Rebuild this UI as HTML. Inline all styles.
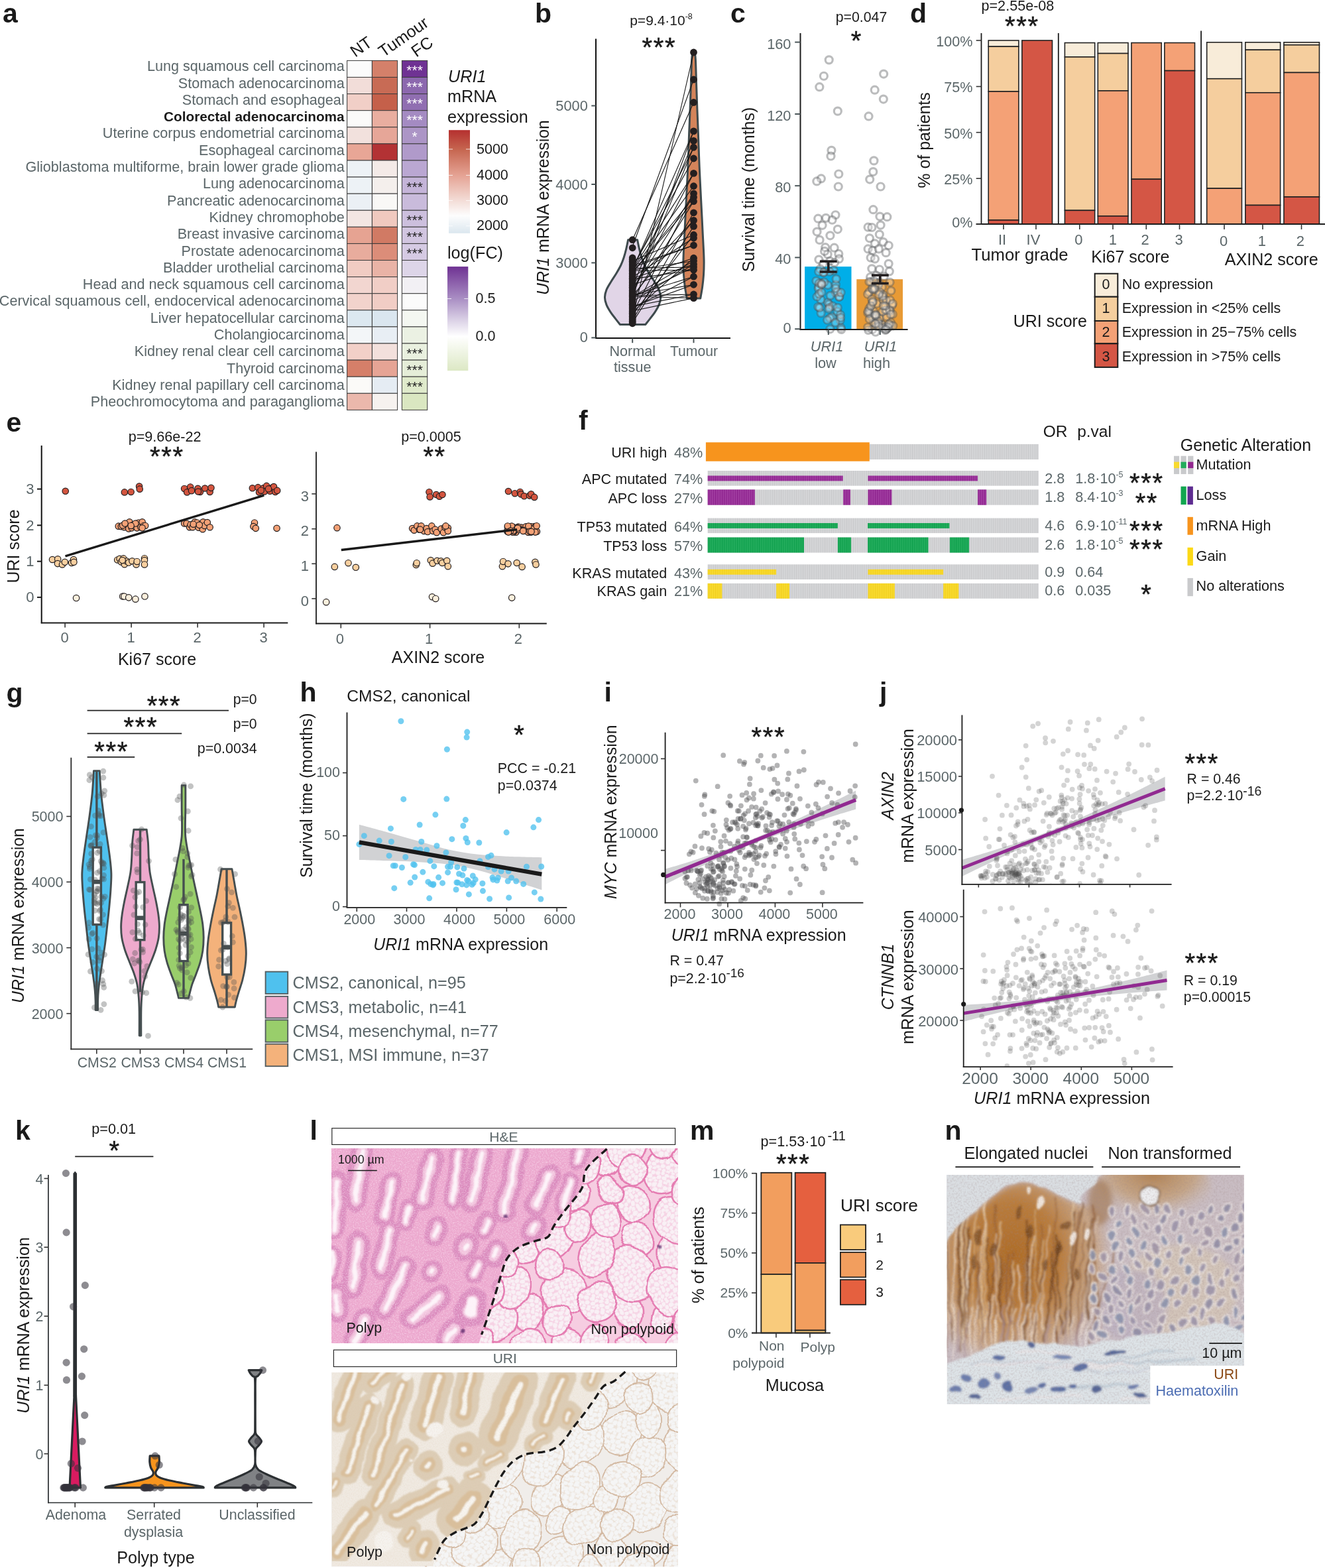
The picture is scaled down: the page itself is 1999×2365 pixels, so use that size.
<!DOCTYPE html>
<html lang="en">
<head>
<meta charset="utf-8">
<title>URI1 expression in colorectal cancer</title>
<style>
html,body{margin:0;padding:0;background:#fff;}
body{width:1999px;height:2365px;overflow:hidden;}
svg{display:block;font-family:"Liberation Sans",Arial,Helvetica,sans-serif;}
</style>
</head>
<body>
<svg width="1999" height="2365" viewBox="0 0 1999 2365" role="img" aria-label="URI1 expression across cancers and in colorectal polyps">
<text x="4" y="33.5" font-size="41" fill="#1a1a1a" font-weight="bold">a</text>
<text x="519.7" y="107.2" font-size="21.6" fill="#5b6669" text-anchor="end">Lung squamous cell carcinoma</text>
<rect x="523.6" y="91.4" width="37.8" height="25.09" fill="#FBFBFB" stroke="#3a3a3a" stroke-width="1"/>
<rect x="561.4" y="91.4" width="38.2" height="25.09" fill="#D4806A" stroke="#3a3a3a" stroke-width="1"/>
<rect x="606.4" y="91.4" width="38.3" height="25.09" fill="#6F3293" stroke="#3a3a3a" stroke-width="1"/>
<text x="625.55" y="112.6" font-size="21" fill="#fff" text-anchor="middle">***</text>
<text x="519.7" y="132.5" font-size="21.6" fill="#5b6669" text-anchor="end">Stomach adenocarcinoma</text>
<rect x="523.6" y="116.5" width="37.8" height="25.09" fill="#F2DDD9" stroke="#3a3a3a" stroke-width="1"/>
<rect x="561.4" y="116.5" width="38.2" height="25.09" fill="#C86B55" stroke="#3a3a3a" stroke-width="1"/>
<rect x="606.4" y="116.5" width="38.3" height="25.09" fill="#8C68AE" stroke="#3a3a3a" stroke-width="1"/>
<text x="625.55" y="137.73" font-size="21" fill="#fff" text-anchor="middle">***</text>
<text x="519.7" y="157.81" font-size="21.6" fill="#5b6669" text-anchor="end">Stomach and esophageal</text>
<rect x="523.6" y="141.59" width="37.8" height="25.09" fill="#F1CFC7" stroke="#3a3a3a" stroke-width="1"/>
<rect x="561.4" y="141.59" width="38.2" height="25.09" fill="#C5604A" stroke="#3a3a3a" stroke-width="1"/>
<rect x="606.4" y="141.59" width="38.3" height="25.09" fill="#906EB1" stroke="#3a3a3a" stroke-width="1"/>
<text x="625.55" y="162.86" font-size="21" fill="#fff" text-anchor="middle">***</text>
<text x="519.7" y="183.12" font-size="20.8" fill="#1a1a1a" text-anchor="end" font-weight="bold">Colorectal adenocarcinoma</text>
<rect x="523.6" y="166.69" width="37.8" height="25.09" fill="#FBFAF9" stroke="#3a3a3a" stroke-width="1"/>
<rect x="561.4" y="166.69" width="38.2" height="25.09" fill="#E9AEA0" stroke="#3a3a3a" stroke-width="1"/>
<rect x="606.4" y="166.69" width="38.3" height="25.09" fill="#A48BC2" stroke="#3a3a3a" stroke-width="1"/>
<text x="625.55" y="187.99" font-size="21" fill="#fff" text-anchor="middle">***</text>
<text x="519.7" y="208.42" font-size="21.6" fill="#5b6669" text-anchor="end">Uterine corpus endometrial carcinoma</text>
<rect x="523.6" y="191.78" width="37.8" height="25.09" fill="#F2E1DD" stroke="#3a3a3a" stroke-width="1"/>
<rect x="561.4" y="191.78" width="38.2" height="25.09" fill="#E6A698" stroke="#3a3a3a" stroke-width="1"/>
<rect x="606.4" y="191.78" width="38.3" height="25.09" fill="#AC95C6" stroke="#3a3a3a" stroke-width="1"/>
<text x="625.55" y="213.12" font-size="21" fill="#fff" text-anchor="middle">*</text>
<text x="519.7" y="233.73" font-size="21.6" fill="#5b6669" text-anchor="end">Esophageal carcinoma</text>
<rect x="523.6" y="216.88" width="37.8" height="25.09" fill="#E8A696" stroke="#3a3a3a" stroke-width="1"/>
<rect x="561.4" y="216.88" width="38.2" height="25.09" fill="#B33234" stroke="#3a3a3a" stroke-width="1"/>
<rect x="606.4" y="216.88" width="38.3" height="25.09" fill="#B09ACA" stroke="#3a3a3a" stroke-width="1"/>
<text x="519.7" y="259.03" font-size="21.6" fill="#5b6669" text-anchor="end">Glioblastoma multiforme, brain lower grade glioma</text>
<rect x="523.6" y="241.97" width="37.8" height="25.09" fill="#EDF2F6" stroke="#3a3a3a" stroke-width="1"/>
<rect x="561.4" y="241.97" width="38.2" height="25.09" fill="#F4EAE7" stroke="#3a3a3a" stroke-width="1"/>
<rect x="606.4" y="241.97" width="38.3" height="25.09" fill="#BAA7D2" stroke="#3a3a3a" stroke-width="1"/>
<text x="519.7" y="284.33" font-size="21.6" fill="#5b6669" text-anchor="end">Lung adenocarcinoma</text>
<rect x="523.6" y="267.06" width="37.8" height="25.09" fill="#EDF2F6" stroke="#3a3a3a" stroke-width="1"/>
<rect x="561.4" y="267.06" width="38.2" height="25.09" fill="#F4EFEC" stroke="#3a3a3a" stroke-width="1"/>
<rect x="606.4" y="267.06" width="38.3" height="25.09" fill="#C4B4D8" stroke="#3a3a3a" stroke-width="1"/>
<text x="625.55" y="288.51" font-size="21" fill="#222" text-anchor="middle">***</text>
<text x="519.7" y="309.64" font-size="21.6" fill="#5b6669" text-anchor="end">Pancreatic adenocarcinoma</text>
<rect x="523.6" y="292.16" width="37.8" height="25.09" fill="#EBF0F5" stroke="#3a3a3a" stroke-width="1"/>
<rect x="561.4" y="292.16" width="38.2" height="25.09" fill="#F9F8F6" stroke="#3a3a3a" stroke-width="1"/>
<rect x="606.4" y="292.16" width="38.3" height="25.09" fill="#C9BBDB" stroke="#3a3a3a" stroke-width="1"/>
<text x="519.7" y="334.94" font-size="21.6" fill="#5b6669" text-anchor="end">Kidney chromophobe</text>
<rect x="523.6" y="317.25" width="37.8" height="25.09" fill="#F3E6E3" stroke="#3a3a3a" stroke-width="1"/>
<rect x="561.4" y="317.25" width="38.2" height="25.09" fill="#F0C9BF" stroke="#3a3a3a" stroke-width="1"/>
<rect x="606.4" y="317.25" width="38.3" height="25.09" fill="#CCBFDD" stroke="#3a3a3a" stroke-width="1"/>
<text x="625.55" y="338.77" font-size="21" fill="#222" text-anchor="middle">***</text>
<text x="519.7" y="360.25" font-size="21.6" fill="#5b6669" text-anchor="end">Breast invasive carcinoma</text>
<rect x="523.6" y="342.35" width="37.8" height="25.09" fill="#E6A392" stroke="#3a3a3a" stroke-width="1"/>
<rect x="561.4" y="342.35" width="38.2" height="25.09" fill="#D17A64" stroke="#3a3a3a" stroke-width="1"/>
<rect x="606.4" y="342.35" width="38.3" height="25.09" fill="#D1C5E0" stroke="#3a3a3a" stroke-width="1"/>
<text x="625.55" y="363.9" font-size="21" fill="#222" text-anchor="middle">***</text>
<text x="519.7" y="385.56" font-size="21.6" fill="#5b6669" text-anchor="end">Prostate adenocarcinoma</text>
<rect x="523.6" y="367.44" width="37.8" height="25.09" fill="#E8AC9D" stroke="#3a3a3a" stroke-width="1"/>
<rect x="561.4" y="367.44" width="38.2" height="25.09" fill="#DC8D79" stroke="#3a3a3a" stroke-width="1"/>
<rect x="606.4" y="367.44" width="38.3" height="25.09" fill="#D5CAE3" stroke="#3a3a3a" stroke-width="1"/>
<text x="625.55" y="389.03" font-size="21" fill="#222" text-anchor="middle">***</text>
<text x="519.7" y="410.86" font-size="21.6" fill="#5b6669" text-anchor="end">Bladder urothelial carcinoma</text>
<rect x="523.6" y="392.54" width="37.8" height="25.09" fill="#F1CCC3" stroke="#3a3a3a" stroke-width="1"/>
<rect x="561.4" y="392.54" width="38.2" height="25.09" fill="#E9B3A6" stroke="#3a3a3a" stroke-width="1"/>
<rect x="606.4" y="392.54" width="38.3" height="25.09" fill="#DDD5E8" stroke="#3a3a3a" stroke-width="1"/>
<text x="519.7" y="436.16" font-size="21.6" fill="#5b6669" text-anchor="end">Head and neck squamous cell carcinoma</text>
<rect x="523.6" y="417.63" width="37.8" height="25.09" fill="#F2D6D0" stroke="#3a3a3a" stroke-width="1"/>
<rect x="561.4" y="417.63" width="38.2" height="25.09" fill="#F1CEC6" stroke="#3a3a3a" stroke-width="1"/>
<rect x="606.4" y="417.63" width="38.3" height="25.09" fill="#F2F0F4" stroke="#3a3a3a" stroke-width="1"/>
<text x="519.7" y="461.47" font-size="21.6" fill="#5b6669" text-anchor="end">Cervical squamous cell, endocervical adenocarcinoma</text>
<rect x="523.6" y="442.73" width="37.8" height="25.09" fill="#F2D3CC" stroke="#3a3a3a" stroke-width="1"/>
<rect x="561.4" y="442.73" width="38.2" height="25.09" fill="#F1CDC5" stroke="#3a3a3a" stroke-width="1"/>
<rect x="606.4" y="442.73" width="38.3" height="25.09" fill="#FBFBFB" stroke="#3a3a3a" stroke-width="1"/>
<text x="519.7" y="486.77" font-size="21.6" fill="#5b6669" text-anchor="end">Liver hepatocellular carcinoma</text>
<rect x="523.6" y="467.82" width="37.8" height="25.09" fill="#DCE8F0" stroke="#3a3a3a" stroke-width="1"/>
<rect x="561.4" y="467.82" width="38.2" height="25.09" fill="#DAE6EF" stroke="#3a3a3a" stroke-width="1"/>
<rect x="606.4" y="467.82" width="38.3" height="25.09" fill="#F4F7F1" stroke="#3a3a3a" stroke-width="1"/>
<text x="519.7" y="512.08" font-size="21.6" fill="#5b6669" text-anchor="end">Cholangiocarcinoma</text>
<rect x="523.6" y="492.92" width="37.8" height="25.09" fill="#F3F6F8" stroke="#3a3a3a" stroke-width="1"/>
<rect x="561.4" y="492.92" width="38.2" height="25.09" fill="#E8EEF4" stroke="#3a3a3a" stroke-width="1"/>
<rect x="606.4" y="492.92" width="38.3" height="25.09" fill="#EBF1E3" stroke="#3a3a3a" stroke-width="1"/>
<text x="519.7" y="537.38" font-size="21.6" fill="#5b6669" text-anchor="end">Kidney renal clear cell carcinoma</text>
<rect x="523.6" y="518.01" width="37.8" height="25.09" fill="#F2D0C8" stroke="#3a3a3a" stroke-width="1"/>
<rect x="561.4" y="518.01" width="38.2" height="25.09" fill="#F3E0DC" stroke="#3a3a3a" stroke-width="1"/>
<rect x="606.4" y="518.01" width="38.3" height="25.09" fill="#E9F0DF" stroke="#3a3a3a" stroke-width="1"/>
<text x="625.55" y="539.81" font-size="21" fill="#222" text-anchor="middle">***</text>
<text x="519.7" y="562.69" font-size="21.6" fill="#5b6669" text-anchor="end">Thyroid carcinoma</text>
<rect x="523.6" y="543.11" width="37.8" height="25.09" fill="#D57F69" stroke="#3a3a3a" stroke-width="1"/>
<rect x="561.4" y="543.11" width="38.2" height="25.09" fill="#E6A495" stroke="#3a3a3a" stroke-width="1"/>
<rect x="606.4" y="543.11" width="38.3" height="25.09" fill="#E5EDD8" stroke="#3a3a3a" stroke-width="1"/>
<text x="625.55" y="564.94" font-size="21" fill="#222" text-anchor="middle">***</text>
<text x="519.7" y="588" font-size="21.6" fill="#5b6669" text-anchor="end">Kidney renal papillary cell carcinoma</text>
<rect x="523.6" y="568.2" width="37.8" height="25.09" fill="#FBFAF8" stroke="#3a3a3a" stroke-width="1"/>
<rect x="561.4" y="568.2" width="38.2" height="25.09" fill="#E5ECF3" stroke="#3a3a3a" stroke-width="1"/>
<rect x="606.4" y="568.2" width="38.3" height="25.09" fill="#DFEACB" stroke="#3a3a3a" stroke-width="1"/>
<text x="625.55" y="590.07" font-size="21" fill="#222" text-anchor="middle">***</text>
<text x="519.7" y="613.3" font-size="21.6" fill="#5b6669" text-anchor="end">Pheochromocytoma and paraganglioma</text>
<rect x="523.6" y="593.3" width="37.8" height="25.09" fill="#EBB8AC" stroke="#3a3a3a" stroke-width="1"/>
<rect x="561.4" y="593.3" width="38.2" height="25.09" fill="#F6F2EF" stroke="#3a3a3a" stroke-width="1"/>
<rect x="606.4" y="593.3" width="38.3" height="25.09" fill="#DAE7C1" stroke="#3a3a3a" stroke-width="1"/>
<text x="536" y="87" font-size="25" fill="#1a1a1a" transform="rotate(-35 536 87)">NT</text>
<text x="578.5" y="87" font-size="25" fill="#1a1a1a" transform="rotate(-35 578.5 87)">Tumour</text>
<text x="628" y="87" font-size="25" fill="#1a1a1a" transform="rotate(-35 628 87)">FC</text>
<defs><linearGradient id="gRed" x1="0" y1="0" x2="0" y2="1"><stop offset="0" stop-color="#B5302F"/><stop offset="0.19" stop-color="#C66650"/><stop offset="0.44" stop-color="#E5A394"/><stop offset="0.68" stop-color="#F3DCD6"/><stop offset="0.83" stop-color="#FDFDFD"/><stop offset="1" stop-color="#DBE7EF"/></linearGradient><linearGradient id="gPur" x1="0" y1="0" x2="0" y2="1"><stop offset="0" stop-color="#6F3293"/><stop offset="0.31" stop-color="#AA8FC4"/><stop offset="0.52" stop-color="#DCD3E7"/><stop offset="0.67" stop-color="#FFFFFF"/><stop offset="1" stop-color="#DCE8C4"/></linearGradient></defs>
<text x="676" y="123.5" font-size="25.2" fill="#1a1a1a" font-style="italic">URI1</text>
<text x="675" y="153.5" font-size="25.2" fill="#1a1a1a">mRNA</text>
<text x="675" y="184.5" font-size="25.2" fill="#1a1a1a">expression</text>
<rect x="677" y="196.2" width="32" height="155.6" fill="url(#gRed)"/>
<line x1="677" y1="225" x2="683" y2="225" stroke="#fff" stroke-width="0.8"/>
<line x1="703" y1="225" x2="709" y2="225" stroke="#fff" stroke-width="0.8"/>
<text x="719" y="231.5" font-size="21.5" fill="#1a1a1a">5000</text>
<line x1="677" y1="264.4" x2="683" y2="264.4" stroke="#fff" stroke-width="0.8"/>
<line x1="703" y1="264.4" x2="709" y2="264.4" stroke="#fff" stroke-width="0.8"/>
<text x="719" y="270.9" font-size="21.5" fill="#1a1a1a">4000</text>
<line x1="677" y1="302.6" x2="683" y2="302.6" stroke="#fff" stroke-width="0.8"/>
<line x1="703" y1="302.6" x2="709" y2="302.6" stroke="#fff" stroke-width="0.8"/>
<text x="719" y="309.1" font-size="21.5" fill="#1a1a1a">3000</text>
<line x1="677" y1="340.8" x2="683" y2="340.8" stroke="#fff" stroke-width="0.8"/>
<line x1="703" y1="340.8" x2="709" y2="340.8" stroke="#fff" stroke-width="0.8"/>
<text x="719" y="347.3" font-size="21.5" fill="#1a1a1a">2000</text>
<text x="675" y="389.5" font-size="25.2" fill="#1a1a1a">log(FC)</text>
<rect x="675" y="402.1" width="31.3" height="157" fill="url(#gPur)"/>
<line x1="675" y1="450.5" x2="681" y2="450.5" stroke="#fff" stroke-width="0.8"/>
<line x1="700.3" y1="450.5" x2="706.3" y2="450.5" stroke="#fff" stroke-width="0.8"/>
<text x="717.5" y="457" font-size="21.5" fill="#1a1a1a">0.5</text>
<line x1="675" y1="507" x2="681" y2="507" stroke="#fff" stroke-width="0.8"/>
<line x1="700.3" y1="507" x2="706.3" y2="507" stroke="#fff" stroke-width="0.8"/>
<text x="717.5" y="513.5" font-size="21.5" fill="#1a1a1a">0.0</text>
<text x="807" y="33.5" font-size="41" fill="#1a1a1a" font-weight="bold">b</text>
<text x="997.5" y="38" font-size="21" fill="#1a1a1a" text-anchor="middle">p=9.4·10<tspan font-size="12.5" dy="-9">-8</tspan></text>
<text x="994.3" y="84.6" font-size="40" fill="#1a1a1a" text-anchor="middle" letter-spacing="1.6" stroke="#1a1a1a" stroke-width="0.5">***</text>
<path d="M947.62 361.71 C947.16 363.9 945.96 370.34 944.88 374.81 C943.8 379.28 942.49 384.37 941.13 388.53 C939.78 392.69 938.64 395.8 936.77 399.75 C934.9 403.7 932.51 407.86 929.91 412.22 C927.31 416.59 923.67 421.79 921.18 425.94 C918.69 430.1 916.4 433.43 914.94 437.17 C913.49 440.91 912.45 444.65 912.45 448.39 C912.45 452.14 913.49 455.88 914.94 459.62 C916.4 463.36 918.89 467.31 921.18 470.84 C923.47 474.38 926.27 477.7 928.66 480.82 C931.05 483.94 934.38 488.1 935.52 489.55 L973.69 489.55 L973.69 489.55 C974.83 488.1 978.16 483.94 980.55 480.82 C982.94 477.7 985.74 474.38 988.03 470.84 C990.32 467.31 992.81 463.36 994.27 459.62 C995.72 455.88 996.76 452.14 996.76 448.39 C996.76 444.65 995.72 440.91 994.27 437.17 C992.81 433.43 990.52 430.1 988.03 425.94 C985.54 421.79 981.9 416.59 979.3 412.22 C976.7 407.86 974.31 403.7 972.44 399.75 C970.57 395.8 969.43 392.69 968.07 388.53 C966.72 384.37 965.41 379.28 964.33 374.81 C963.25 370.34 962.05 363.9 961.59 361.71 Z" fill="#E1D5E7" stroke="#3f4b4e" stroke-width="3" stroke-linejoin="round"/>
<path d="M1036.3 450 C1035.82 447.17 1034.2 438.88 1033.4 433 C1032.6 427.12 1031.92 420.87 1031.5 414.7 C1031.08 408.53 1030.9 402.23 1030.9 396 C1030.9 389.77 1031.18 384.57 1031.5 377.3 C1031.82 370.03 1032.38 360.72 1032.8 352.4 C1033.22 344.08 1033.58 335.72 1034 327.4 C1034.42 319.08 1034.67 315.07 1035.3 302.5 C1035.93 289.93 1037.08 268.73 1037.8 252 C1038.52 235.27 1039.05 216.65 1039.6 202.1 C1040.15 187.55 1040.63 177.17 1041.1 164.7 C1041.57 152.23 1041.98 139.75 1042.4 127.3 C1042.82 114.85 1043.18 98.05 1043.6 90 C1044.02 81.95 1044.68 80.83 1044.9 79 L1048.1 79 C1048.32 80.83 1048.98 81.95 1049.4 90 C1049.82 98.05 1050.18 114.85 1050.6 127.3 C1051.02 139.75 1051.43 152.23 1051.9 164.7 C1052.37 177.17 1052.85 187.55 1053.4 202.1 C1053.95 216.65 1054.48 235.27 1055.2 252 C1055.92 268.73 1057.07 289.93 1057.7 302.5 C1058.33 315.07 1058.58 319.08 1059 327.4 C1059.42 335.72 1059.78 344.08 1060.2 352.4 C1060.62 360.72 1061.18 370.03 1061.5 377.3 C1061.82 384.57 1062.1 389.77 1062.1 396 C1062.1 402.23 1061.92 408.53 1061.5 414.7 C1061.08 420.87 1060.4 427.12 1059.6 433 C1058.8 438.88 1057.18 447.17 1056.7 450 Z" fill="#D4845A" stroke="#3f4b4e" stroke-width="3" stroke-linejoin="round"/>
<g stroke="#151515" stroke-width="1.1">
<line x1="954.2" y1="481" x2="1046.5" y2="79"/>
<line x1="954.2" y1="372" x2="1046.5" y2="120"/>
<line x1="954.2" y1="362" x2="1046.5" y2="154.5"/>
<line x1="954.2" y1="406.45" x2="1046.5" y2="197.9"/>
<line x1="954.2" y1="447.69" x2="1046.5" y2="197.9"/>
<line x1="954.2" y1="432.55" x2="1046.5" y2="212.4"/>
<line x1="954.2" y1="405.16" x2="1046.5" y2="222.3"/>
<line x1="954.2" y1="445.16" x2="1046.5" y2="222.3"/>
<line x1="954.2" y1="403.34" x2="1046.5" y2="239"/>
<line x1="954.2" y1="438.59" x2="1046.5" y2="261.4"/>
<line x1="954.2" y1="406.22" x2="1046.5" y2="261.4"/>
<line x1="954.2" y1="408.07" x2="1046.5" y2="280.7"/>
<line x1="954.2" y1="437.78" x2="1046.5" y2="291.9"/>
<line x1="954.2" y1="473.59" x2="1046.5" y2="291.9"/>
<line x1="954.2" y1="411.02" x2="1046.5" y2="297.5"/>
<line x1="954.2" y1="411.32" x2="1046.5" y2="303.7"/>
<line x1="954.2" y1="451.74" x2="1046.5" y2="303.7"/>
<line x1="954.2" y1="483.77" x2="1046.5" y2="320.8"/>
<line x1="954.2" y1="446.71" x2="1046.5" y2="332.4"/>
<line x1="954.2" y1="428.67" x2="1046.5" y2="332.4"/>
<line x1="954.2" y1="486.63" x2="1046.5" y2="341.4"/>
<line x1="954.2" y1="393.66" x2="1046.5" y2="354.2"/>
<line x1="954.2" y1="474.85" x2="1046.5" y2="354.2"/>
<line x1="954.2" y1="417.96" x2="1046.5" y2="359"/>
<line x1="954.2" y1="403.43" x2="1046.5" y2="370"/>
<line x1="954.2" y1="400.78" x2="1046.5" y2="370"/>
<line x1="954.2" y1="419.85" x2="1046.5" y2="389.2"/>
<line x1="954.2" y1="470.61" x2="1046.5" y2="389.2"/>
<line x1="954.2" y1="407.48" x2="1046.5" y2="393.5"/>
<line x1="954.2" y1="447.37" x2="1046.5" y2="393.5"/>
<line x1="954.2" y1="454.88" x2="1046.5" y2="398.5"/>
<line x1="954.2" y1="429.69" x2="1046.5" y2="398.5"/>
<line x1="954.2" y1="448.25" x2="1046.5" y2="402.9"/>
<line x1="954.2" y1="404.56" x2="1046.5" y2="402.9"/>
<line x1="954.2" y1="408.31" x2="1046.5" y2="407.2"/>
<line x1="954.2" y1="420.87" x2="1046.5" y2="407.2"/>
<line x1="954.2" y1="464.77" x2="1046.5" y2="417.2"/>
<line x1="954.2" y1="445.61" x2="1046.5" y2="417.2"/>
<line x1="954.2" y1="445.31" x2="1046.5" y2="429.3"/>
<line x1="954.2" y1="462.6" x2="1046.5" y2="429.3"/>
<line x1="954.2" y1="462.21" x2="1046.5" y2="444"/>
<line x1="954.2" y1="447" x2="1046.5" y2="449.6"/>
<line x1="954.2" y1="446" x2="1046.5" y2="444"/>
<line x1="954.2" y1="469" x2="1046.5" y2="449.6"/>
</g>
<g fill="#231f20">
<circle cx="954.2" cy="361.7" r="5.4"/>
<circle cx="954.2" cy="373.8" r="5.4"/>
<circle cx="954.2" cy="389" r="5.4"/>
<circle cx="954.2" cy="391.6" r="5.4"/>
<circle cx="954.2" cy="394.2" r="5.4"/>
<circle cx="954.2" cy="396.8" r="5.4"/>
<circle cx="954.2" cy="399.4" r="5.4"/>
<circle cx="954.2" cy="402" r="5.4"/>
<circle cx="954.2" cy="404.6" r="5.4"/>
<circle cx="954.2" cy="407.2" r="5.4"/>
<circle cx="954.2" cy="409.8" r="5.4"/>
<circle cx="954.2" cy="412.4" r="5.4"/>
<circle cx="954.2" cy="415" r="5.4"/>
<circle cx="954.2" cy="417.6" r="5.4"/>
<circle cx="954.2" cy="420.2" r="5.4"/>
<circle cx="954.2" cy="422.8" r="5.4"/>
<circle cx="954.2" cy="425.4" r="5.4"/>
<circle cx="954.2" cy="428" r="5.4"/>
<circle cx="954.2" cy="430.6" r="5.4"/>
<circle cx="954.2" cy="433.2" r="5.4"/>
<circle cx="954.2" cy="435.8" r="5.4"/>
<circle cx="954.2" cy="438.4" r="5.4"/>
<circle cx="954.2" cy="441" r="5.4"/>
<circle cx="954.2" cy="443.6" r="5.4"/>
<circle cx="954.2" cy="446.2" r="5.4"/>
<circle cx="954.2" cy="448.8" r="5.4"/>
<circle cx="954.2" cy="451.4" r="5.4"/>
<circle cx="954.2" cy="454" r="5.4"/>
<circle cx="954.2" cy="456.6" r="5.4"/>
<circle cx="954.2" cy="459.2" r="5.4"/>
<circle cx="954.2" cy="461.8" r="5.4"/>
<circle cx="954.2" cy="464.4" r="5.4"/>
<circle cx="954.2" cy="467" r="5.4"/>
<circle cx="954.2" cy="469.6" r="5.4"/>
<circle cx="954.2" cy="472.2" r="5.4"/>
<circle cx="954.2" cy="474.8" r="5.4"/>
<circle cx="954.2" cy="477.4" r="5.4"/>
<circle cx="954.2" cy="480" r="5.4"/>
<circle cx="954.2" cy="482.6" r="5.4"/>
<circle cx="954.2" cy="485.2" r="5.4"/>
<circle cx="954.2" cy="487.8" r="5.4"/>
<circle cx="1046.5" cy="79" r="5.4"/>
<circle cx="1046.5" cy="120" r="5.4"/>
<circle cx="1046.5" cy="154.5" r="5.4"/>
<circle cx="1046.5" cy="197.9" r="5.4"/>
<circle cx="1046.5" cy="212.4" r="5.4"/>
<circle cx="1046.5" cy="222.3" r="5.4"/>
<circle cx="1046.5" cy="239" r="5.4"/>
<circle cx="1046.5" cy="261.4" r="5.4"/>
<circle cx="1046.5" cy="280.7" r="5.4"/>
<circle cx="1046.5" cy="291.9" r="5.4"/>
<circle cx="1046.5" cy="297.5" r="5.4"/>
<circle cx="1046.5" cy="303.7" r="5.4"/>
<circle cx="1046.5" cy="320.8" r="5.4"/>
<circle cx="1046.5" cy="332.4" r="5.4"/>
<circle cx="1046.5" cy="341.4" r="5.4"/>
<circle cx="1046.5" cy="354.2" r="5.4"/>
<circle cx="1046.5" cy="359" r="5.4"/>
<circle cx="1046.5" cy="370" r="5.4"/>
<circle cx="1046.5" cy="389.2" r="5.4"/>
<circle cx="1046.5" cy="393.5" r="5.4"/>
<circle cx="1046.5" cy="398.5" r="5.4"/>
<circle cx="1046.5" cy="402.9" r="5.4"/>
<circle cx="1046.5" cy="407.2" r="5.4"/>
<circle cx="1046.5" cy="417.2" r="5.4"/>
<circle cx="1046.5" cy="429.3" r="5.4"/>
<circle cx="1046.5" cy="444" r="5.4"/>
<circle cx="1046.5" cy="449.6" r="5.4"/>
</g>
<line x1="899" y1="58.5" x2="899" y2="511.1" stroke="#111" stroke-width="2"/>
<line x1="898" y1="510.1" x2="1102" y2="510.1" stroke="#111" stroke-width="2"/>
<line x1="892.3" y1="159.5" x2="899" y2="159.5" stroke="#4a5558" stroke-width="2"/>
<text x="886.8" y="167.4" font-size="21.8" fill="#5b6669" text-anchor="end">5000</text>
<line x1="892.3" y1="278" x2="899" y2="278" stroke="#4a5558" stroke-width="2"/>
<text x="886.8" y="285.9" font-size="21.8" fill="#5b6669" text-anchor="end">4000</text>
<line x1="892.3" y1="396.4" x2="899" y2="396.4" stroke="#4a5558" stroke-width="2"/>
<text x="886.8" y="404.3" font-size="21.8" fill="#5b6669" text-anchor="end">3000</text>
<line x1="892.3" y1="509.4" x2="899" y2="509.4" stroke="#4a5558" stroke-width="2"/>
<text x="886.8" y="516.2" font-size="21.8" fill="#5b6669" text-anchor="end">0</text>
<line x1="954.2" y1="510.1" x2="954.2" y2="517.2" stroke="#4a5558" stroke-width="2"/>
<line x1="1046.5" y1="510.1" x2="1046.5" y2="517.2" stroke="#4a5558" stroke-width="2"/>
<text x="954.2" y="537" font-size="21.6" fill="#5b6669" text-anchor="middle">Normal</text>
<text x="954.2" y="560.5" font-size="21.6" fill="#5b6669" text-anchor="middle">tissue</text>
<text x="1047" y="537" font-size="21.2" fill="#5b6669" text-anchor="middle">Tumour</text>
<text x="827.5" y="313" font-size="25" fill="#1a1a1a" text-anchor="middle" transform="rotate(-90 827.5 313)"><tspan font-style="italic">URI1</tspan> mRNA expression</text>
<text x="1102" y="33.5" font-size="41" fill="#1a1a1a" font-weight="bold">c</text>
<text x="1299.5" y="32.7" font-size="21.3" fill="#1a1a1a" text-anchor="middle">p=0.047</text>
<text x="1292.3" y="75.1" font-size="40" fill="#1a1a1a" text-anchor="middle" letter-spacing="1.6" stroke="#1a1a1a" stroke-width="0.5">*</text>
<rect x="1214.1" y="402.1" width="70.4" height="95" fill="#00AEE8"/>
<rect x="1292.3" y="421.2" width="69.7" height="76" fill="#E89A35"/>
<g fill="#ffffff" fill-opacity="0.28" stroke="#55575a" stroke-opacity="0.4" stroke-width="3.2">
<circle cx="1250.72" cy="90.37" r="5.5"/>
<circle cx="1242.9" cy="114.75" r="5.5"/>
<circle cx="1236.34" cy="131.19" r="5.5"/>
<circle cx="1263.83" cy="167.64" r="5.5"/>
<circle cx="1254.4" cy="226.87" r="5.5"/>
<circle cx="1253.48" cy="235.49" r="5.5"/>
<circle cx="1265.32" cy="262.52" r="5.5"/>
<circle cx="1238.87" cy="269.42" r="5.5"/>
<circle cx="1232.32" cy="273.44" r="5.5"/>
<circle cx="1264.75" cy="281.49" r="5.5"/>
<circle cx="1333.17" cy="111.53" r="5.5"/>
<circle cx="1319.71" cy="135.68" r="5.5"/>
<circle cx="1332.82" cy="149.59" r="5.5"/>
<circle cx="1310.52" cy="175.46" r="5.5"/>
<circle cx="1318.45" cy="242.39" r="5.5"/>
<circle cx="1317.3" cy="259.07" r="5.5"/>
<circle cx="1312.24" cy="270.57" r="5.5"/>
<circle cx="1328.57" cy="281.49" r="5.5"/>
<circle cx="1234.27" cy="329.68" r="5.5"/>
<circle cx="1246" cy="328.87" r="5.5"/>
<circle cx="1260.49" cy="324.27" r="5.5"/>
<circle cx="1255.55" cy="331.75" r="5.5"/>
<circle cx="1240.6" cy="339.8" r="5.5"/>
<circle cx="1263.83" cy="345.78" r="5.5"/>
<circle cx="1232.55" cy="349.57" r="5.5"/>
<circle cx="1252.44" cy="355.32" r="5.5"/>
<circle cx="1236.57" cy="361.88" r="5.5"/>
<circle cx="1245.2" cy="373.15" r="5.5"/>
<circle cx="1258.65" cy="373.72" r="5.5"/>
<circle cx="1265.32" cy="382.92" r="5.5"/>
<circle cx="1248.65" cy="383.5" r="5.5"/>
<circle cx="1235.42" cy="391.55" r="5.5"/>
<circle cx="1265.9" cy="390.4" r="5.5"/>
<circle cx="1252.1" cy="393.85" r="5.5"/>
<circle cx="1244.05" cy="378.9" r="5.5"/>
<circle cx="1259" cy="396.15" r="5.5"/>
<circle cx="1241.75" cy="398.45" r="5.5"/>
<circle cx="1317.41" cy="316.22" r="5.5"/>
<circle cx="1327.42" cy="326.57" r="5.5"/>
<circle cx="1338.34" cy="327.15" r="5.5"/>
<circle cx="1328.57" cy="339.57" r="5.5"/>
<circle cx="1309.6" cy="342.67" r="5.5"/>
<circle cx="1315.34" cy="343.02" r="5.5"/>
<circle cx="1326.84" cy="353.6" r="5.5"/>
<circle cx="1311.9" cy="359.35" r="5.5"/>
<circle cx="1319.94" cy="367.4" r="5.5"/>
<circle cx="1332.59" cy="365.1" r="5.5"/>
<circle cx="1340.64" cy="370.27" r="5.5"/>
<circle cx="1309.6" cy="375.45" r="5.5"/>
<circle cx="1316.49" cy="377.75" r="5.5"/>
<circle cx="1325.69" cy="375.45" r="5.5"/>
<circle cx="1336.62" cy="381.2" r="5.5"/>
<circle cx="1313.62" cy="388.67" r="5.5"/>
<circle cx="1319.94" cy="390.4" r="5.5"/>
<circle cx="1340.64" cy="397.87" r="5.5"/>
<circle cx="1315.34" cy="405.34" r="5.5"/>
<circle cx="1326.84" cy="406.49" r="5.5"/>
<circle cx="1341.79" cy="409.37" r="5.5"/>
<circle cx="1313.05" cy="417.99" r="5.5"/>
<circle cx="1322.24" cy="415.69" r="5.5"/>
<circle cx="1333.74" cy="416.84" r="5.5"/>
<circle cx="1248.57" cy="456.34" r="5.5"/>
<circle cx="1266.47" cy="447.57" r="5.5"/>
<circle cx="1250.67" cy="458.91" r="5.5"/>
<circle cx="1238.41" cy="451.88" r="5.5"/>
<circle cx="1255.3" cy="478.06" r="5.5"/>
<circle cx="1234.97" cy="432.46" r="5.5"/>
<circle cx="1252.09" cy="479.61" r="5.5"/>
<circle cx="1257.71" cy="408.1" r="5.5"/>
<circle cx="1268.67" cy="494.06" r="5.5"/>
<circle cx="1256.21" cy="461.53" r="5.5"/>
<circle cx="1237.38" cy="405.59" r="5.5"/>
<circle cx="1251.45" cy="409.74" r="5.5"/>
<circle cx="1238.62" cy="426.73" r="5.5"/>
<circle cx="1232.54" cy="447.41" r="5.5"/>
<circle cx="1248.12" cy="482.66" r="5.5"/>
<circle cx="1251.1" cy="463.84" r="5.5"/>
<circle cx="1250.36" cy="465.9" r="5.5"/>
<circle cx="1248.75" cy="430.1" r="5.5"/>
<circle cx="1269.26" cy="496.94" r="5.5"/>
<circle cx="1263.28" cy="470.12" r="5.5"/>
<circle cx="1243.36" cy="425.59" r="5.5"/>
<circle cx="1242.37" cy="410.74" r="5.5"/>
<circle cx="1260.48" cy="441.49" r="5.5"/>
<circle cx="1263.52" cy="440.2" r="5.5"/>
<circle cx="1267.75" cy="483.12" r="5.5"/>
<circle cx="1231.42" cy="423.73" r="5.5"/>
<circle cx="1265.94" cy="447.97" r="5.5"/>
<circle cx="1268.6" cy="441.21" r="5.5"/>
<circle cx="1234.17" cy="462.83" r="5.5"/>
<circle cx="1260.94" cy="429.32" r="5.5"/>
<circle cx="1234.71" cy="435.17" r="5.5"/>
<circle cx="1267.98" cy="474.8" r="5.5"/>
<circle cx="1235.88" cy="427.15" r="5.5"/>
<circle cx="1235.23" cy="409.77" r="5.5"/>
<circle cx="1261.64" cy="420.75" r="5.5"/>
<circle cx="1252.62" cy="445.87" r="5.5"/>
<circle cx="1238.63" cy="472.37" r="5.5"/>
<circle cx="1236.37" cy="464.15" r="5.5"/>
<circle cx="1235.82" cy="443.39" r="5.5"/>
<circle cx="1239.48" cy="429.33" r="5.5"/>
<circle cx="1268.24" cy="479.03" r="5.5"/>
<circle cx="1260.19" cy="486.62" r="5.5"/>
<circle cx="1239.39" cy="440.92" r="5.5"/>
<circle cx="1263.82" cy="463.98" r="5.5"/>
<circle cx="1252.46" cy="496.34" r="5.5"/>
<circle cx="1239.49" cy="428.25" r="5.5"/>
<circle cx="1260.72" cy="434.84" r="5.5"/>
<circle cx="1242.64" cy="411.03" r="5.5"/>
<circle cx="1311.97" cy="468.16" r="5.5"/>
<circle cx="1317.95" cy="469.61" r="5.5"/>
<circle cx="1322.98" cy="458.03" r="5.5"/>
<circle cx="1345.95" cy="460.42" r="5.5"/>
<circle cx="1330.91" cy="490.35" r="5.5"/>
<circle cx="1315.59" cy="434.65" r="5.5"/>
<circle cx="1343.96" cy="486.54" r="5.5"/>
<circle cx="1318.2" cy="437.44" r="5.5"/>
<circle cx="1337.36" cy="496.13" r="5.5"/>
<circle cx="1316.13" cy="496.89" r="5.5"/>
<circle cx="1342.94" cy="469.79" r="5.5"/>
<circle cx="1324.92" cy="430.71" r="5.5"/>
<circle cx="1309.96" cy="497.87" r="5.5"/>
<circle cx="1317.77" cy="477.69" r="5.5"/>
<circle cx="1318.49" cy="487.01" r="5.5"/>
<circle cx="1331.77" cy="445.54" r="5.5"/>
<circle cx="1315.3" cy="478.92" r="5.5"/>
<circle cx="1311.13" cy="440.45" r="5.5"/>
<circle cx="1330.32" cy="489.25" r="5.5"/>
<circle cx="1332.46" cy="444.51" r="5.5"/>
<circle cx="1344.31" cy="438.54" r="5.5"/>
<circle cx="1309.09" cy="443.64" r="5.5"/>
<circle cx="1325.87" cy="427.32" r="5.5"/>
<circle cx="1315.34" cy="451.43" r="5.5"/>
<circle cx="1330.82" cy="432.88" r="5.5"/>
<circle cx="1322.6" cy="492.26" r="5.5"/>
<circle cx="1346.78" cy="473.96" r="5.5"/>
<circle cx="1335.47" cy="468.3" r="5.5"/>
<circle cx="1313.93" cy="425.34" r="5.5"/>
<circle cx="1309.14" cy="493.77" r="5.5"/>
<circle cx="1335.85" cy="497.88" r="5.5"/>
<circle cx="1309.28" cy="472.34" r="5.5"/>
<circle cx="1327.3" cy="479.72" r="5.5"/>
<circle cx="1320.91" cy="500.74" r="5.5"/>
<circle cx="1311.39" cy="465.3" r="5.5"/>
<circle cx="1337.26" cy="492.99" r="5.5"/>
<circle cx="1337.26" cy="477.62" r="5.5"/>
<circle cx="1339.46" cy="494.14" r="5.5"/>
<circle cx="1322.2" cy="476.17" r="5.5"/>
<circle cx="1343.67" cy="490.71" r="5.5"/>
<circle cx="1324.76" cy="484.41" r="5.5"/>
<circle cx="1342.21" cy="467.39" r="5.5"/>
<circle cx="1332.88" cy="452.49" r="5.5"/>
<circle cx="1331.23" cy="470.21" r="5.5"/>
<circle cx="1311.58" cy="472.59" r="5.5"/>
<circle cx="1347.28" cy="491.39" r="5.5"/>
<circle cx="1336.92" cy="452.97" r="5.5"/>
<circle cx="1337.18" cy="468.02" r="5.5"/>
<circle cx="1325.67" cy="488.15" r="5.5"/>
<circle cx="1311.72" cy="481.26" r="5.5"/>
<circle cx="1309.61" cy="469.61" r="5.5"/>
<circle cx="1327.25" cy="440.6" r="5.5"/>
<circle cx="1335.75" cy="461.48" r="5.5"/>
<circle cx="1332.47" cy="494.57" r="5.5"/>
<circle cx="1318.45" cy="423.48" r="5.5"/>
<circle cx="1320.22" cy="475.62" r="5.5"/>
<circle cx="1316.37" cy="435.86" r="5.5"/>
<circle cx="1343.86" cy="474.2" r="5.5"/>
<circle cx="1325.72" cy="492.32" r="5.5"/>
<circle cx="1321.23" cy="474.67" r="5.5"/>
<circle cx="1316.21" cy="456.29" r="5.5"/>
<circle cx="1339.96" cy="494.08" r="5.5"/>
<circle cx="1342.86" cy="452.65" r="5.5"/>
<circle cx="1331.24" cy="447.34" r="5.5"/>
<circle cx="1313.77" cy="461.42" r="5.5"/>
<circle cx="1341.17" cy="488.96" r="5.5"/>
<circle cx="1336.25" cy="496.88" r="5.5"/>
<circle cx="1319.27" cy="435.82" r="5.5"/>
<circle cx="1326.06" cy="444.11" r="5.5"/>
<circle cx="1316.82" cy="454.97" r="5.5"/>
<circle cx="1332.91" cy="461.21" r="5.5"/>
<circle cx="1320.78" cy="488.21" r="5.5"/>
<circle cx="1346.84" cy="457.98" r="5.5"/>
<circle cx="1311.37" cy="425.06" r="5.5"/>
<circle cx="1342.57" cy="425.84" r="5.5"/>
</g>
<line x1="1249.8" y1="394.2" x2="1249.8" y2="410" stroke="#231f20" stroke-width="3.6"/>
<line x1="1236.9" y1="394.2" x2="1262.7" y2="394.2" stroke="#231f20" stroke-width="3.6"/>
<line x1="1236.9" y1="410" x2="1262.7" y2="410" stroke="#231f20" stroke-width="3.6"/>
<line x1="1327.8" y1="415.1" x2="1327.8" y2="427.4" stroke="#231f20" stroke-width="3.6"/>
<line x1="1314.9" y1="415.1" x2="1340.7" y2="415.1" stroke="#231f20" stroke-width="3.6"/>
<line x1="1314.9" y1="427.4" x2="1340.7" y2="427.4" stroke="#231f20" stroke-width="3.6"/>
<line x1="1207.5" y1="50.1" x2="1207.5" y2="498" stroke="#1c1c1c" stroke-width="2"/>
<line x1="1206.5" y1="497" x2="1369.6" y2="497" stroke="#1c1c1c" stroke-width="2"/>
<line x1="1199.2" y1="63.6" x2="1207.5" y2="63.6" stroke="#4a5558" stroke-width="2"/>
<text x="1193.5" y="73.6" font-size="21.8" fill="#5b6669" text-anchor="end">160</text>
<line x1="1199.2" y1="172" x2="1207.5" y2="172" stroke="#4a5558" stroke-width="2"/>
<text x="1193.5" y="182" font-size="21.8" fill="#5b6669" text-anchor="end">120</text>
<line x1="1199.2" y1="280.2" x2="1207.5" y2="280.2" stroke="#4a5558" stroke-width="2"/>
<text x="1193.5" y="290.2" font-size="21.8" fill="#5b6669" text-anchor="end">80</text>
<line x1="1199.2" y1="388.4" x2="1207.5" y2="388.4" stroke="#4a5558" stroke-width="2"/>
<text x="1193.5" y="398.4" font-size="21.8" fill="#5b6669" text-anchor="end">40</text>
<line x1="1199.2" y1="496.2" x2="1207.5" y2="496.2" stroke="#4a5558" stroke-width="2"/>
<text x="1193.5" y="502.2" font-size="21.8" fill="#5b6669" text-anchor="end">0</text>
<line x1="1249.8" y1="497" x2="1249.8" y2="505" stroke="#4a5558" stroke-width="2"/>
<line x1="1327.8" y1="497" x2="1327.8" y2="505" stroke="#4a5558" stroke-width="2"/>
<text x="1247.5" y="530" font-size="21.8" fill="#5b6669" text-anchor="middle" font-style="italic">URI1</text>
<text x="1245.5" y="554.5" font-size="21.8" fill="#5b6669" text-anchor="middle">low</text>
<text x="1328.5" y="530" font-size="21.8" fill="#5b6669" text-anchor="middle" font-style="italic">URI1</text>
<text x="1322.5" y="554.5" font-size="21.8" fill="#5b6669" text-anchor="middle">high</text>
<text x="1138" y="286" font-size="25" fill="#1a1a1a" text-anchor="middle" transform="rotate(-90 1138 286)">Survival time (months)</text>
<text x="1373" y="33.5" font-size="41" fill="#1a1a1a" font-weight="bold">d</text>
<text x="1480.5" y="16" font-size="21.6" fill="#1a1a1a">p=2.55e-08</text>
<text x="1541.8" y="53.1" font-size="40" fill="#1a1a1a" text-anchor="middle" letter-spacing="1.6" stroke="#1a1a1a" stroke-width="0.5">***</text>
<rect x="1491.23" y="60.97" width="45.64" height="9.27" fill="#F8ECD9" stroke="#222" stroke-width="1.6"/>
<rect x="1491.23" y="70.24" width="45.64" height="67.75" fill="#F5CE9E" stroke="#222" stroke-width="1.6"/>
<rect x="1491.23" y="137.99" width="45.64" height="193.97" fill="#F4A176" stroke="#222" stroke-width="1.6"/>
<rect x="1491.23" y="331.97" width="45.64" height="6.03" fill="#D45645" stroke="#222" stroke-width="1.6"/>
<rect x="1541.87" y="60.97" width="45.64" height="277.03" fill="#D45645" stroke="#222" stroke-width="1.6"/>
<rect x="1606.41" y="64.54" width="45.28" height="21.39" fill="#F8ECD9" stroke="#222" stroke-width="1.6"/>
<rect x="1606.41" y="85.93" width="45.28" height="231.41" fill="#F5CE9E" stroke="#222" stroke-width="1.6"/>
<rect x="1606.41" y="317.35" width="45.28" height="20.65" fill="#D45645" stroke="#222" stroke-width="1.6"/>
<rect x="1656.33" y="64.54" width="45.64" height="16.05" fill="#F8ECD9" stroke="#222" stroke-width="1.6"/>
<rect x="1656.33" y="80.58" width="45.64" height="56.34" fill="#F5CE9E" stroke="#222" stroke-width="1.6"/>
<rect x="1656.33" y="136.92" width="45.64" height="188.98" fill="#F4A176" stroke="#222" stroke-width="1.6"/>
<rect x="1656.33" y="325.9" width="45.64" height="12.1" fill="#D45645" stroke="#222" stroke-width="1.6"/>
<rect x="1706.96" y="64.54" width="45.28" height="205.74" fill="#F4A176" stroke="#222" stroke-width="1.6"/>
<rect x="1706.96" y="270.28" width="45.28" height="67.72" fill="#D45645" stroke="#222" stroke-width="1.6"/>
<rect x="1756.88" y="64.54" width="45.64" height="42.08" fill="#F4A176" stroke="#222" stroke-width="1.6"/>
<rect x="1756.88" y="106.61" width="45.64" height="231.39" fill="#D45645" stroke="#222" stroke-width="1.6"/>
<rect x="1820.7" y="63.83" width="52.77" height="54.91" fill="#F8ECD9" stroke="#222" stroke-width="1.6"/>
<rect x="1820.7" y="118.74" width="52.77" height="165.45" fill="#F5CE9E" stroke="#222" stroke-width="1.6"/>
<rect x="1820.7" y="284.19" width="52.77" height="53.81" fill="#F4A176" stroke="#222" stroke-width="1.6"/>
<rect x="1878.83" y="63.83" width="52.77" height="11.41" fill="#F8ECD9" stroke="#222" stroke-width="1.6"/>
<rect x="1878.83" y="75.24" width="52.77" height="64.54" fill="#F5CE9E" stroke="#222" stroke-width="1.6"/>
<rect x="1878.83" y="139.78" width="52.77" height="169.73" fill="#F4A176" stroke="#222" stroke-width="1.6"/>
<rect x="1878.83" y="309.5" width="52.77" height="28.5" fill="#D45645" stroke="#222" stroke-width="1.6"/>
<rect x="1936.95" y="63.83" width="53.49" height="3.92" fill="#F8ECD9" stroke="#222" stroke-width="1.6"/>
<rect x="1936.95" y="67.75" width="53.49" height="41.72" fill="#F5CE9E" stroke="#222" stroke-width="1.6"/>
<rect x="1936.95" y="109.47" width="53.49" height="187.56" fill="#F4A176" stroke="#222" stroke-width="1.6"/>
<rect x="1936.95" y="297.02" width="53.49" height="40.98" fill="#D45645" stroke="#222" stroke-width="1.6"/>
<line x1="1480.5" y1="50" x2="1480.5" y2="338" stroke="#1c1c1c" stroke-width="1.8"/>
<line x1="1596.8" y1="50" x2="1596.8" y2="338" stroke="#1c1c1c" stroke-width="1.8"/>
<line x1="1812.1" y1="46.4" x2="1812.1" y2="338" stroke="#1c1c1c" stroke-width="1.8"/>
<line x1="1472.7" y1="338" x2="1999" y2="338" stroke="#1c1c1c" stroke-width="1.8"/>
<line x1="1472.7" y1="61" x2="1480.5" y2="61" stroke="#333" stroke-width="1.6"/>
<text x="1467.5" y="69.8" font-size="21.6" fill="#5b6669" text-anchor="end">100%</text>
<line x1="1472.7" y1="130.5" x2="1480.5" y2="130.5" stroke="#333" stroke-width="1.6"/>
<text x="1467.5" y="139.3" font-size="21.6" fill="#5b6669" text-anchor="end">75%</text>
<line x1="1472.7" y1="199.7" x2="1480.5" y2="199.7" stroke="#333" stroke-width="1.6"/>
<text x="1467.5" y="208.5" font-size="21.6" fill="#5b6669" text-anchor="end">50%</text>
<line x1="1472.7" y1="269.2" x2="1480.5" y2="269.2" stroke="#333" stroke-width="1.6"/>
<text x="1467.5" y="278" font-size="21.6" fill="#5b6669" text-anchor="end">25%</text>
<line x1="1472.7" y1="338" x2="1480.5" y2="338" stroke="#333" stroke-width="1.6"/>
<text x="1467.5" y="342.7" font-size="21.6" fill="#5b6669" text-anchor="end">0%</text>
<line x1="1514" y1="338" x2="1514" y2="346" stroke="#333" stroke-width="1.6"/>
<line x1="1563" y1="338" x2="1563" y2="346" stroke="#333" stroke-width="1.6"/>
<line x1="1628.8" y1="338" x2="1628.8" y2="346" stroke="#333" stroke-width="1.6"/>
<line x1="1679" y1="338" x2="1679" y2="346" stroke="#333" stroke-width="1.6"/>
<line x1="1729.3" y1="338" x2="1729.3" y2="346" stroke="#333" stroke-width="1.6"/>
<line x1="1779.5" y1="338" x2="1779.5" y2="346" stroke="#333" stroke-width="1.6"/>
<line x1="1847" y1="338" x2="1847" y2="346" stroke="#333" stroke-width="1.6"/>
<line x1="1905" y1="338" x2="1905" y2="346" stroke="#333" stroke-width="1.6"/>
<line x1="1963.5" y1="338" x2="1963.5" y2="346" stroke="#333" stroke-width="1.6"/>
<text x="1512" y="369" font-size="22" fill="#5b6669" text-anchor="middle">II</text>
<text x="1559" y="369" font-size="22" fill="#5b6669" text-anchor="middle">IV</text>
<text x="1627.4" y="369" font-size="22" fill="#5b6669" text-anchor="middle">0</text>
<text x="1678.8" y="369" font-size="22" fill="#5b6669" text-anchor="middle">1</text>
<text x="1727.6" y="369" font-size="22" fill="#5b6669" text-anchor="middle">2</text>
<text x="1778.6" y="369" font-size="22" fill="#5b6669" text-anchor="middle">3</text>
<text x="1846" y="370.5" font-size="22" fill="#5b6669" text-anchor="middle">0</text>
<text x="1903.8" y="370.5" font-size="22" fill="#5b6669" text-anchor="middle">1</text>
<text x="1961.9" y="370.5" font-size="22" fill="#5b6669" text-anchor="middle">2</text>
<text x="1465.5" y="393" font-size="25.7" fill="#1a1a1a">Tumor grade</text>
<text x="1646.3" y="396" font-size="25" fill="#1a1a1a">Ki67 score</text>
<text x="1847.8" y="399.6" font-size="25.1" fill="#1a1a1a">AXIN2 score</text>
<text x="1403" y="211.5" font-size="25" fill="#1a1a1a" text-anchor="middle" transform="rotate(-90 1403 211.5)">% of patients</text>
<text x="1528.7" y="493.3" font-size="25" fill="#1a1a1a">URI score</text>
<rect x="1651.7" y="412.7" width="34.6" height="35" fill="#F8ECD9" stroke="#1c1c1c" stroke-width="2"/>
<text x="1668.5" y="436.3" font-size="21.5" fill="#1a1a1a" text-anchor="middle">0</text>
<text x="1692.7" y="436.3" font-size="21.5" fill="#1a1a1a">No expression</text>
<rect x="1651.7" y="447.7" width="34.6" height="36.3" fill="#F5CE9E" stroke="#1c1c1c" stroke-width="2"/>
<text x="1668.5" y="471.9" font-size="21.5" fill="#1a1a1a" text-anchor="middle">1</text>
<text x="1692.7" y="471.9" font-size="21.5" fill="#1a1a1a">Expression in &lt;25% cells</text>
<rect x="1651.7" y="484" width="34.6" height="34.3" fill="#F4A176" stroke="#1c1c1c" stroke-width="2"/>
<text x="1668.5" y="508.3" font-size="21.5" fill="#1a1a1a" text-anchor="middle">2</text>
<text x="1692.7" y="508.3" font-size="21.5" fill="#1a1a1a">Expression in 25−75% cells</text>
<rect x="1651.7" y="518.3" width="34.6" height="35.6" fill="#D45645" stroke="#1c1c1c" stroke-width="2"/>
<text x="1668.5" y="544.6" font-size="21.5" fill="#1a1a1a" text-anchor="middle">3</text>
<text x="1692.7" y="544.6" font-size="21.5" fill="#1a1a1a">Expression in &gt;75% cells</text>
<text x="9.5" y="650.5" font-size="41" fill="#1a1a1a" font-weight="bold">e</text>
<g stroke="#231f20" stroke-width="1.2">
<circle cx="115.06" cy="902.04" r="4.7" fill="#FBEFDC"/>
<circle cx="185.12" cy="899.55" r="4.7" fill="#FBEFDC"/>
<circle cx="187.39" cy="899.55" r="4.7" fill="#FBEFDC"/>
<circle cx="194.2" cy="901.36" r="4.7" fill="#FBEFDC"/>
<circle cx="204.4" cy="903.63" r="4.7" fill="#FBEFDC"/>
<circle cx="218.46" cy="899.55" r="4.7" fill="#FBEFDC"/>
<circle cx="79" cy="843.99" r="4.7" fill="#F8CF9F"/>
<circle cx="87.17" cy="843.31" r="4.7" fill="#F8CF9F"/>
<circle cx="86.94" cy="850.11" r="4.7" fill="#F8CF9F"/>
<circle cx="93.97" cy="851.47" r="4.7" fill="#F8CF9F"/>
<circle cx="97.82" cy="847.85" r="4.7" fill="#F8CF9F"/>
<circle cx="108.03" cy="848.98" r="4.7" fill="#F8CF9F"/>
<circle cx="110.98" cy="843.99" r="4.7" fill="#F8CF9F"/>
<circle cx="111.43" cy="847.85" r="4.7" fill="#F8CF9F"/>
<circle cx="177.19" cy="844.44" r="4.7" fill="#F8CF9F"/>
<circle cx="180.59" cy="842.86" r="4.7" fill="#F8CF9F"/>
<circle cx="182.86" cy="847.39" r="4.7" fill="#F8CF9F"/>
<circle cx="186.26" cy="842.4" r="4.7" fill="#F8CF9F"/>
<circle cx="187.85" cy="851.25" r="4.7" fill="#F8CF9F"/>
<circle cx="190.79" cy="846.26" r="4.7" fill="#F8CF9F"/>
<circle cx="194.2" cy="848.53" r="4.7" fill="#F8CF9F"/>
<circle cx="199.41" cy="846.26" r="4.7" fill="#F8CF9F"/>
<circle cx="205.53" cy="851.47" r="4.7" fill="#F8CF9F"/>
<circle cx="206.67" cy="846.94" r="4.7" fill="#F8CF9F"/>
<circle cx="218" cy="842.18" r="4.7" fill="#F8CF9F"/>
<circle cx="218" cy="845.12" r="4.7" fill="#F8CF9F"/>
<circle cx="218" cy="851.47" r="4.7" fill="#F8CF9F"/>
<circle cx="184.67" cy="845.12" r="4.7" fill="#F8CF9F"/>
<circle cx="178.78" cy="793.65" r="4.7" fill="#F4A176"/>
<circle cx="182.86" cy="794.1" r="4.7" fill="#F4A176"/>
<circle cx="187.39" cy="795.24" r="4.7" fill="#F4A176"/>
<circle cx="190.79" cy="790.7" r="4.7" fill="#F4A176"/>
<circle cx="194.2" cy="797.51" r="4.7" fill="#F4A176"/>
<circle cx="195.33" cy="787.3" r="4.7" fill="#F4A176"/>
<circle cx="198.73" cy="796.37" r="4.7" fill="#F4A176"/>
<circle cx="200.54" cy="791.84" r="4.7" fill="#F4A176"/>
<circle cx="203.27" cy="794.1" r="4.7" fill="#F4A176"/>
<circle cx="206.67" cy="796.37" r="4.7" fill="#F4A176"/>
<circle cx="208.93" cy="788.44" r="4.7" fill="#F4A176"/>
<circle cx="212.34" cy="795.24" r="4.7" fill="#F4A176"/>
<circle cx="214.6" cy="787.3" r="4.7" fill="#F4A176"/>
<circle cx="216.87" cy="792.97" r="4.7" fill="#F4A176"/>
<circle cx="219.14" cy="792.97" r="4.7" fill="#F4A176"/>
<circle cx="185.12" cy="792.52" r="4.7" fill="#F4A176"/>
<circle cx="188.53" cy="789.57" r="4.7" fill="#F4A176"/>
<circle cx="204.4" cy="789.57" r="4.7" fill="#F4A176"/>
<circle cx="197.6" cy="792.97" r="4.7" fill="#F4A176"/>
<circle cx="214.6" cy="796.37" r="4.7" fill="#F4A176"/>
<circle cx="278.1" cy="789.57" r="4.7" fill="#F4A176"/>
<circle cx="281.5" cy="789.57" r="4.7" fill="#F4A176"/>
<circle cx="286.03" cy="795.24" r="4.7" fill="#F4A176"/>
<circle cx="287.62" cy="791.38" r="4.7" fill="#F4A176"/>
<circle cx="290.57" cy="795.24" r="4.7" fill="#F4A176"/>
<circle cx="293.97" cy="787.3" r="4.7" fill="#F4A176"/>
<circle cx="297.37" cy="788.44" r="4.7" fill="#F4A176"/>
<circle cx="299.64" cy="795.69" r="4.7" fill="#F4A176"/>
<circle cx="303.04" cy="790.7" r="4.7" fill="#F4A176"/>
<circle cx="306.44" cy="787.3" r="4.7" fill="#F4A176"/>
<circle cx="305.76" cy="798.19" r="4.7" fill="#F4A176"/>
<circle cx="308.71" cy="792.97" r="4.7" fill="#F4A176"/>
<circle cx="312.79" cy="787.98" r="4.7" fill="#F4A176"/>
<circle cx="316.64" cy="795.24" r="4.7" fill="#F4A176"/>
<circle cx="291.7" cy="790.7" r="4.7" fill="#F4A176"/>
<circle cx="300.77" cy="791.84" r="4.7" fill="#F4A176"/>
<circle cx="383.99" cy="788.44" r="4.7" fill="#F4A176"/>
<circle cx="382.4" cy="794.1" r="4.7" fill="#F4A176"/>
<circle cx="385.8" cy="796.83" r="4.7" fill="#F4A176"/>
<circle cx="417.55" cy="796.83" r="4.7" fill="#F4A176"/>
<circle cx="98.73" cy="740.82" r="4.7" fill="#D4553F"/>
<circle cx="187.85" cy="742.4" r="4.7" fill="#D4553F"/>
<circle cx="197.6" cy="741.95" r="4.7" fill="#D4553F"/>
<circle cx="210.07" cy="733.56" r="4.7" fill="#D4553F"/>
<circle cx="210.75" cy="737.64" r="4.7" fill="#D4553F"/>
<circle cx="278.1" cy="736.96" r="4.7" fill="#D4553F"/>
<circle cx="282.18" cy="742.4" r="4.7" fill="#D4553F"/>
<circle cx="287.17" cy="734.47" r="4.7" fill="#D4553F"/>
<circle cx="288.98" cy="740.14" r="4.7" fill="#D4553F"/>
<circle cx="298.5" cy="736.73" r="4.7" fill="#D4553F"/>
<circle cx="301.9" cy="741.95" r="4.7" fill="#D4553F"/>
<circle cx="298.96" cy="741.5" r="4.7" fill="#D4553F"/>
<circle cx="309.16" cy="736.51" r="4.7" fill="#D4553F"/>
<circle cx="316.64" cy="741.95" r="4.7" fill="#D4553F"/>
<circle cx="318.46" cy="735.83" r="4.7" fill="#D4553F"/>
<circle cx="380.82" cy="736.28" r="4.7" fill="#D4553F"/>
<circle cx="389.21" cy="735.15" r="4.7" fill="#D4553F"/>
<circle cx="391.02" cy="742.4" r="4.7" fill="#D4553F"/>
<circle cx="397.14" cy="736.28" r="4.7" fill="#D4553F"/>
<circle cx="398.96" cy="741.5" r="4.7" fill="#D4553F"/>
<circle cx="402.13" cy="732.88" r="4.7" fill="#D4553F"/>
<circle cx="407.35" cy="740.82" r="4.7" fill="#D4553F"/>
<circle cx="410.75" cy="735.6" r="4.7" fill="#D4553F"/>
<circle cx="413.02" cy="734.01" r="4.7" fill="#D4553F"/>
<circle cx="415.28" cy="741.95" r="4.7" fill="#D4553F"/>
<circle cx="418.23" cy="739.91" r="4.7" fill="#D4553F"/>
<circle cx="405.08" cy="737.41" r="4.7" fill="#D4553F"/>
<circle cx="393.74" cy="739.68" r="4.7" fill="#D4553F"/>
</g>
<line x1="98.5" y1="838.8" x2="398.3" y2="747.2" stroke="#1a1a1a" stroke-width="3.4"/>
<line x1="62.7" y1="672" x2="62.7" y2="940.3" stroke="#111" stroke-width="2"/>
<line x1="61.8" y1="939.5" x2="434.3" y2="939.5" stroke="#1c1c1c" stroke-width="1.8"/>
<line x1="56" y1="737.6" x2="62.7" y2="737.6" stroke="#1a1a1a" stroke-width="2"/>
<text x="51.5" y="744.8" font-size="22" fill="#5b6669" text-anchor="end">3</text>
<line x1="56" y1="792.3" x2="62.7" y2="792.3" stroke="#1a1a1a" stroke-width="2"/>
<text x="51.5" y="799.5" font-size="22" fill="#5b6669" text-anchor="end">2</text>
<line x1="56" y1="846.7" x2="62.7" y2="846.7" stroke="#1a1a1a" stroke-width="2"/>
<text x="51.5" y="853.9" font-size="22" fill="#5b6669" text-anchor="end">1</text>
<line x1="56" y1="900.9" x2="62.7" y2="900.9" stroke="#1a1a1a" stroke-width="2"/>
<text x="51.5" y="908.1" font-size="22" fill="#5b6669" text-anchor="end">0</text>
<line x1="98.1" y1="939.5" x2="98.1" y2="946.5" stroke="#333" stroke-width="1.6"/>
<text x="97.6" y="968.5" font-size="22" fill="#5b6669" text-anchor="middle">0</text>
<line x1="198.1" y1="939.5" x2="198.1" y2="946.5" stroke="#333" stroke-width="1.6"/>
<text x="197.6" y="968.5" font-size="22" fill="#5b6669" text-anchor="middle">1</text>
<line x1="298.1" y1="939.5" x2="298.1" y2="946.5" stroke="#333" stroke-width="1.6"/>
<text x="297.6" y="968.5" font-size="22" fill="#5b6669" text-anchor="middle">2</text>
<line x1="398.1" y1="939.5" x2="398.1" y2="946.5" stroke="#333" stroke-width="1.6"/>
<text x="397.6" y="968.5" font-size="22" fill="#5b6669" text-anchor="middle">3</text>
<text x="248.6" y="666" font-size="21.6" fill="#1a1a1a" text-anchor="middle">p=9.66e-22</text>
<text x="251.8" y="702.1" font-size="40" fill="#1a1a1a" text-anchor="middle" letter-spacing="1.6" stroke="#1a1a1a" stroke-width="0.5">***</text>
<text x="29" y="824" font-size="25" fill="#1a1a1a" text-anchor="middle" transform="rotate(-90 29 824)">URI score</text>
<text x="237" y="1003" font-size="25" fill="#1a1a1a" text-anchor="middle">Ki67 score</text>
<g stroke="#231f20" stroke-width="1.2">
<circle cx="492.15" cy="908.16" r="4.7" fill="#FBEFDC"/>
<circle cx="652.02" cy="900.23" r="4.7" fill="#FBEFDC"/>
<circle cx="657.23" cy="902.95" r="4.7" fill="#FBEFDC"/>
<circle cx="772.2" cy="901.59" r="4.7" fill="#FBEFDC"/>
<circle cx="504.85" cy="854.88" r="4.7" fill="#F8CF9F"/>
<circle cx="525.49" cy="849.21" r="4.7" fill="#F8CF9F"/>
<circle cx="536.83" cy="855.78" r="4.7" fill="#F8CF9F"/>
<circle cx="627.76" cy="851.93" r="4.7" fill="#F8CF9F"/>
<circle cx="628.66" cy="849.21" r="4.7" fill="#F8CF9F"/>
<circle cx="649.75" cy="845.12" r="4.7" fill="#F8CF9F"/>
<circle cx="652.7" cy="849.66" r="4.7" fill="#F8CF9F"/>
<circle cx="659.5" cy="845.8" r="4.7" fill="#F8CF9F"/>
<circle cx="665.17" cy="846.26" r="4.7" fill="#F8CF9F"/>
<circle cx="667.21" cy="848.98" r="4.7" fill="#F8CF9F"/>
<circle cx="674.24" cy="845.8" r="4.7" fill="#F8CF9F"/>
<circle cx="675.83" cy="854.2" r="4.7" fill="#F8CF9F"/>
<circle cx="757.91" cy="854.2" r="4.7" fill="#F8CF9F"/>
<circle cx="759.05" cy="846.94" r="4.7" fill="#F8CF9F"/>
<circle cx="766.53" cy="850.34" r="4.7" fill="#F8CF9F"/>
<circle cx="779.68" cy="848.98" r="4.7" fill="#F8CF9F"/>
<circle cx="787.62" cy="854.88" r="4.7" fill="#F8CF9F"/>
<circle cx="807.35" cy="847.85" r="4.7" fill="#F8CF9F"/>
<circle cx="808.48" cy="851.47" r="4.7" fill="#F8CF9F"/>
<circle cx="508.48" cy="796.15" r="4.7" fill="#F4A176"/>
<circle cx="622.09" cy="797.05" r="4.7" fill="#F4A176"/>
<circle cx="624.81" cy="799.77" r="4.7" fill="#F4A176"/>
<circle cx="629.34" cy="793.42" r="4.7" fill="#F4A176"/>
<circle cx="632.74" cy="798.64" r="4.7" fill="#F4A176"/>
<circle cx="635.46" cy="793.42" r="4.7" fill="#F4A176"/>
<circle cx="639.55" cy="800.91" r="4.7" fill="#F4A176"/>
<circle cx="643.63" cy="797.05" r="4.7" fill="#F4A176"/>
<circle cx="645.22" cy="802.04" r="4.7" fill="#F4A176"/>
<circle cx="651.34" cy="793.42" r="4.7" fill="#F4A176"/>
<circle cx="653.15" cy="800.91" r="4.7" fill="#F4A176"/>
<circle cx="656.55" cy="798.64" r="4.7" fill="#F4A176"/>
<circle cx="658.82" cy="803.17" r="4.7" fill="#F4A176"/>
<circle cx="665.62" cy="797.51" r="4.7" fill="#F4A176"/>
<circle cx="669.02" cy="803.17" r="4.7" fill="#F4A176"/>
<circle cx="671.29" cy="795.24" r="4.7" fill="#F4A176"/>
<circle cx="675.83" cy="796.37" r="4.7" fill="#F4A176"/>
<circle cx="675.83" cy="800.91" r="4.7" fill="#F4A176"/>
<circle cx="672.43" cy="793.42" r="4.7" fill="#F4A176"/>
<circle cx="633.88" cy="798.64" r="4.7" fill="#F4A176"/>
<circle cx="793.65" cy="800.54" r="4.7" fill="#F4A176"/>
<circle cx="801.46" cy="802.59" r="4.7" fill="#F4A176"/>
<circle cx="798.95" cy="802.38" r="4.7" fill="#F4A176"/>
<circle cx="766.71" cy="797.72" r="4.7" fill="#F4A176"/>
<circle cx="808.18" cy="799.59" r="4.7" fill="#F4A176"/>
<circle cx="806.25" cy="794.13" r="4.7" fill="#F4A176"/>
<circle cx="786.67" cy="795.49" r="4.7" fill="#F4A176"/>
<circle cx="790.06" cy="798.83" r="4.7" fill="#F4A176"/>
<circle cx="765.99" cy="795.18" r="4.7" fill="#F4A176"/>
<circle cx="778.07" cy="802.32" r="4.7" fill="#F4A176"/>
<circle cx="800.12" cy="794.6" r="4.7" fill="#F4A176"/>
<circle cx="801.55" cy="794.39" r="4.7" fill="#F4A176"/>
<circle cx="793.4" cy="794.26" r="4.7" fill="#F4A176"/>
<circle cx="765.48" cy="801.86" r="4.7" fill="#F4A176"/>
<circle cx="774.9" cy="795.17" r="4.7" fill="#F4A176"/>
<circle cx="809.95" cy="801.87" r="4.7" fill="#F4A176"/>
<circle cx="778.52" cy="802.78" r="4.7" fill="#F4A176"/>
<circle cx="789.85" cy="799.89" r="4.7" fill="#F4A176"/>
<circle cx="774.68" cy="802.57" r="4.7" fill="#F4A176"/>
<circle cx="796.72" cy="802.83" r="4.7" fill="#F4A176"/>
<circle cx="805.93" cy="796.02" r="4.7" fill="#F4A176"/>
<circle cx="781.78" cy="794.66" r="4.7" fill="#F4A176"/>
<circle cx="772" cy="793.64" r="4.7" fill="#F4A176"/>
<circle cx="779.06" cy="799.12" r="4.7" fill="#F4A176"/>
<circle cx="765.55" cy="799.89" r="4.7" fill="#F4A176"/>
<circle cx="780.72" cy="796.13" r="4.7" fill="#F4A176"/>
<circle cx="802.52" cy="797.88" r="4.7" fill="#F4A176"/>
<circle cx="779.72" cy="797.88" r="4.7" fill="#F4A176"/>
<circle cx="797.35" cy="793.55" r="4.7" fill="#F4A176"/>
<circle cx="809.62" cy="793.2" r="4.7" fill="#F4A176"/>
<circle cx="799.4" cy="801.59" r="4.7" fill="#F4A176"/>
<circle cx="766.22" cy="801.01" r="4.7" fill="#F4A176"/>
<circle cx="782" cy="798.87" r="4.7" fill="#F4A176"/>
<circle cx="765.81" cy="793.45" r="4.7" fill="#F4A176"/>
<circle cx="773.6" cy="802.72" r="4.7" fill="#F4A176"/>
<circle cx="774.31" cy="800.68" r="4.7" fill="#F4A176"/>
<circle cx="807.56" cy="802.58" r="4.7" fill="#F4A176"/>
<circle cx="781.02" cy="796.59" r="4.7" fill="#F4A176"/>
<circle cx="789.19" cy="800.88" r="4.7" fill="#F4A176"/>
<circle cx="770.3" cy="800.61" r="4.7" fill="#F4A176"/>
<circle cx="801.55" cy="801.74" r="4.7" fill="#F4A176"/>
<circle cx="767.06" cy="802.62" r="4.7" fill="#F4A176"/>
<circle cx="647.48" cy="742.18" r="4.7" fill="#D4553F"/>
<circle cx="648.62" cy="749.43" r="4.7" fill="#D4553F"/>
<circle cx="658.14" cy="746.03" r="4.7" fill="#D4553F"/>
<circle cx="662.9" cy="748.75" r="4.7" fill="#D4553F"/>
<circle cx="667.44" cy="746.03" r="4.7" fill="#D4553F"/>
<circle cx="766.98" cy="741.04" r="4.7" fill="#D4553F"/>
<circle cx="776.73" cy="744.22" r="4.7" fill="#D4553F"/>
<circle cx="784.67" cy="741.95" r="4.7" fill="#D4553F"/>
<circle cx="785.8" cy="745.35" r="4.7" fill="#D4553F"/>
<circle cx="790.79" cy="748.3" r="4.7" fill="#D4553F"/>
<circle cx="798.96" cy="747.62" r="4.7" fill="#D4553F"/>
<circle cx="801.22" cy="745.35" r="4.7" fill="#D4553F"/>
<circle cx="806.21" cy="749.89" r="4.7" fill="#D4553F"/>
</g>
<line x1="514.8" y1="829.5" x2="780.1" y2="798.6" stroke="#1a1a1a" stroke-width="3.4"/>
<line x1="477" y1="681.4" x2="477" y2="941.3" stroke="#1c1c1c" stroke-width="1.8"/>
<line x1="476.1" y1="940.5" x2="824.8" y2="940.5" stroke="#1c1c1c" stroke-width="1.8"/>
<line x1="470.3" y1="744.9" x2="477" y2="744.9" stroke="#333" stroke-width="1.6"/>
<text x="466" y="755.6" font-size="22" fill="#5b6669" text-anchor="end">3</text>
<line x1="470.3" y1="797.7" x2="477" y2="797.7" stroke="#333" stroke-width="1.6"/>
<text x="466" y="808.4" font-size="22" fill="#5b6669" text-anchor="end">2</text>
<line x1="470.3" y1="850.3" x2="477" y2="850.3" stroke="#333" stroke-width="1.6"/>
<text x="466" y="861" font-size="22" fill="#5b6669" text-anchor="end">1</text>
<line x1="470.3" y1="902.9" x2="477" y2="902.9" stroke="#333" stroke-width="1.6"/>
<text x="466" y="913.6" font-size="22" fill="#5b6669" text-anchor="end">0</text>
<line x1="514.3" y1="940.5" x2="514.3" y2="947.5" stroke="#333" stroke-width="1.6"/>
<text x="512.8" y="971" font-size="22" fill="#5b6669" text-anchor="middle">0</text>
<line x1="648.6" y1="940.5" x2="648.6" y2="947.5" stroke="#333" stroke-width="1.6"/>
<text x="647.1" y="971" font-size="22" fill="#5b6669" text-anchor="middle">1</text>
<line x1="783.3" y1="940.5" x2="783.3" y2="947.5" stroke="#333" stroke-width="1.6"/>
<text x="781.8" y="971" font-size="22" fill="#5b6669" text-anchor="middle">2</text>
<text x="650.5" y="666" font-size="21.6" fill="#1a1a1a" text-anchor="middle">p=0.0005</text>
<text x="655.6" y="702.1" font-size="40" fill="#1a1a1a" text-anchor="middle" letter-spacing="1.6" stroke="#1a1a1a" stroke-width="0.5">**</text>
<text x="661" y="999.5" font-size="25" fill="#1a1a1a" text-anchor="middle">AXIN2 score</text>
<text x="873" y="648.3" font-size="41" fill="#1a1a1a" font-weight="bold">f</text>
<defs><pattern id="pGrey" width="3.3" height="4" patternUnits="userSpaceOnUse"><rect width="3.3" height="4" fill="#D4D5D7"/><rect width="0.9" height="4" fill="#C7C8CA"/></pattern><pattern id="pPur" width="3.3" height="4" patternUnits="userSpaceOnUse"><rect width="3.3" height="4" fill="#A03CA0"/><rect width="1.1" height="4" fill="#8C1F8C"/></pattern><pattern id="pGrn" width="3.3" height="4" patternUnits="userSpaceOnUse"><rect width="3.3" height="4" fill="#22AC5C"/><rect width="1.1" height="4" fill="#0E9F4C"/></pattern><pattern id="pYel" width="3.3" height="4" patternUnits="userSpaceOnUse"><rect width="3.3" height="4" fill="#F8DA2E"/><rect width="1.1" height="4" fill="#F1CE1E"/></pattern></defs>
<text x="1006.2" y="690.1" font-size="21.6" fill="#1a1a1a" text-anchor="end">URI high</text>
<text x="1016.9" y="690.1" font-size="21.6" fill="#5b6669">48%</text>
<text x="1006.2" y="729.7" font-size="21.6" fill="#1a1a1a" text-anchor="end">APC mutated</text>
<text x="1016.9" y="729.7" font-size="21.6" fill="#5b6669">74%</text>
<text x="1006.2" y="758.5" font-size="21.6" fill="#1a1a1a" text-anchor="end">APC loss</text>
<text x="1016.9" y="758.5" font-size="21.6" fill="#5b6669">27%</text>
<text x="1006.2" y="801.6" font-size="21.6" fill="#1a1a1a" text-anchor="end">TP53 mutated</text>
<text x="1016.9" y="801.6" font-size="21.6" fill="#5b6669">64%</text>
<text x="1006.2" y="830.7" font-size="21.6" fill="#1a1a1a" text-anchor="end">TP53 loss</text>
<text x="1016.9" y="830.7" font-size="21.6" fill="#5b6669">57%</text>
<text x="1006.2" y="871.5" font-size="21.6" fill="#1a1a1a" text-anchor="end">KRAS mutated</text>
<text x="1016.9" y="871.5" font-size="21.6" fill="#5b6669">43%</text>
<text x="1006.2" y="899.1" font-size="21.6" fill="#1a1a1a" text-anchor="end">KRAS gain</text>
<text x="1016.9" y="899.1" font-size="21.6" fill="#5b6669">21%</text>
<rect x="1309.5" y="669.9" width="257.4" height="23.1" fill="url(#pGrey)"/>
<rect x="1064.9" y="667.2" width="246.9" height="28.5" fill="#F7941D"/>
<rect x="1067.6" y="710" width="499.3" height="22.7" fill="url(#pGrey)"/>
<rect x="1067.6" y="717.49" width="204.1" height="7.95" fill="url(#pPur)"/>
<rect x="1309.5" y="717.49" width="165.6" height="7.95" fill="url(#pPur)"/>
<rect x="1067.6" y="738.4" width="499.3" height="23.3" fill="url(#pGrey)"/>
<rect x="1067.6" y="738.4" width="71.3" height="23.3" fill="url(#pPur)"/>
<rect x="1272.1" y="738.4" width="10.9" height="23.3" fill="url(#pPur)"/>
<rect x="1309.5" y="738.4" width="35.9" height="23.3" fill="url(#pPur)"/>
<rect x="1475.1" y="738.4" width="13.1" height="23.3" fill="url(#pPur)"/>
<rect x="1067.6" y="781.5" width="499.3" height="22.6" fill="url(#pGrey)"/>
<rect x="1067.6" y="788.96" width="196.3" height="7.91" fill="url(#pGrn)"/>
<rect x="1309.1" y="788.96" width="123.3" height="7.91" fill="url(#pGrn)"/>
<rect x="1067.6" y="810.5" width="499.3" height="23.1" fill="url(#pGrey)"/>
<rect x="1067.6" y="810.5" width="145.4" height="23.1" fill="url(#pGrn)"/>
<rect x="1263.9" y="810.5" width="20.2" height="23.1" fill="url(#pGrn)"/>
<rect x="1309.1" y="810.5" width="91.4" height="23.1" fill="url(#pGrn)"/>
<rect x="1432.9" y="810.5" width="29.2" height="23.1" fill="url(#pGrn)"/>
<rect x="1067.6" y="851.3" width="499.3" height="22.7" fill="url(#pGrey)"/>
<rect x="1067.6" y="858.79" width="103.5" height="7.95" fill="url(#pYel)"/>
<rect x="1309.5" y="858.79" width="113.6" height="7.95" fill="url(#pYel)"/>
<rect x="1067.6" y="879.9" width="499.3" height="22.9" fill="url(#pGrey)"/>
<rect x="1067.6" y="879.9" width="21.8" height="22.9" fill="url(#pYel)"/>
<rect x="1171.1" y="879.9" width="19.9" height="22.9" fill="url(#pYel)"/>
<rect x="1309.5" y="879.9" width="40.4" height="22.9" fill="url(#pYel)"/>
<rect x="1423.1" y="879.9" width="23.2" height="22.9" fill="url(#pYel)"/>
<text x="1573.7" y="658.6" font-size="24.5" fill="#1a1a1a">OR</text>
<text x="1625.2" y="658.6" font-size="24.5" fill="#1a1a1a">p.val</text>
<text x="1576.2" y="728.8" font-size="21.6" fill="#5b6669">2.8</text>
<text x="1622.2" y="728.8" font-size="21.6" fill="#5b6669">1.8·10<tspan font-size="12.5" dy="-9">-5</tspan></text>
<text x="1729.8" y="742.4" font-size="40" fill="#1a1a1a" text-anchor="middle" letter-spacing="1.6" stroke="#1a1a1a" stroke-width="0.5">***</text>
<text x="1576.2" y="757.4" font-size="21.6" fill="#5b6669">1.8</text>
<text x="1622.2" y="757.4" font-size="21.6" fill="#5b6669">8.4·10<tspan font-size="12.5" dy="-9">-3</tspan></text>
<text x="1729.8" y="771.5" font-size="40" fill="#1a1a1a" text-anchor="middle" letter-spacing="1.6" stroke="#1a1a1a" stroke-width="0.5">**</text>
<text x="1576.2" y="799.7" font-size="21.6" fill="#5b6669">4.6</text>
<text x="1622.2" y="799.7" font-size="21.6" fill="#5b6669">6.9·10<tspan font-size="12.5" dy="-9">-11</tspan></text>
<text x="1729.8" y="813.8" font-size="40" fill="#1a1a1a" text-anchor="middle" letter-spacing="1.6" stroke="#1a1a1a" stroke-width="0.5">***</text>
<text x="1576.2" y="828.6" font-size="21.6" fill="#5b6669">2.6</text>
<text x="1622.2" y="828.6" font-size="21.6" fill="#5b6669">1.8·10<tspan font-size="12.5" dy="-9">-5</tspan></text>
<text x="1729.8" y="841.7" font-size="40" fill="#1a1a1a" text-anchor="middle" letter-spacing="1.6" stroke="#1a1a1a" stroke-width="0.5">***</text>
<text x="1576.2" y="869.6" font-size="21.6" fill="#5b6669">0.9</text>
<text x="1622.2" y="869.6" font-size="21.6" fill="#5b6669">0.64</text>
<text x="1576.2" y="897.5" font-size="21.6" fill="#5b6669">0.6</text>
<text x="1622.2" y="897.5" font-size="21.6" fill="#5b6669">0.035</text>
<text x="1729.8" y="909.6" font-size="40" fill="#1a1a1a" text-anchor="middle" letter-spacing="1.6" stroke="#1a1a1a" stroke-width="0.5">*</text>
<text x="1780.8" y="679.7" font-size="25" fill="#1a1a1a">Genetic Alteration</text>
<rect x="1771" y="687.7" width="8.2" height="27.4" fill="#C9CACC"/>
<rect x="1771" y="696.7" width="8.2" height="9.4" fill="#F8DA2E"/>
<rect x="1781.5" y="687.7" width="8.2" height="27.4" fill="#C9CACC"/>
<rect x="1781.5" y="696.7" width="8.2" height="9.4" fill="#22AC5C"/>
<rect x="1792.2" y="687.7" width="8.2" height="27.4" fill="#C9CACC"/>
<rect x="1792.2" y="696.7" width="8.2" height="9.4" fill="#92278F"/>
<text x="1804.6" y="707.6" font-size="21.6" fill="#1a1a1a">Mutation</text>
<rect x="1781.5" y="733.7" width="8.2" height="27.4" fill="#12A650"/>
<rect x="1791.5" y="733.7" width="8.4" height="27.4" fill="#5E2D91"/>
<text x="1804.6" y="753.9" font-size="21.6" fill="#1a1a1a">Loss</text>
<rect x="1791.5" y="779.8" width="8.4" height="26.9" fill="#F7941D"/>
<text x="1804.6" y="799.7" font-size="21.6" fill="#1a1a1a">mRNA High</text>
<rect x="1791.5" y="825.8" width="8.4" height="27.2" fill="#FCD916"/>
<text x="1804.6" y="845.7" font-size="21.6" fill="#1a1a1a">Gain</text>
<rect x="1791.5" y="871.9" width="8.4" height="27.3" fill="#C9CACC"/>
<text x="1804.6" y="891.3" font-size="21.6" fill="#1a1a1a">No alterations</text>
<text x="9.5" y="1059" font-size="41" fill="#1a1a1a" font-weight="bold">g</text>
<path d="M141.44 1162.62 C141.07 1168.2 140.26 1185.03 139.23 1196.12 C138.2 1207.22 136.73 1218.16 135.27 1229.18 C133.8 1240.2 131.96 1251.59 130.42 1262.25 C128.87 1272.9 127.11 1283.92 126.01 1293.1 C124.91 1302.29 124.02 1309.27 123.8 1317.35 C123.58 1325.43 124.17 1333.14 124.69 1341.59 C125.2 1350.04 126.05 1359.23 126.89 1368.04 C127.73 1376.86 128.73 1385.31 129.76 1394.49 C130.78 1403.68 131.85 1413.96 133.06 1423.15 C134.27 1432.33 135.74 1441.15 137.03 1449.59 C138.31 1458.04 139.75 1466.49 140.78 1473.84 C141.8 1481.19 142.65 1487.8 143.2 1493.68 C143.75 1499.55 143.94 1504.15 144.08 1509.11 C144.23 1514.06 144.08 1521.04 144.08 1523.43 L147.61 1523.43 C147.61 1521.04 147.46 1514.06 147.61 1509.11 C147.76 1504.15 147.94 1499.55 148.49 1493.68 C149.04 1487.8 149.89 1481.19 150.91 1473.84 C151.94 1466.49 153.38 1458.04 154.66 1449.59 C155.95 1441.15 157.42 1432.33 158.63 1423.15 C159.84 1413.96 160.91 1403.68 161.94 1394.49 C162.96 1385.31 163.96 1376.86 164.8 1368.04 C165.65 1359.23 166.49 1350.04 167 1341.59 C167.52 1333.14 168.11 1325.43 167.89 1317.35 C167.67 1309.27 166.78 1302.29 165.68 1293.1 C164.58 1283.92 162.82 1272.9 161.27 1262.25 C159.73 1251.59 157.89 1240.2 156.42 1229.18 C154.96 1218.16 153.49 1207.22 152.46 1196.12 C151.43 1185.03 150.62 1168.2 150.25 1162.62 Z" fill="#4FC1EE" stroke="#454e50" stroke-width="2.9" stroke-linejoin="round"/>
<line x1="145.85" y1="1162.62" x2="145.85" y2="1523.43" stroke="#454e50" stroke-width="3.4"/>
<rect x="140.17" y="1278.12" width="12.23" height="116.38" fill="#ffffff" stroke="#454e50" stroke-width="3.4"/>
<line x1="140.17" y1="1330.13" x2="152.4" y2="1330.13" stroke="#454e50" stroke-width="6.5"/>
<g fill="#4d4e50" fill-opacity="0.34">
<circle cx="134.27" cy="1391.74" r="4.4"/>
<circle cx="145.72" cy="1344.86" r="4.4"/>
<circle cx="150.36" cy="1373.83" r="4.4"/>
<circle cx="149.67" cy="1449.01" r="4.4"/>
<circle cx="137.3" cy="1246.58" r="4.4"/>
<circle cx="135.95" cy="1342.14" r="4.4"/>
<circle cx="156.62" cy="1326.11" r="4.4"/>
<circle cx="146.81" cy="1286.35" r="4.4"/>
<circle cx="143.56" cy="1230.06" r="4.4"/>
<circle cx="150.62" cy="1444.15" r="4.4"/>
<circle cx="151.54" cy="1372.17" r="4.4"/>
<circle cx="146.46" cy="1461.02" r="4.4"/>
<circle cx="135.3" cy="1310.41" r="4.4"/>
<circle cx="154.03" cy="1325.46" r="4.4"/>
<circle cx="138.69" cy="1172.3" r="4.4"/>
<circle cx="134.36" cy="1341.59" r="4.4"/>
<circle cx="142.15" cy="1361.22" r="4.4"/>
<circle cx="146.66" cy="1363.41" r="4.4"/>
<circle cx="149.05" cy="1227.81" r="4.4"/>
<circle cx="137.7" cy="1287.68" r="4.4"/>
<circle cx="151.09" cy="1273.25" r="4.4"/>
<circle cx="145.69" cy="1442.98" r="4.4"/>
<circle cx="137.4" cy="1298.13" r="4.4"/>
<circle cx="154.62" cy="1478.74" r="4.4"/>
<circle cx="153.51" cy="1464.62" r="4.4"/>
<circle cx="156" cy="1255.7" r="4.4"/>
<circle cx="150.33" cy="1314" r="4.4"/>
<circle cx="138.78" cy="1431.73" r="4.4"/>
<circle cx="152.79" cy="1352.27" r="4.4"/>
<circle cx="155.91" cy="1172.83" r="4.4"/>
<circle cx="146.68" cy="1316.36" r="4.4"/>
<circle cx="156.06" cy="1355.41" r="4.4"/>
<circle cx="157.6" cy="1439.82" r="4.4"/>
<circle cx="143.1" cy="1373.46" r="4.4"/>
<circle cx="156.89" cy="1308.97" r="4.4"/>
<circle cx="156.76" cy="1489.37" r="4.4"/>
<circle cx="153.19" cy="1196.84" r="4.4"/>
<circle cx="133.63" cy="1399.07" r="4.4"/>
<circle cx="142.14" cy="1356.97" r="4.4"/>
<circle cx="148.69" cy="1340.81" r="4.4"/>
<circle cx="148.52" cy="1222.54" r="4.4"/>
<circle cx="152.24" cy="1298.94" r="4.4"/>
<circle cx="149.52" cy="1361.08" r="4.4"/>
<circle cx="137.38" cy="1275.78" r="4.4"/>
<circle cx="156.62" cy="1302.93" r="4.4"/>
<circle cx="146.75" cy="1344.15" r="4.4"/>
<circle cx="155.39" cy="1379.53" r="4.4"/>
<circle cx="138.52" cy="1274.53" r="4.4"/>
<circle cx="158.3" cy="1352.33" r="4.4"/>
<circle cx="147.22" cy="1201.45" r="4.4"/>
<circle cx="152.73" cy="1436.81" r="4.4"/>
<circle cx="151.84" cy="1386.83" r="4.4"/>
<circle cx="155.41" cy="1395.22" r="4.4"/>
<circle cx="142.4" cy="1349.31" r="4.4"/>
<circle cx="135.42" cy="1307.49" r="4.4"/>
<circle cx="143.48" cy="1327.15" r="4.4"/>
<circle cx="137.8" cy="1301.68" r="4.4"/>
<circle cx="146.84" cy="1340.1" r="4.4"/>
<circle cx="153.72" cy="1301.88" r="4.4"/>
<circle cx="142.4" cy="1519.54" r="4.4"/>
<circle cx="136.62" cy="1275.42" r="4.4"/>
<circle cx="134.02" cy="1303.78" r="4.4"/>
<circle cx="143.92" cy="1362.24" r="4.4"/>
<circle cx="147.86" cy="1430.47" r="4.4"/>
<circle cx="134" cy="1416.61" r="4.4"/>
<circle cx="149.98" cy="1283.6" r="4.4"/>
<circle cx="138.62" cy="1408.56" r="4.4"/>
<circle cx="136.02" cy="1262.71" r="4.4"/>
<circle cx="156.54" cy="1320.25" r="4.4"/>
<circle cx="146.42" cy="1263.87" r="4.4"/>
<circle cx="155.72" cy="1301.4" r="4.4"/>
<circle cx="146.19" cy="1415.34" r="4.4"/>
<circle cx="136.42" cy="1326.47" r="4.4"/>
<circle cx="139.35" cy="1296.14" r="4.4"/>
<circle cx="143.95" cy="1353.64" r="4.4"/>
<circle cx="149.37" cy="1230.3" r="4.4"/>
<circle cx="152.62" cy="1361.75" r="4.4"/>
<circle cx="152.13" cy="1230.56" r="4.4"/>
<circle cx="149.61" cy="1386.43" r="4.4"/>
<circle cx="139.67" cy="1451.31" r="4.4"/>
<circle cx="144.1" cy="1259.94" r="4.4"/>
<circle cx="142.8" cy="1270.14" r="4.4"/>
<circle cx="145.58" cy="1483.8" r="4.4"/>
<circle cx="139.98" cy="1407.25" r="4.4"/>
<circle cx="146.79" cy="1259.99" r="4.4"/>
<circle cx="135.27" cy="1168.57" r="4.4"/>
<circle cx="134.82" cy="1176.73" r="4.4"/>
<circle cx="155.76" cy="1163.06" r="4.4"/>
<circle cx="157.75" cy="1192.82" r="4.4"/>
<circle cx="156.87" cy="1199.43" r="4.4"/>
<circle cx="155.76" cy="1484.2" r="4.4"/>
<circle cx="156.87" cy="1514.62" r="4.4"/>
<circle cx="152.02" cy="1523.43" r="4.4"/>
<circle cx="133.06" cy="1439.68" r="4.4"/>
<circle cx="136.37" cy="1465.02" r="4.4"/>
</g>
<path d="M201.83 1251.23 C201.46 1254.53 200.14 1264.08 199.63 1271.06 C199.11 1278.04 199.18 1285.76 198.74 1293.1 C198.3 1300.45 198.01 1307.8 196.98 1315.14 C195.95 1322.49 194.12 1329.84 192.57 1337.19 C191.03 1344.53 189.12 1352.25 187.72 1359.23 C186.33 1366.21 185.04 1372.82 184.2 1379.06 C183.35 1385.31 182.73 1390.82 182.65 1396.7 C182.58 1402.57 182.84 1408.45 183.76 1414.33 C184.67 1420.21 186.33 1426.08 188.16 1431.96 C190 1437.84 192.5 1443.72 194.78 1449.59 C197.05 1455.47 199.81 1461.35 201.83 1467.23 C203.85 1473.1 205.65 1478.62 206.9 1484.86 C208.15 1491.1 208.77 1497.72 209.32 1504.7 C209.87 1511.68 210.06 1517.19 210.2 1526.74 C210.35 1536.29 210.2 1556.13 210.2 1562 L212.85 1562 C212.85 1556.13 212.7 1536.29 212.85 1526.74 C213 1517.19 213.18 1511.68 213.73 1504.7 C214.28 1497.72 214.91 1491.1 216.16 1484.86 C217.41 1478.62 219.21 1473.1 221.23 1467.23 C223.25 1461.35 226 1455.47 228.28 1449.59 C230.56 1443.72 233.05 1437.84 234.89 1431.96 C236.73 1426.08 238.38 1420.21 239.3 1414.33 C240.22 1408.45 240.47 1402.57 240.4 1396.7 C240.33 1390.82 239.7 1385.31 238.86 1379.06 C238.01 1372.82 236.73 1366.21 235.33 1359.23 C233.94 1352.25 232.03 1344.53 230.48 1337.19 C228.94 1329.84 227.1 1322.49 226.07 1315.14 C225.05 1307.8 224.75 1300.45 224.31 1293.1 C223.87 1285.76 223.94 1278.04 223.43 1271.06 C222.92 1264.08 221.59 1254.53 221.23 1251.23 Z" fill="#EEAACD" stroke="#454e50" stroke-width="2.9" stroke-linejoin="round"/>
<line x1="211.53" y1="1251.23" x2="211.53" y2="1496.32" stroke="#454e50" stroke-width="3.4"/>
<rect x="205.19" y="1330.57" width="12.67" height="87.06" fill="#ffffff" stroke="#454e50" stroke-width="3.4"/>
<line x1="205.19" y1="1384.57" x2="217.86" y2="1384.57" stroke="#454e50" stroke-width="6.5"/>
<g fill="#4d4e50" fill-opacity="0.34">
<circle cx="207.55" cy="1393.8" r="4.4"/>
<circle cx="215.63" cy="1368.35" r="4.4"/>
<circle cx="215.43" cy="1431.94" r="4.4"/>
<circle cx="208.76" cy="1268.3" r="4.4"/>
<circle cx="219.06" cy="1394.65" r="4.4"/>
<circle cx="200.36" cy="1446.54" r="4.4"/>
<circle cx="206.21" cy="1346.94" r="4.4"/>
<circle cx="201.29" cy="1343.16" r="4.4"/>
<circle cx="207.15" cy="1315.55" r="4.4"/>
<circle cx="218.85" cy="1472.83" r="4.4"/>
<circle cx="217.86" cy="1464.55" r="4.4"/>
<circle cx="202.76" cy="1453" r="4.4"/>
<circle cx="206.74" cy="1311.29" r="4.4"/>
<circle cx="201.83" cy="1379.78" r="4.4"/>
<circle cx="215.58" cy="1436.03" r="4.4"/>
<circle cx="210.09" cy="1406.81" r="4.4"/>
<circle cx="204.82" cy="1367.42" r="4.4"/>
<circle cx="208.38" cy="1448.79" r="4.4"/>
<circle cx="220.66" cy="1358.87" r="4.4"/>
<circle cx="209.66" cy="1448.81" r="4.4"/>
<circle cx="216.3" cy="1410.9" r="4.4"/>
<circle cx="214.72" cy="1496.56" r="4.4"/>
<circle cx="210.87" cy="1451.11" r="4.4"/>
<circle cx="212.94" cy="1432.42" r="4.4"/>
<circle cx="208.12" cy="1403.54" r="4.4"/>
<circle cx="203.99" cy="1353.27" r="4.4"/>
<circle cx="211.39" cy="1266.18" r="4.4"/>
<circle cx="206.64" cy="1287.15" r="4.4"/>
<circle cx="207.28" cy="1277.64" r="4.4"/>
<circle cx="203.69" cy="1437.5" r="4.4"/>
<circle cx="221.86" cy="1457.43" r="4.4"/>
<circle cx="209.67" cy="1345.27" r="4.4"/>
<circle cx="204.03" cy="1495.13" r="4.4"/>
<circle cx="199.82" cy="1406.12" r="4.4"/>
<circle cx="204.38" cy="1416.13" r="4.4"/>
<circle cx="223.43" cy="1562.44" r="4.4"/>
<circle cx="220.78" cy="1497.64" r="4.4"/>
<circle cx="198.74" cy="1480.45" r="4.4"/>
<circle cx="224.53" cy="1298.61" r="4.4"/>
<circle cx="199.63" cy="1275.47" r="4.4"/>
<circle cx="213.51" cy="1250.78" r="4.4"/>
</g>
<path d="M274.12 1184.66 C274.12 1190.25 274.05 1208.17 274.12 1218.16 C274.2 1228.16 274.56 1237.27 274.56 1244.61 C274.56 1251.96 274.64 1256.37 274.12 1262.25 C273.61 1268.12 272.58 1273.63 271.48 1279.88 C270.38 1286.12 268.98 1292.37 267.51 1299.72 C266.04 1307.06 264.43 1315.51 262.66 1323.96 C260.9 1332.41 258.77 1341.96 256.93 1350.41 C255.1 1358.86 253.11 1367.31 251.64 1374.66 C250.17 1382 248.92 1387.88 248.12 1394.49 C247.31 1401.1 246.79 1407.72 246.79 1414.33 C246.79 1420.94 247.23 1427.92 248.12 1434.17 C249 1440.41 250.39 1445.92 252.08 1451.8 C253.77 1457.68 256.23 1463.92 258.25 1469.43 C260.27 1474.94 262.44 1479.35 264.21 1484.86 C265.97 1490.37 267.95 1499.08 268.83 1502.49 C269.72 1505.91 269.39 1504.88 269.5 1505.36 L284.48 1505.36 C284.59 1504.88 284.26 1505.91 285.14 1502.49 C286.03 1499.08 288.01 1490.37 289.77 1484.86 C291.54 1479.35 293.7 1474.94 295.72 1469.43 C297.74 1463.92 300.21 1457.68 301.9 1451.8 C303.59 1445.92 304.98 1440.41 305.86 1434.17 C306.74 1427.92 307.19 1420.94 307.19 1414.33 C307.19 1407.72 306.67 1401.1 305.86 1394.49 C305.05 1387.88 303.81 1382 302.34 1374.66 C300.87 1367.31 298.88 1358.86 297.05 1350.41 C295.21 1341.96 293.08 1332.41 291.32 1323.96 C289.55 1315.51 287.94 1307.06 286.47 1299.72 C285 1292.37 283.6 1286.12 282.5 1279.88 C281.4 1273.63 280.37 1268.12 279.85 1262.25 C279.34 1256.37 279.41 1251.96 279.41 1244.61 C279.41 1237.27 279.78 1228.16 279.85 1218.16 C279.93 1208.17 279.85 1190.25 279.85 1184.66 Z" fill="#99CE6B" stroke="#454e50" stroke-width="2.9" stroke-linejoin="round"/>
<line x1="276.99" y1="1295.75" x2="276.99" y2="1504.7" stroke="#454e50" stroke-width="3.4"/>
<rect x="270.87" y="1364.74" width="12.23" height="84.86" fill="#ffffff" stroke="#454e50" stroke-width="3.4"/>
<line x1="270.87" y1="1408.16" x2="283.1" y2="1408.16" stroke="#454e50" stroke-width="6.5"/>
<g fill="#4d4e50" fill-opacity="0.34">
<circle cx="274.45" cy="1463.18" r="4.4"/>
<circle cx="280.89" cy="1398.58" r="4.4"/>
<circle cx="284.89" cy="1393.31" r="4.4"/>
<circle cx="283.53" cy="1420.82" r="4.4"/>
<circle cx="286.59" cy="1305.04" r="4.4"/>
<circle cx="284.52" cy="1375.24" r="4.4"/>
<circle cx="274.77" cy="1406.45" r="4.4"/>
<circle cx="280.6" cy="1456.04" r="4.4"/>
<circle cx="265.84" cy="1402.49" r="4.4"/>
<circle cx="284.34" cy="1401.38" r="4.4"/>
<circle cx="282.19" cy="1466.55" r="4.4"/>
<circle cx="271.12" cy="1385.39" r="4.4"/>
<circle cx="276.3" cy="1381.09" r="4.4"/>
<circle cx="271.28" cy="1437.98" r="4.4"/>
<circle cx="284.37" cy="1409.66" r="4.4"/>
<circle cx="275.16" cy="1279.23" r="4.4"/>
<circle cx="284.01" cy="1308.55" r="4.4"/>
<circle cx="287.59" cy="1185.95" r="4.4"/>
<circle cx="283.93" cy="1412.97" r="4.4"/>
<circle cx="273.99" cy="1409.73" r="4.4"/>
<circle cx="273.05" cy="1498.76" r="4.4"/>
<circle cx="288.13" cy="1385.16" r="4.4"/>
<circle cx="287.1" cy="1409.74" r="4.4"/>
<circle cx="269.23" cy="1484.91" r="4.4"/>
<circle cx="273.54" cy="1387.39" r="4.4"/>
<circle cx="284.19" cy="1253.01" r="4.4"/>
<circle cx="283.4" cy="1442.22" r="4.4"/>
<circle cx="271.57" cy="1368.48" r="4.4"/>
<circle cx="275.65" cy="1384.02" r="4.4"/>
<circle cx="288.53" cy="1428.66" r="4.4"/>
<circle cx="266.74" cy="1482.45" r="4.4"/>
<circle cx="271.34" cy="1418.55" r="4.4"/>
<circle cx="281.1" cy="1504.06" r="4.4"/>
<circle cx="287.18" cy="1436.25" r="4.4"/>
<circle cx="288.16" cy="1416.39" r="4.4"/>
<circle cx="276.22" cy="1283.95" r="4.4"/>
<circle cx="284.25" cy="1388.45" r="4.4"/>
<circle cx="288.8" cy="1368.79" r="4.4"/>
<circle cx="272.73" cy="1379.06" r="4.4"/>
<circle cx="270.18" cy="1429.57" r="4.4"/>
<circle cx="270.98" cy="1201.04" r="4.4"/>
<circle cx="284.05" cy="1453.04" r="4.4"/>
<circle cx="267.98" cy="1404.62" r="4.4"/>
<circle cx="278.16" cy="1382.17" r="4.4"/>
<circle cx="287.73" cy="1474.97" r="4.4"/>
<circle cx="269.52" cy="1416.7" r="4.4"/>
<circle cx="280.21" cy="1425.28" r="4.4"/>
<circle cx="277.74" cy="1356.24" r="4.4"/>
<circle cx="288.65" cy="1390.97" r="4.4"/>
<circle cx="277.33" cy="1495.13" r="4.4"/>
<circle cx="276.76" cy="1357.14" r="4.4"/>
<circle cx="287.08" cy="1348.37" r="4.4"/>
<circle cx="283.3" cy="1401.12" r="4.4"/>
<circle cx="268.12" cy="1406.71" r="4.4"/>
<circle cx="284.58" cy="1305.52" r="4.4"/>
<circle cx="274.47" cy="1459.57" r="4.4"/>
<circle cx="288.71" cy="1304.63" r="4.4"/>
<circle cx="288.57" cy="1321.86" r="4.4"/>
<circle cx="276.82" cy="1402.43" r="4.4"/>
<circle cx="274.89" cy="1415.94" r="4.4"/>
<circle cx="270.16" cy="1456.6" r="4.4"/>
<circle cx="271.4" cy="1460.27" r="4.4"/>
<circle cx="269.64" cy="1447.88" r="4.4"/>
<circle cx="268.69" cy="1391.13" r="4.4"/>
<circle cx="282.74" cy="1292.65" r="4.4"/>
<circle cx="265.77" cy="1337.73" r="4.4"/>
<circle cx="279.46" cy="1417.92" r="4.4"/>
<circle cx="279.44" cy="1352.78" r="4.4"/>
<circle cx="282.88" cy="1287.01" r="4.4"/>
<circle cx="267.95" cy="1206.7" r="4.4"/>
<circle cx="283.38" cy="1223.67" r="4.4"/>
<circle cx="273.02" cy="1234.03" r="4.4"/>
<circle cx="277.43" cy="1184" r="4.4"/>
<circle cx="264.87" cy="1296.41" r="4.4"/>
<circle cx="263.54" cy="1318.45" r="4.4"/>
<circle cx="289.99" cy="1319.55" r="4.4"/>
<circle cx="286.91" cy="1505.36" r="4.4"/>
</g>
<path d="M334.08 1310.74 C333.56 1313.67 332.17 1321.76 330.99 1328.37 C329.81 1334.98 328.49 1343.06 327.02 1350.41 C325.55 1357.76 323.72 1365.1 322.17 1372.45 C320.63 1379.8 319.09 1387.14 317.77 1394.49 C316.44 1401.84 315.08 1409.19 314.24 1416.53 C313.39 1423.88 312.7 1431.59 312.7 1438.57 C312.7 1445.55 313.32 1451.8 314.24 1458.41 C315.16 1465.02 316.63 1472 318.21 1478.25 C319.79 1484.49 322.06 1490.37 323.72 1495.88 C325.37 1501.39 327.13 1507.45 328.12 1511.31 C329.12 1515.17 329.41 1517.74 329.67 1519.02 L354.35 1519.02 C354.61 1517.74 354.9 1515.17 355.9 1511.31 C356.89 1507.45 358.65 1501.39 360.3 1495.88 C361.96 1490.37 364.23 1484.49 365.81 1478.25 C367.39 1472 368.86 1465.02 369.78 1458.41 C370.7 1451.8 371.32 1445.55 371.32 1438.57 C371.32 1431.59 370.63 1423.88 369.78 1416.53 C368.94 1409.19 367.58 1401.84 366.26 1394.49 C364.93 1387.14 363.39 1379.8 361.85 1372.45 C360.3 1365.1 358.47 1357.76 357 1350.41 C355.53 1343.06 354.21 1334.98 353.03 1328.37 C351.86 1321.76 350.46 1313.67 349.94 1310.74 Z" fill="#F4B27B" stroke="#454e50" stroke-width="2.9" stroke-linejoin="round"/>
<line x1="342.01" y1="1310.74" x2="342.01" y2="1519.02" stroke="#454e50" stroke-width="3.4"/>
<rect x="335.68" y="1391.85" width="12.89" height="78.03" fill="#ffffff" stroke="#454e50" stroke-width="3.4"/>
<line x1="335.68" y1="1428.66" x2="348.57" y2="1428.66" stroke="#454e50" stroke-width="6.5"/>
<g fill="#4d4e50" fill-opacity="0.34">
<circle cx="343.26" cy="1428.92" r="4.4"/>
<circle cx="351.42" cy="1369.32" r="4.4"/>
<circle cx="336.18" cy="1432.07" r="4.4"/>
<circle cx="342.73" cy="1453.95" r="4.4"/>
<circle cx="345.41" cy="1361.64" r="4.4"/>
<circle cx="343.95" cy="1390.48" r="4.4"/>
<circle cx="339.69" cy="1388.6" r="4.4"/>
<circle cx="345.66" cy="1446.95" r="4.4"/>
<circle cx="337.37" cy="1423.07" r="4.4"/>
<circle cx="333.39" cy="1433.46" r="4.4"/>
<circle cx="329.73" cy="1457.73" r="4.4"/>
<circle cx="344.65" cy="1500.3" r="4.4"/>
<circle cx="343.86" cy="1366.93" r="4.4"/>
<circle cx="349.5" cy="1345.95" r="4.4"/>
<circle cx="333.43" cy="1391.69" r="4.4"/>
<circle cx="346.33" cy="1473.58" r="4.4"/>
<circle cx="340.84" cy="1382.97" r="4.4"/>
<circle cx="342.64" cy="1474.02" r="4.4"/>
<circle cx="350.3" cy="1411.91" r="4.4"/>
<circle cx="342.49" cy="1488.04" r="4.4"/>
<circle cx="340.4" cy="1449.32" r="4.4"/>
<circle cx="345.65" cy="1445.66" r="4.4"/>
<circle cx="333.21" cy="1508.21" r="4.4"/>
<circle cx="351.33" cy="1421.2" r="4.4"/>
<circle cx="342.45" cy="1340.7" r="4.4"/>
<circle cx="330.57" cy="1447.72" r="4.4"/>
<circle cx="341.55" cy="1488.48" r="4.4"/>
<circle cx="353.15" cy="1490.89" r="4.4"/>
<circle cx="353.98" cy="1383.19" r="4.4"/>
<circle cx="340.17" cy="1509.66" r="4.4"/>
<circle cx="336.15" cy="1391.09" r="4.4"/>
<circle cx="352.92" cy="1481.41" r="4.4"/>
<circle cx="336.62" cy="1487.3" r="4.4"/>
<circle cx="332.53" cy="1311.18" r="4.4"/>
<circle cx="354.57" cy="1318.45" r="4.4"/>
<circle cx="335.84" cy="1519.02" r="4.4"/>
<circle cx="353.47" cy="1504.7" r="4.4"/>
</g>
<line x1="107.3" y1="1142.7" x2="107.3" y2="1583.2" stroke="#2a2a2a" stroke-width="1.8"/>
<line x1="106.4" y1="1582.3" x2="381.2" y2="1582.3" stroke="#2a2a2a" stroke-width="1.8"/>
<line x1="100.3" y1="1231.4" x2="107.3" y2="1231.4" stroke="#333" stroke-width="1.6"/>
<text x="95.5" y="1239.4" font-size="21.5" fill="#5b6669" text-anchor="end">5000</text>
<line x1="100.3" y1="1330.3" x2="107.3" y2="1330.3" stroke="#333" stroke-width="1.6"/>
<text x="95.5" y="1338.3" font-size="21.5" fill="#5b6669" text-anchor="end">4000</text>
<line x1="100.3" y1="1429.5" x2="107.3" y2="1429.5" stroke="#333" stroke-width="1.6"/>
<text x="95.5" y="1437.5" font-size="21.5" fill="#5b6669" text-anchor="end">3000</text>
<line x1="100.3" y1="1528.7" x2="107.3" y2="1528.7" stroke="#333" stroke-width="1.6"/>
<text x="95.5" y="1536.7" font-size="21.5" fill="#5b6669" text-anchor="end">2000</text>
<line x1="145.8" y1="1582.3" x2="145.8" y2="1589.5" stroke="#333" stroke-width="1.6"/>
<text x="146.3" y="1609.7" font-size="21.3" fill="#5b6669" text-anchor="middle">CMS2</text>
<line x1="211.5" y1="1582.3" x2="211.5" y2="1589.5" stroke="#333" stroke-width="1.6"/>
<text x="212" y="1609.7" font-size="21.3" fill="#5b6669" text-anchor="middle">CMS3</text>
<line x1="277" y1="1582.3" x2="277" y2="1589.5" stroke="#333" stroke-width="1.6"/>
<text x="277.5" y="1609.7" font-size="21.3" fill="#5b6669" text-anchor="middle">CMS4</text>
<line x1="342" y1="1582.3" x2="342" y2="1589.5" stroke="#333" stroke-width="1.6"/>
<text x="342.5" y="1609.7" font-size="21.3" fill="#5b6669" text-anchor="middle">CMS1</text>
<text x="35.5" y="1381" font-size="25" fill="#1a1a1a" text-anchor="middle" transform="rotate(-90 35.5 1381)"><tspan font-style="italic">URI1</tspan> mRNA expression</text>
<line x1="131.6" y1="1071.6" x2="345" y2="1071.6" stroke="#222" stroke-width="1.8"/>
<line x1="131.6" y1="1106.4" x2="274.2" y2="1106.4" stroke="#222" stroke-width="1.8"/>
<line x1="131.6" y1="1141.8" x2="203.2" y2="1141.8" stroke="#222" stroke-width="1.8"/>
<text x="247.4" y="1078.1" font-size="40" fill="#1a1a1a" text-anchor="middle" letter-spacing="1.6" stroke="#1a1a1a" stroke-width="0.5">***</text>
<text x="212.3" y="1110.1" font-size="40" fill="#1a1a1a" text-anchor="middle" letter-spacing="1.6" stroke="#1a1a1a" stroke-width="0.5">***</text>
<text x="168.1" y="1147.1" font-size="40" fill="#1a1a1a" text-anchor="middle" letter-spacing="1.6" stroke="#1a1a1a" stroke-width="0.5">***</text>
<text x="387.6" y="1061.8" font-size="21.2" fill="#1a1a1a" text-anchor="end">p=0</text>
<text x="387.6" y="1098.9" font-size="21.2" fill="#1a1a1a" text-anchor="end">p=0</text>
<text x="387.6" y="1136.4" font-size="21.4" fill="#1a1a1a" text-anchor="end">p=0.0034</text>
<rect x="400.6" y="1465.6" width="33.6" height="33.3" fill="#4FC1EE" stroke="#555f62" stroke-width="1.9"/>
<text x="441.6" y="1491.1" font-size="25.2" fill="#5b6669">CMS2, canonical, n=95</text>
<rect x="400.6" y="1502.8" width="33.6" height="32.7" fill="#EEAACD" stroke="#555f62" stroke-width="1.9"/>
<text x="441.6" y="1527.9" font-size="25.2" fill="#5b6669">CMS3, metabolic, n=41</text>
<rect x="400.6" y="1538.4" width="33.6" height="33.3" fill="#99CE6B" stroke="#555f62" stroke-width="1.9"/>
<text x="441.6" y="1563.8" font-size="25.2" fill="#5b6669">CMS4, mesenchymal, n=77</text>
<rect x="400.6" y="1574.7" width="33.6" height="33.5" fill="#F4B27B" stroke="#555f62" stroke-width="1.9"/>
<text x="441.6" y="1600.1" font-size="25.2" fill="#5b6669">CMS1, MSI immune, n=37</text>
<text x="452.5" y="1057.5" font-size="41" fill="#1a1a1a" font-weight="bold">h</text>
<text x="523.2" y="1058" font-size="24.65" fill="#1a1a1a">CMS2, canonical</text>
<path d="M541.91 1243.71 C549.59 1245.79 572.86 1251.98 587.96 1256.19 C603.06 1260.39 617.67 1264.75 632.53 1268.96 C647.38 1273.17 662.23 1278.12 677.09 1281.44 C691.94 1284.76 706.8 1287.13 721.65 1288.87 C736.51 1290.6 750.27 1291.09 766.22 1291.84 C782.16 1292.58 808.8 1293.07 817.31 1293.32 L817.31 1342.34 C808.8 1339.62 782.16 1330.95 766.22 1326 C750.27 1321.05 736.51 1316.35 721.65 1312.63 C706.8 1308.92 691.94 1305.8 677.09 1303.72 C662.23 1301.64 647.38 1301.05 632.53 1300.15 C617.67 1299.26 603.06 1298.92 587.96 1298.37 C572.86 1297.83 549.59 1297.13 541.91 1296.89 Z" fill="#D1D2D4"/>
<g fill="#4FC1EE" fill-opacity="0.78">
<circle cx="604.9" cy="1087.74" r="4.5"/>
<circle cx="704.72" cy="1104.08" r="4.5"/>
<circle cx="704.12" cy="1112.1" r="4.5"/>
<circle cx="674.41" cy="1130.22" r="4.5"/>
<circle cx="608.76" cy="1205.38" r="4.5"/>
<circle cx="673.82" cy="1205.09" r="4.5"/>
<circle cx="656.89" cy="1228.85" r="4.5"/>
<circle cx="702.34" cy="1236.58" r="4.5"/>
<circle cx="812.56" cy="1236.58" r="4.5"/>
<circle cx="633.12" cy="1244" r="4.5"/>
<circle cx="698.78" cy="1245.49" r="4.5"/>
<circle cx="804.84" cy="1247.87" r="4.5"/>
<circle cx="589.45" cy="1249.65" r="4.5"/>
<circle cx="764.14" cy="1255.59" r="4.5"/>
<circle cx="549.34" cy="1260.64" r="4.5"/>
<circle cx="681.84" cy="1265.69" r="4.5"/>
<circle cx="702.94" cy="1264.5" r="4.5"/>
<circle cx="705.31" cy="1270.45" r="4.5"/>
<circle cx="572.22" cy="1268.07" r="4.5"/>
<circle cx="590.34" cy="1269.55" r="4.5"/>
<circle cx="635.79" cy="1269.55" r="4.5"/>
<circle cx="722.84" cy="1271.04" r="4.5"/>
<circle cx="541.91" cy="1273.42" r="4.5"/>
<circle cx="658.97" cy="1275.79" r="4.5"/>
<circle cx="627.18" cy="1281.44" r="4.5"/>
<circle cx="634.01" cy="1281.44" r="4.5"/>
<circle cx="643.81" cy="1282.03" r="4.5"/>
<circle cx="672.93" cy="1285.89" r="4.5"/>
<circle cx="587.07" cy="1290.65" r="4.5"/>
<circle cx="611.73" cy="1292.73" r="4.5"/>
<circle cx="740.96" cy="1290.35" r="4.5"/>
<circle cx="736.51" cy="1292.43" r="4.5"/>
<circle cx="648.87" cy="1298.67" r="4.5"/>
<circle cx="724.03" cy="1298.67" r="4.5"/>
<circle cx="680.65" cy="1300.75" r="4.5"/>
<circle cx="623.61" cy="1303.72" r="4.5"/>
<circle cx="625.4" cy="1304.61" r="4.5"/>
<circle cx="593.31" cy="1305.8" r="4.5"/>
<circle cx="596.28" cy="1305.8" r="4.5"/>
<circle cx="606.38" cy="1308.47" r="4.5"/>
<circle cx="654.81" cy="1306.69" r="4.5"/>
<circle cx="675.6" cy="1307.28" r="4.5"/>
<circle cx="679.47" cy="1307.28" r="4.5"/>
<circle cx="689.86" cy="1307.88" r="4.5"/>
<circle cx="699.96" cy="1309.96" r="4.5"/>
<circle cx="736.51" cy="1307.58" r="4.5"/>
<circle cx="746.01" cy="1311.15" r="4.5"/>
<circle cx="756.11" cy="1314.12" r="4.5"/>
<circle cx="767.11" cy="1314.12" r="4.5"/>
<circle cx="794.44" cy="1307.28" r="4.5"/>
<circle cx="816.72" cy="1306.99" r="4.5"/>
<circle cx="637.87" cy="1315.31" r="4.5"/>
<circle cx="675.6" cy="1315.9" r="4.5"/>
<circle cx="692.54" cy="1317.98" r="4.5"/>
<circle cx="697.88" cy="1320.06" r="4.5"/>
<circle cx="713.33" cy="1320.95" r="4.5"/>
<circle cx="625.69" cy="1323.03" r="4.5"/>
<circle cx="661.64" cy="1323.33" r="4.5"/>
<circle cx="743.04" cy="1323.62" r="4.5"/>
<circle cx="751.36" cy="1323.92" r="4.5"/>
<circle cx="771.56" cy="1323.92" r="4.5"/>
<circle cx="717.2" cy="1326.6" r="4.5"/>
<circle cx="704.72" cy="1327.49" r="4.5"/>
<circle cx="706.8" cy="1328.97" r="4.5"/>
<circle cx="743.93" cy="1326.89" r="4.5"/>
<circle cx="749.88" cy="1328.08" r="4.5"/>
<circle cx="766.22" cy="1328.97" r="4.5"/>
<circle cx="778.69" cy="1328.97" r="4.5"/>
<circle cx="619.16" cy="1331.35" r="4.5"/>
<circle cx="645.89" cy="1330.16" r="4.5"/>
<circle cx="649.76" cy="1333.43" r="4.5"/>
<circle cx="653.92" cy="1333.43" r="4.5"/>
<circle cx="653.32" cy="1334.91" r="4.5"/>
<circle cx="667.58" cy="1331.94" r="4.5"/>
<circle cx="688.97" cy="1331.05" r="4.5"/>
<circle cx="690.75" cy="1331.35" r="4.5"/>
<circle cx="696.99" cy="1333.73" r="4.5"/>
<circle cx="703.83" cy="1334.91" r="4.5"/>
<circle cx="712.14" cy="1334.32" r="4.5"/>
<circle cx="714.22" cy="1331.94" r="4.5"/>
<circle cx="727.89" cy="1332.54" r="4.5"/>
<circle cx="789.69" cy="1333.43" r="4.5"/>
<circle cx="594.8" cy="1339.67" r="4.5"/>
<circle cx="688.08" cy="1341.75" r="4.5"/>
<circle cx="728.48" cy="1343.83" r="4.5"/>
<circle cx="806.32" cy="1345.91" r="4.5"/>
<circle cx="707.39" cy="1348.88" r="4.5"/>
<circle cx="647.68" cy="1354.82" r="4.5"/>
<circle cx="738.59" cy="1355.71" r="4.5"/>
<circle cx="767.7" cy="1353.93" r="4.5"/>
<circle cx="815.83" cy="1356.01" r="4.5"/>
</g>
<line x1="541.9" y1="1270.4" x2="817.3" y2="1318.6" stroke="#1a1a1a" stroke-width="6.2"/>
<line x1="523.5" y1="1074.4" x2="523.5" y2="1369.1" stroke="#1c1c1c" stroke-width="1.8"/>
<line x1="522.6" y1="1368.8" x2="855.3" y2="1368.8" stroke="#1c1c1c" stroke-width="1.8"/>
<line x1="517" y1="1165.6" x2="523.5" y2="1165.6" stroke="#333" stroke-width="1.6"/>
<text x="513" y="1172.2" font-size="21.5" fill="#5b6669" text-anchor="end">100</text>
<line x1="517" y1="1260.6" x2="523.5" y2="1260.6" stroke="#333" stroke-width="1.6"/>
<text x="513" y="1267.2" font-size="21.5" fill="#5b6669" text-anchor="end">50</text>
<line x1="517" y1="1367.6" x2="523.5" y2="1367.6" stroke="#333" stroke-width="1.6"/>
<text x="513" y="1374.2" font-size="21.5" fill="#5b6669" text-anchor="end">0</text>
<line x1="538.3" y1="1368.2" x2="538.3" y2="1375" stroke="#333" stroke-width="1.6"/>
<text x="542.3" y="1393.7" font-size="21.5" fill="#5b6669" text-anchor="middle">2000</text>
<line x1="613.5" y1="1368.2" x2="613.5" y2="1375" stroke="#333" stroke-width="1.6"/>
<text x="617.5" y="1393.7" font-size="21.5" fill="#5b6669" text-anchor="middle">3000</text>
<line x1="689" y1="1368.2" x2="689" y2="1375" stroke="#333" stroke-width="1.6"/>
<text x="693" y="1393.7" font-size="21.5" fill="#5b6669" text-anchor="middle">4000</text>
<line x1="764.4" y1="1368.2" x2="764.4" y2="1375" stroke="#333" stroke-width="1.6"/>
<text x="768.4" y="1393.7" font-size="21.5" fill="#5b6669" text-anchor="middle">5000</text>
<line x1="840.2" y1="1368.2" x2="840.2" y2="1375" stroke="#333" stroke-width="1.6"/>
<text x="844.2" y="1393.7" font-size="21.5" fill="#5b6669" text-anchor="middle">6000</text>
<text x="695.2" y="1433.4" font-size="25" fill="#1a1a1a" text-anchor="middle"><tspan font-style="italic">URI1</tspan> mRNA expression</text>
<text x="471.5" y="1199.7" font-size="25" fill="#1a1a1a" text-anchor="middle" transform="rotate(-90 471.5 1199.7)">Survival time (months)</text>
<text x="783.8" y="1122.1" font-size="40" fill="#1a1a1a" text-anchor="middle" letter-spacing="1.6" stroke="#1a1a1a" stroke-width="0.5">*</text>
<text x="750.8" y="1165.6" font-size="21.4" fill="#1a1a1a">PCC = -0.21</text>
<text x="750.8" y="1191.7" font-size="21.4" fill="#1a1a1a">p=0.0374</text>
<text x="911.5" y="1057.5" font-size="41" fill="#1a1a1a" font-weight="bold">i</text>
<path d="M1003.6 1311 C1009.59 1309.16 1027.57 1303.76 1039.55 1299.94 C1051.53 1296.12 1063.52 1292.21 1075.5 1288.09 C1087.48 1283.98 1099.47 1279.84 1111.45 1275.24 C1123.43 1270.64 1135.42 1265.64 1147.4 1260.51 C1159.38 1255.38 1171.37 1249.92 1183.35 1244.45 C1195.33 1238.98 1207.32 1233.36 1219.3 1227.67 C1231.28 1221.97 1243.27 1216.17 1255.25 1210.29 C1267.23 1204.41 1285.21 1195.38 1291.2 1192.4 L1291.2 1220.4 C1285.21 1222.26 1267.23 1227.74 1255.25 1231.53 C1243.27 1235.33 1231.28 1239.2 1219.3 1243.18 C1207.32 1247.17 1195.33 1251.22 1183.35 1255.43 C1171.37 1259.63 1159.38 1263.85 1147.4 1268.39 C1135.42 1272.93 1123.43 1277.61 1111.45 1282.69 C1099.47 1287.76 1087.48 1293.3 1075.5 1298.86 C1063.52 1304.41 1051.53 1310.18 1039.55 1316.03 C1027.57 1321.89 1009.59 1331.01 1003.6 1334 Z" fill="#D1D2D4"/>
<g fill="#4a4b4d" fill-opacity="0.42">
<circle cx="1066.97" cy="1328.67" r="3.9"/>
<circle cx="1067.74" cy="1343.5" r="3.9"/>
<circle cx="1067.36" cy="1306.22" r="3.9"/>
<circle cx="1078.15" cy="1327.07" r="3.9"/>
<circle cx="1065.26" cy="1333.57" r="3.9"/>
<circle cx="1075.8" cy="1351.32" r="3.9"/>
<circle cx="1085.76" cy="1333.48" r="3.9"/>
<circle cx="1053.03" cy="1314.41" r="3.9"/>
<circle cx="1076.13" cy="1353.83" r="3.9"/>
<circle cx="1071.33" cy="1329.8" r="3.9"/>
<circle cx="1082.83" cy="1306.97" r="3.9"/>
<circle cx="1063.02" cy="1339.91" r="3.9"/>
<circle cx="1090.85" cy="1327.53" r="3.9"/>
<circle cx="1079.19" cy="1335.81" r="3.9"/>
<circle cx="1088.71" cy="1312.74" r="3.9"/>
<circle cx="1083.69" cy="1305.93" r="3.9"/>
<circle cx="1048.86" cy="1346.45" r="3.9"/>
<circle cx="1085.94" cy="1310.94" r="3.9"/>
<circle cx="1090.24" cy="1314.62" r="3.9"/>
<circle cx="1068.33" cy="1326.62" r="3.9"/>
<circle cx="1073.04" cy="1345.48" r="3.9"/>
<circle cx="1085.33" cy="1337.53" r="3.9"/>
<circle cx="1085.61" cy="1339.71" r="3.9"/>
<circle cx="1055.64" cy="1319.44" r="3.9"/>
<circle cx="1059.32" cy="1340.07" r="3.9"/>
<circle cx="1051.12" cy="1312.98" r="3.9"/>
<circle cx="1088.39" cy="1355.7" r="3.9"/>
<circle cx="1082.22" cy="1345.77" r="3.9"/>
<circle cx="1103.83" cy="1330.01" r="3.9"/>
<circle cx="1036.96" cy="1322.59" r="3.9"/>
<circle cx="1092.71" cy="1307.13" r="3.9"/>
<circle cx="1071.14" cy="1335.9" r="3.9"/>
<circle cx="1062.95" cy="1343.87" r="3.9"/>
<circle cx="1084.9" cy="1321.27" r="3.9"/>
<circle cx="1057.17" cy="1317.51" r="3.9"/>
<circle cx="1092.7" cy="1322" r="3.9"/>
<circle cx="1068.7" cy="1344.3" r="3.9"/>
<circle cx="1053.37" cy="1326.63" r="3.9"/>
<circle cx="1057.03" cy="1338.65" r="3.9"/>
<circle cx="1098.36" cy="1331.29" r="3.9"/>
<circle cx="1076.49" cy="1334.45" r="3.9"/>
<circle cx="1095.81" cy="1346.75" r="3.9"/>
<circle cx="1076.78" cy="1314.47" r="3.9"/>
<circle cx="1091.55" cy="1338.06" r="3.9"/>
<circle cx="1099.15" cy="1331.1" r="3.9"/>
<circle cx="1116.19" cy="1325.52" r="3.9"/>
<circle cx="1107.74" cy="1333.55" r="3.9"/>
<circle cx="1058.24" cy="1312.48" r="3.9"/>
<circle cx="1066.81" cy="1355.73" r="3.9"/>
<circle cx="1089.51" cy="1343.28" r="3.9"/>
<circle cx="1083.4" cy="1322.28" r="3.9"/>
<circle cx="1055.63" cy="1331.56" r="3.9"/>
<circle cx="1110.83" cy="1313.72" r="3.9"/>
<circle cx="1060.31" cy="1354.68" r="3.9"/>
<circle cx="1059.88" cy="1325.43" r="3.9"/>
<circle cx="1072.65" cy="1310.56" r="3.9"/>
<circle cx="1075.51" cy="1311.1" r="3.9"/>
<circle cx="1091.13" cy="1331.66" r="3.9"/>
<circle cx="1123.94" cy="1336.36" r="3.9"/>
<circle cx="1102.4" cy="1309.51" r="3.9"/>
<circle cx="1067.49" cy="1337.08" r="3.9"/>
<circle cx="1111.32" cy="1303.11" r="3.9"/>
<circle cx="1093.6" cy="1341.63" r="3.9"/>
<circle cx="1106.34" cy="1343.68" r="3.9"/>
<circle cx="1071.57" cy="1322.76" r="3.9"/>
<circle cx="1041.06" cy="1334.92" r="3.9"/>
<circle cx="1056.01" cy="1337.03" r="3.9"/>
<circle cx="1033.53" cy="1324.9" r="3.9"/>
<circle cx="1076.48" cy="1345.57" r="3.9"/>
<circle cx="1104.34" cy="1330.86" r="3.9"/>
<circle cx="1044.13" cy="1339.36" r="3.9"/>
<circle cx="1082.48" cy="1339.94" r="3.9"/>
<circle cx="1053.92" cy="1350.81" r="3.9"/>
<circle cx="1072.41" cy="1343.47" r="3.9"/>
<circle cx="1100.25" cy="1341.93" r="3.9"/>
<circle cx="1143.67" cy="1245.61" r="3.9"/>
<circle cx="1136.46" cy="1334.66" r="3.9"/>
<circle cx="1136.83" cy="1288.02" r="3.9"/>
<circle cx="1195.8" cy="1211.69" r="3.9"/>
<circle cx="1035.78" cy="1322.88" r="3.9"/>
<circle cx="1142.91" cy="1230.9" r="3.9"/>
<circle cx="1178.03" cy="1273.74" r="3.9"/>
<circle cx="1075.84" cy="1315.41" r="3.9"/>
<circle cx="1119.59" cy="1199.18" r="3.9"/>
<circle cx="1155.13" cy="1252.55" r="3.9"/>
<circle cx="1089.52" cy="1309.48" r="3.9"/>
<circle cx="1157.05" cy="1226.01" r="3.9"/>
<circle cx="1152.25" cy="1304.99" r="3.9"/>
<circle cx="1091.3" cy="1301.83" r="3.9"/>
<circle cx="1113.56" cy="1268.61" r="3.9"/>
<circle cx="1234.45" cy="1218.62" r="3.9"/>
<circle cx="1253.04" cy="1189.34" r="3.9"/>
<circle cx="1149.52" cy="1233.58" r="3.9"/>
<circle cx="1092.5" cy="1285.93" r="3.9"/>
<circle cx="1114.85" cy="1282.62" r="3.9"/>
<circle cx="1121.18" cy="1354.09" r="3.9"/>
<circle cx="1075.18" cy="1304.82" r="3.9"/>
<circle cx="1048.45" cy="1276.38" r="3.9"/>
<circle cx="1156.2" cy="1287.7" r="3.9"/>
<circle cx="1200.98" cy="1221.7" r="3.9"/>
<circle cx="1042.59" cy="1284.39" r="3.9"/>
<circle cx="1198.24" cy="1257.8" r="3.9"/>
<circle cx="1206.89" cy="1334.02" r="3.9"/>
<circle cx="1161.08" cy="1266.97" r="3.9"/>
<circle cx="1062.41" cy="1255.78" r="3.9"/>
<circle cx="1132.9" cy="1289.01" r="3.9"/>
<circle cx="1162.1" cy="1228.53" r="3.9"/>
<circle cx="1067.25" cy="1256.76" r="3.9"/>
<circle cx="1066.97" cy="1325.44" r="3.9"/>
<circle cx="1154.96" cy="1328.23" r="3.9"/>
<circle cx="1134.23" cy="1312.44" r="3.9"/>
<circle cx="1108.48" cy="1239.82" r="3.9"/>
<circle cx="1093.4" cy="1356.19" r="3.9"/>
<circle cx="1184.77" cy="1264.91" r="3.9"/>
<circle cx="1164.3" cy="1265.44" r="3.9"/>
<circle cx="1212.83" cy="1161.26" r="3.9"/>
<circle cx="1108.43" cy="1296.41" r="3.9"/>
<circle cx="1173.21" cy="1181.55" r="3.9"/>
<circle cx="1126.43" cy="1262.67" r="3.9"/>
<circle cx="1149.23" cy="1220.26" r="3.9"/>
<circle cx="1063.29" cy="1198.47" r="3.9"/>
<circle cx="1148.35" cy="1275.63" r="3.9"/>
<circle cx="1184.7" cy="1279.57" r="3.9"/>
<circle cx="1119.88" cy="1335.68" r="3.9"/>
<circle cx="1122.86" cy="1237.37" r="3.9"/>
<circle cx="1101.82" cy="1250.51" r="3.9"/>
<circle cx="1144.01" cy="1242.26" r="3.9"/>
<circle cx="1091.24" cy="1301.42" r="3.9"/>
<circle cx="1224.34" cy="1225.43" r="3.9"/>
<circle cx="1102.53" cy="1249.87" r="3.9"/>
<circle cx="1126.51" cy="1206.6" r="3.9"/>
<circle cx="1123.47" cy="1271.93" r="3.9"/>
<circle cx="1231.34" cy="1265.95" r="3.9"/>
<circle cx="1186.95" cy="1206.02" r="3.9"/>
<circle cx="1167.01" cy="1194.42" r="3.9"/>
<circle cx="1147.41" cy="1278.41" r="3.9"/>
<circle cx="1161.39" cy="1160.12" r="3.9"/>
<circle cx="1160.6" cy="1232.62" r="3.9"/>
<circle cx="1130.4" cy="1288.33" r="3.9"/>
<circle cx="1151.71" cy="1157.9" r="3.9"/>
<circle cx="1066.9" cy="1331.71" r="3.9"/>
<circle cx="1201.58" cy="1325.64" r="3.9"/>
<circle cx="1172.46" cy="1154.49" r="3.9"/>
<circle cx="1218.68" cy="1238.35" r="3.9"/>
<circle cx="1165.59" cy="1158.8" r="3.9"/>
<circle cx="1146.4" cy="1223.39" r="3.9"/>
<circle cx="1136.42" cy="1240.71" r="3.9"/>
<circle cx="1205.54" cy="1163.39" r="3.9"/>
<circle cx="1147.71" cy="1345.59" r="3.9"/>
<circle cx="1085.04" cy="1296.43" r="3.9"/>
<circle cx="1141.39" cy="1227.64" r="3.9"/>
<circle cx="1165.8" cy="1254.61" r="3.9"/>
<circle cx="1173.67" cy="1238.33" r="3.9"/>
<circle cx="1095.46" cy="1243.74" r="3.9"/>
<circle cx="1197.73" cy="1228.49" r="3.9"/>
<circle cx="1155.48" cy="1245.67" r="3.9"/>
<circle cx="1164.08" cy="1245.11" r="3.9"/>
<circle cx="1172.15" cy="1238.23" r="3.9"/>
<circle cx="1175.75" cy="1277.89" r="3.9"/>
<circle cx="1123.94" cy="1227.29" r="3.9"/>
<circle cx="1078.85" cy="1253.33" r="3.9"/>
<circle cx="1076.42" cy="1331.92" r="3.9"/>
<circle cx="1127.77" cy="1342.78" r="3.9"/>
<circle cx="1255.14" cy="1210.9" r="3.9"/>
<circle cx="1045.56" cy="1285.64" r="3.9"/>
<circle cx="1126.2" cy="1195.95" r="3.9"/>
<circle cx="1116.61" cy="1285.91" r="3.9"/>
<circle cx="1105.17" cy="1240.15" r="3.9"/>
<circle cx="1121.58" cy="1229.79" r="3.9"/>
<circle cx="1109.91" cy="1321.12" r="3.9"/>
<circle cx="1092.83" cy="1306.01" r="3.9"/>
<circle cx="1170.18" cy="1284.09" r="3.9"/>
<circle cx="1206.97" cy="1204.85" r="3.9"/>
<circle cx="1192.35" cy="1199.73" r="3.9"/>
<circle cx="1108.61" cy="1333.36" r="3.9"/>
<circle cx="1175.36" cy="1245.73" r="3.9"/>
<circle cx="1065.09" cy="1322.35" r="3.9"/>
<circle cx="1095.81" cy="1236.86" r="3.9"/>
<circle cx="1094.83" cy="1293.75" r="3.9"/>
<circle cx="1139.85" cy="1233.41" r="3.9"/>
<circle cx="1187.11" cy="1269.84" r="3.9"/>
<circle cx="1097.13" cy="1248.51" r="3.9"/>
<circle cx="1168.39" cy="1175.63" r="3.9"/>
<circle cx="1112.11" cy="1243.65" r="3.9"/>
<circle cx="1134.15" cy="1274.36" r="3.9"/>
<circle cx="1132.34" cy="1319.73" r="3.9"/>
<circle cx="1142.81" cy="1245.08" r="3.9"/>
<circle cx="1064.02" cy="1330.55" r="3.9"/>
<circle cx="1159.25" cy="1322.87" r="3.9"/>
<circle cx="1089.4" cy="1285.59" r="3.9"/>
<circle cx="1127.11" cy="1263.11" r="3.9"/>
<circle cx="1130.89" cy="1182.93" r="3.9"/>
<circle cx="1175.5" cy="1277.07" r="3.9"/>
<circle cx="1192.23" cy="1346.56" r="3.9"/>
<circle cx="1112.86" cy="1272.01" r="3.9"/>
<circle cx="1035.53" cy="1331.99" r="3.9"/>
<circle cx="1049.78" cy="1177.6" r="3.9"/>
<circle cx="1188.86" cy="1197.66" r="3.9"/>
<circle cx="1117.87" cy="1215.37" r="3.9"/>
<circle cx="1163.78" cy="1197.68" r="3.9"/>
<circle cx="1202.48" cy="1185.52" r="3.9"/>
<circle cx="1088.44" cy="1290.66" r="3.9"/>
<circle cx="1131.68" cy="1334.01" r="3.9"/>
<circle cx="1136.92" cy="1204.66" r="3.9"/>
<circle cx="1099.64" cy="1252.07" r="3.9"/>
<circle cx="1170.03" cy="1266.54" r="3.9"/>
<circle cx="1123.79" cy="1310.78" r="3.9"/>
<circle cx="1101.39" cy="1272.34" r="3.9"/>
<circle cx="1140.22" cy="1335.16" r="3.9"/>
<circle cx="1124.93" cy="1251.4" r="3.9"/>
<circle cx="1073.06" cy="1324.76" r="3.9"/>
<circle cx="1098.15" cy="1296.95" r="3.9"/>
<circle cx="1057.39" cy="1261.22" r="3.9"/>
<circle cx="1188.29" cy="1175.43" r="3.9"/>
<circle cx="1125.98" cy="1271.43" r="3.9"/>
<circle cx="1075.65" cy="1355.28" r="3.9"/>
<circle cx="1212.4" cy="1133.85" r="3.9"/>
<circle cx="1050.98" cy="1340.59" r="3.9"/>
<circle cx="1058.97" cy="1279.25" r="3.9"/>
<circle cx="1137.42" cy="1296.08" r="3.9"/>
<circle cx="1118.1" cy="1275.99" r="3.9"/>
<circle cx="1087.79" cy="1347.38" r="3.9"/>
<circle cx="1103.2" cy="1294.49" r="3.9"/>
<circle cx="1102.31" cy="1283.63" r="3.9"/>
<circle cx="1121.12" cy="1262.2" r="3.9"/>
<circle cx="1074.81" cy="1329.29" r="3.9"/>
<circle cx="1207.76" cy="1242.78" r="3.9"/>
<circle cx="1170.43" cy="1288.28" r="3.9"/>
<circle cx="1181.14" cy="1257.66" r="3.9"/>
<circle cx="1141.95" cy="1302.34" r="3.9"/>
<circle cx="1134.1" cy="1217.22" r="3.9"/>
<circle cx="1131.63" cy="1174.21" r="3.9"/>
<circle cx="1130" cy="1285.98" r="3.9"/>
<circle cx="1198.01" cy="1242.73" r="3.9"/>
<circle cx="1181.15" cy="1243" r="3.9"/>
<circle cx="1074.28" cy="1223.03" r="3.9"/>
<circle cx="1077.22" cy="1223.89" r="3.9"/>
<circle cx="1165.03" cy="1240.26" r="3.9"/>
<circle cx="1161.56" cy="1255.38" r="3.9"/>
<circle cx="1187.5" cy="1291.31" r="3.9"/>
<circle cx="1094.99" cy="1268.56" r="3.9"/>
<circle cx="1101.15" cy="1200.81" r="3.9"/>
<circle cx="1167.3" cy="1306.6" r="3.9"/>
<circle cx="1129.97" cy="1242.26" r="3.9"/>
<circle cx="1140.04" cy="1268.43" r="3.9"/>
<circle cx="1099.07" cy="1347.09" r="3.9"/>
<circle cx="1183.48" cy="1229.37" r="3.9"/>
<circle cx="1125.58" cy="1249.31" r="3.9"/>
<circle cx="1102.28" cy="1215.41" r="3.9"/>
<circle cx="1205.89" cy="1281.48" r="3.9"/>
<circle cx="1174.03" cy="1193.43" r="3.9"/>
<circle cx="1244.27" cy="1310.14" r="3.9"/>
<circle cx="1140.62" cy="1217.64" r="3.9"/>
<circle cx="1082.88" cy="1307.43" r="3.9"/>
<circle cx="1080.33" cy="1286.74" r="3.9"/>
<circle cx="1189.94" cy="1166.38" r="3.9"/>
<circle cx="1240.16" cy="1292.05" r="3.9"/>
<circle cx="1062.58" cy="1228.18" r="3.9"/>
<circle cx="1114.81" cy="1223.13" r="3.9"/>
<circle cx="1115.88" cy="1147.88" r="3.9"/>
<circle cx="1117.8" cy="1358.5" r="3.9"/>
<circle cx="1069.18" cy="1280.23" r="3.9"/>
<circle cx="1048.76" cy="1333.39" r="3.9"/>
<circle cx="1141.65" cy="1242.84" r="3.9"/>
<circle cx="1160.46" cy="1227.91" r="3.9"/>
<circle cx="1056.99" cy="1313.46" r="3.9"/>
<circle cx="1120.75" cy="1278.23" r="3.9"/>
<circle cx="1150.89" cy="1232.02" r="3.9"/>
<circle cx="1153.41" cy="1339.33" r="3.9"/>
<circle cx="1117.03" cy="1234.89" r="3.9"/>
<circle cx="1263.24" cy="1213.56" r="3.9"/>
<circle cx="1205.37" cy="1271.57" r="3.9"/>
<circle cx="1038.3" cy="1313.13" r="3.9"/>
<circle cx="1101.56" cy="1214.11" r="3.9"/>
<circle cx="1033.31" cy="1314.49" r="3.9"/>
<circle cx="1162.65" cy="1270.19" r="3.9"/>
<circle cx="1113.58" cy="1234.91" r="3.9"/>
<circle cx="1076.29" cy="1263.43" r="3.9"/>
<circle cx="1073.76" cy="1281.54" r="3.9"/>
<circle cx="1129.07" cy="1223.23" r="3.9"/>
<circle cx="1117.62" cy="1234.93" r="3.9"/>
<circle cx="1130.08" cy="1290.47" r="3.9"/>
<circle cx="1140.08" cy="1284.28" r="3.9"/>
<circle cx="1039.86" cy="1288.33" r="3.9"/>
<circle cx="1145.48" cy="1290" r="3.9"/>
<circle cx="1042.82" cy="1312.95" r="3.9"/>
<circle cx="1196.39" cy="1227.55" r="3.9"/>
<circle cx="1125.14" cy="1289.96" r="3.9"/>
<circle cx="1143.86" cy="1292.35" r="3.9"/>
<circle cx="1134.29" cy="1271.47" r="3.9"/>
<circle cx="1087.48" cy="1276.95" r="3.9"/>
<circle cx="1198.95" cy="1225.17" r="3.9"/>
<circle cx="1121.1" cy="1246.34" r="3.9"/>
<circle cx="1173.43" cy="1205.27" r="3.9"/>
<circle cx="1180.18" cy="1198.26" r="3.9"/>
<circle cx="1072.4" cy="1301.89" r="3.9"/>
<circle cx="1137.45" cy="1277.04" r="3.9"/>
<circle cx="1188.51" cy="1219.81" r="3.9"/>
<circle cx="1154.58" cy="1211.09" r="3.9"/>
<circle cx="1199.28" cy="1265.38" r="3.9"/>
<circle cx="1159.71" cy="1261.74" r="3.9"/>
<circle cx="1087.31" cy="1269.46" r="3.9"/>
<circle cx="1157.8" cy="1252.6" r="3.9"/>
<circle cx="1137.1" cy="1197.25" r="3.9"/>
<circle cx="1140.24" cy="1228.05" r="3.9"/>
<circle cx="1071" cy="1285.13" r="3.9"/>
<circle cx="1176.98" cy="1242.32" r="3.9"/>
<circle cx="1075.91" cy="1244.78" r="3.9"/>
<circle cx="1122.05" cy="1152.7" r="3.9"/>
<circle cx="1140.21" cy="1293.5" r="3.9"/>
<circle cx="1113.25" cy="1249.73" r="3.9"/>
<circle cx="1140.29" cy="1278.32" r="3.9"/>
<circle cx="1190.24" cy="1239.82" r="3.9"/>
<circle cx="1092.56" cy="1260.64" r="3.9"/>
<circle cx="1140.29" cy="1336.48" r="3.9"/>
<circle cx="1112.79" cy="1223.01" r="3.9"/>
<circle cx="1082.68" cy="1186.21" r="3.9"/>
<circle cx="1148.39" cy="1192.1" r="3.9"/>
<circle cx="1062.78" cy="1200.97" r="3.9"/>
<circle cx="1069.11" cy="1320.86" r="3.9"/>
<circle cx="1058.52" cy="1213.8" r="3.9"/>
<circle cx="1140.09" cy="1245.04" r="3.9"/>
<circle cx="1153.99" cy="1290.97" r="3.9"/>
<circle cx="1129.86" cy="1203.5" r="3.9"/>
<circle cx="1123.55" cy="1293.08" r="3.9"/>
<circle cx="1098.4" cy="1210.92" r="3.9"/>
<circle cx="1190.7" cy="1218.69" r="3.9"/>
<circle cx="1107.92" cy="1276.75" r="3.9"/>
<circle cx="1186.75" cy="1253.22" r="3.9"/>
<circle cx="1112.08" cy="1307.01" r="3.9"/>
<circle cx="1247.89" cy="1279.93" r="3.9"/>
<circle cx="1167.17" cy="1195.17" r="3.9"/>
<circle cx="1109.97" cy="1241.29" r="3.9"/>
<circle cx="1219.41" cy="1246.08" r="3.9"/>
<circle cx="1052.18" cy="1313.97" r="3.9"/>
<circle cx="1282.58" cy="1193" r="3.9"/>
<circle cx="1245.5" cy="1260.37" r="3.9"/>
<circle cx="1235" cy="1179.58" r="3.9"/>
<circle cx="1218.88" cy="1215.56" r="3.9"/>
<circle cx="1255.01" cy="1293.51" r="3.9"/>
<circle cx="1216.85" cy="1269.12" r="3.9"/>
<circle cx="1212.19" cy="1306.51" r="3.9"/>
<circle cx="1271.09" cy="1247.78" r="3.9"/>
<circle cx="1230.87" cy="1212.77" r="3.9"/>
<circle cx="1216.12" cy="1310.22" r="3.9"/>
<circle cx="1225.19" cy="1242.51" r="3.9"/>
<circle cx="1290.66" cy="1263.77" r="3.9"/>
<circle cx="1240.71" cy="1227.44" r="3.9"/>
<circle cx="1200.9" cy="1219.8" r="3.9"/>
<circle cx="1264.69" cy="1258.98" r="3.9"/>
<circle cx="1265.08" cy="1196.28" r="3.9"/>
<circle cx="1241.45" cy="1303.9" r="3.9"/>
<circle cx="1228.99" cy="1269.81" r="3.9"/>
<circle cx="1193.48" cy="1310.66" r="3.9"/>
<circle cx="1248.14" cy="1201.59" r="3.9"/>
<circle cx="1197.63" cy="1247.9" r="3.9"/>
<circle cx="1241.79" cy="1179.88" r="3.9"/>
<circle cx="1291.13" cy="1301.71" r="3.9"/>
<circle cx="1231.61" cy="1183.48" r="3.9"/>
<circle cx="1273.17" cy="1240.1" r="3.9"/>
<circle cx="1260.22" cy="1241.66" r="3.9"/>
<circle cx="1210.53" cy="1290.09" r="3.9"/>
<circle cx="1289.78" cy="1202.25" r="3.9"/>
<circle cx="1290.69" cy="1122.48" r="3.9"/>
<circle cx="1186.91" cy="1132.91" r="3.9"/>
<circle cx="1091.21" cy="1139.17" r="3.9"/>
<circle cx="1147.8" cy="1139.69" r="3.9"/>
<circle cx="1168.14" cy="1139.95" r="3.9"/>
<circle cx="1143.36" cy="1147.51" r="3.9"/>
<circle cx="1123.29" cy="1149.86" r="3.9"/>
<circle cx="1290.17" cy="1185.32" r="3.9"/>
<circle cx="1240.63" cy="1346.21" r="3.9"/>
<circle cx="1160.83" cy="1343.34" r="3.9"/>
<circle cx="1085.22" cy="1363.42" r="3.9"/>
<circle cx="1124.33" cy="1355.59" r="3.9"/>
<circle cx="1286.26" cy="1296.66" r="3.9"/>
<circle cx="1280.52" cy="1269.8" r="3.9"/>
<circle cx="1278.96" cy="1243.73" r="3.9"/>
<circle cx="1258.62" cy="1271.89" r="3.9"/>
<circle cx="1264.88" cy="1240.08" r="3.9"/>
</g>
<line x1="1003.6" y1="1322.5" x2="1291.2" y2="1206.4" stroke="#912A91" stroke-width="5.4"/>
<circle cx="1000.7" cy="1319.4" r="3.6" fill="#1a1a1a"/>
<line x1="1003.6" y1="1104.7" x2="1003.6" y2="1362.5" stroke="#1c1c1c" stroke-width="1.8"/>
<line x1="1002.7" y1="1361.6" x2="1302.4" y2="1361.6" stroke="#1c1c1c" stroke-width="1.8"/>
<line x1="997" y1="1144.4" x2="1003.6" y2="1144.4" stroke="#333" stroke-width="1.6"/>
<line x1="997" y1="1282.6" x2="1003.6" y2="1282.6" stroke="#333" stroke-width="1.6"/>
<text x="993.5" y="1152.3" font-size="21.5" fill="#5b6669" text-anchor="end">20000</text>
<text x="993" y="1263.7" font-size="21.5" fill="#5b6669" text-anchor="end">10000</text>
<line x1="1026.5" y1="1361.6" x2="1026.5" y2="1368.5" stroke="#333" stroke-width="1.6"/>
<text x="1025.5" y="1386.4" font-size="21.5" fill="#5b6669" text-anchor="middle">2000</text>
<line x1="1098" y1="1361.6" x2="1098" y2="1368.5" stroke="#333" stroke-width="1.6"/>
<text x="1097" y="1386.4" font-size="21.5" fill="#5b6669" text-anchor="middle">3000</text>
<line x1="1169.4" y1="1361.6" x2="1169.4" y2="1368.5" stroke="#333" stroke-width="1.6"/>
<text x="1168.4" y="1386.4" font-size="21.5" fill="#5b6669" text-anchor="middle">4000</text>
<line x1="1240.9" y1="1361.6" x2="1240.9" y2="1368.5" stroke="#333" stroke-width="1.6"/>
<text x="1239.9" y="1386.4" font-size="21.5" fill="#5b6669" text-anchor="middle">5000</text>
<text x="1144.7" y="1419" font-size="25" fill="#1a1a1a" text-anchor="middle"><tspan font-style="italic">URI1</tspan> mRNA expression</text>
<text x="930.5" y="1224.7" font-size="25" fill="#1a1a1a" text-anchor="middle" transform="rotate(-90 930.5 1224.7)"><tspan font-style="italic">MYC</tspan> mRNA expression</text>
<text x="1159.3" y="1124.6" font-size="40" fill="#1a1a1a" text-anchor="middle" letter-spacing="1.6" stroke="#1a1a1a" stroke-width="0.5">***</text>
<text x="1010.4" y="1456" font-size="21.4" fill="#1a1a1a">R = 0.47</text>
<text x="1010.4" y="1482.9" font-size="21.4" fill="#1a1a1a">p=2.2·10<tspan font-size="19" dy="-9">-16</tspan></text>
<text x="1327" y="1057.5" font-size="41" fill="#1a1a1a" font-weight="bold">j</text>
<clipPath id="clipJ1"><rect x="1451.4" y="1070" width="330" height="263.8"/></clipPath>
<path d="M1451.4 1296.8 C1457.78 1294.92 1476.92 1289.41 1489.69 1285.51 C1502.45 1281.6 1515.21 1277.6 1527.98 1273.38 C1540.74 1269.15 1553.5 1264.93 1566.26 1260.17 C1579.03 1255.42 1591.79 1250.25 1604.55 1244.86 C1617.31 1239.47 1630.08 1233.67 1642.84 1227.84 C1655.6 1222 1668.36 1215.97 1681.12 1209.85 C1693.89 1203.72 1706.65 1197.44 1719.41 1191.07 C1732.17 1184.69 1751.32 1174.84 1757.7 1171.6 L1757.7 1207.6 C1751.32 1209.34 1732.17 1214.46 1719.41 1218.06 C1706.65 1221.66 1693.89 1225.36 1681.12 1229.2 C1668.36 1233.05 1655.6 1237 1642.84 1241.14 C1630.08 1245.28 1617.31 1249.45 1604.55 1254.04 C1591.79 1258.62 1579.03 1263.43 1566.26 1268.65 C1553.5 1273.87 1540.74 1279.62 1527.98 1285.37 C1515.21 1291.13 1502.45 1297.1 1489.69 1303.17 C1476.92 1309.24 1457.78 1318.69 1451.4 1321.8 Z" fill="#D1D2D4"/>
<g fill="#4a4b4d" fill-opacity="0.24" clip-path="url(#clipJ1)">
<circle cx="1533.35" cy="1311.8" r="3.9"/>
<circle cx="1528.95" cy="1335.36" r="3.9"/>
<circle cx="1549.52" cy="1325.74" r="3.9"/>
<circle cx="1490.23" cy="1314.91" r="3.9"/>
<circle cx="1549.77" cy="1328.92" r="3.9"/>
<circle cx="1594.4" cy="1323.05" r="3.9"/>
<circle cx="1549.6" cy="1333.3" r="3.9"/>
<circle cx="1535.87" cy="1326.18" r="3.9"/>
<circle cx="1567" cy="1327.06" r="3.9"/>
<circle cx="1507.51" cy="1317.93" r="3.9"/>
<circle cx="1529.95" cy="1322.52" r="3.9"/>
<circle cx="1536.82" cy="1329.8" r="3.9"/>
<circle cx="1485.85" cy="1324.37" r="3.9"/>
<circle cx="1572.94" cy="1326.87" r="3.9"/>
<circle cx="1571.09" cy="1317.57" r="3.9"/>
<circle cx="1523.54" cy="1302.22" r="3.9"/>
<circle cx="1551.39" cy="1324.62" r="3.9"/>
<circle cx="1568.36" cy="1326.45" r="3.9"/>
<circle cx="1513.08" cy="1318.2" r="3.9"/>
<circle cx="1480.69" cy="1324.31" r="3.9"/>
<circle cx="1512.5" cy="1317.75" r="3.9"/>
<circle cx="1534.58" cy="1318.03" r="3.9"/>
<circle cx="1567.25" cy="1299.54" r="3.9"/>
<circle cx="1526.31" cy="1298.12" r="3.9"/>
<circle cx="1506.73" cy="1317.99" r="3.9"/>
<circle cx="1481.15" cy="1321.65" r="3.9"/>
<circle cx="1529.04" cy="1310.65" r="3.9"/>
<circle cx="1532.88" cy="1318.42" r="3.9"/>
<circle cx="1518" cy="1319.24" r="3.9"/>
<circle cx="1585.49" cy="1336.31" r="3.9"/>
<circle cx="1560.91" cy="1311.7" r="3.9"/>
<circle cx="1555.28" cy="1322.57" r="3.9"/>
<circle cx="1521.44" cy="1315.53" r="3.9"/>
<circle cx="1522.23" cy="1322.83" r="3.9"/>
<circle cx="1560.03" cy="1303.05" r="3.9"/>
<circle cx="1566.89" cy="1312.47" r="3.9"/>
<circle cx="1517.03" cy="1317.75" r="3.9"/>
<circle cx="1479.28" cy="1320.89" r="3.9"/>
<circle cx="1526.11" cy="1317.15" r="3.9"/>
<circle cx="1537.77" cy="1319.37" r="3.9"/>
<circle cx="1537.97" cy="1317.22" r="3.9"/>
<circle cx="1501.54" cy="1325.48" r="3.9"/>
<circle cx="1537.02" cy="1316.04" r="3.9"/>
<circle cx="1522.42" cy="1334.13" r="3.9"/>
<circle cx="1540.12" cy="1321.86" r="3.9"/>
<circle cx="1594.91" cy="1322.63" r="3.9"/>
<circle cx="1529.29" cy="1329.41" r="3.9"/>
<circle cx="1516.99" cy="1307.69" r="3.9"/>
<circle cx="1504.01" cy="1319.63" r="3.9"/>
<circle cx="1532.75" cy="1315.73" r="3.9"/>
<circle cx="1509.14" cy="1314.13" r="3.9"/>
<circle cx="1520.86" cy="1328.63" r="3.9"/>
<circle cx="1539.73" cy="1330" r="3.9"/>
<circle cx="1530.75" cy="1319.91" r="3.9"/>
<circle cx="1533.47" cy="1322.11" r="3.9"/>
<circle cx="1549.78" cy="1311.96" r="3.9"/>
<circle cx="1505" cy="1305.52" r="3.9"/>
<circle cx="1502.85" cy="1325.61" r="3.9"/>
<circle cx="1483.22" cy="1320.16" r="3.9"/>
<circle cx="1527.97" cy="1313.49" r="3.9"/>
<circle cx="1539.72" cy="1311.05" r="3.9"/>
<circle cx="1525.51" cy="1336.6" r="3.9"/>
<circle cx="1563.89" cy="1306.77" r="3.9"/>
<circle cx="1498.51" cy="1336.46" r="3.9"/>
<circle cx="1480.17" cy="1321.17" r="3.9"/>
<circle cx="1532.45" cy="1308.75" r="3.9"/>
<circle cx="1497.82" cy="1318.94" r="3.9"/>
<circle cx="1544.2" cy="1312.92" r="3.9"/>
<circle cx="1525.09" cy="1307.98" r="3.9"/>
<circle cx="1519.49" cy="1311.95" r="3.9"/>
<circle cx="1562.46" cy="1325.39" r="3.9"/>
<circle cx="1541.91" cy="1325.68" r="3.9"/>
<circle cx="1527.6" cy="1316.47" r="3.9"/>
<circle cx="1557.22" cy="1313.01" r="3.9"/>
<circle cx="1487.19" cy="1314.27" r="3.9"/>
<circle cx="1531.36" cy="1319.82" r="3.9"/>
<circle cx="1519.09" cy="1307.79" r="3.9"/>
<circle cx="1492.82" cy="1306.71" r="3.9"/>
<circle cx="1523.71" cy="1324.3" r="3.9"/>
<circle cx="1535.48" cy="1318.58" r="3.9"/>
<circle cx="1487.26" cy="1317.98" r="3.9"/>
<circle cx="1537.21" cy="1318.14" r="3.9"/>
<circle cx="1522.55" cy="1315.8" r="3.9"/>
<circle cx="1488.89" cy="1322.65" r="3.9"/>
<circle cx="1530.89" cy="1316.97" r="3.9"/>
<circle cx="1525.72" cy="1314.23" r="3.9"/>
<circle cx="1532.41" cy="1316.36" r="3.9"/>
<circle cx="1532.88" cy="1319.24" r="3.9"/>
<circle cx="1527.36" cy="1316.78" r="3.9"/>
<circle cx="1536.83" cy="1303.73" r="3.9"/>
<circle cx="1650.77" cy="1128.88" r="3.9"/>
<circle cx="1518.89" cy="1214.86" r="3.9"/>
<circle cx="1508.09" cy="1266.08" r="3.9"/>
<circle cx="1661.32" cy="1252.16" r="3.9"/>
<circle cx="1652.04" cy="1227.31" r="3.9"/>
<circle cx="1585.05" cy="1226.56" r="3.9"/>
<circle cx="1519.5" cy="1287.38" r="3.9"/>
<circle cx="1599.62" cy="1208.45" r="3.9"/>
<circle cx="1555.4" cy="1272.92" r="3.9"/>
<circle cx="1527.21" cy="1323.22" r="3.9"/>
<circle cx="1556.48" cy="1255.55" r="3.9"/>
<circle cx="1579.68" cy="1226.72" r="3.9"/>
<circle cx="1562.41" cy="1330.47" r="3.9"/>
<circle cx="1547.63" cy="1327.67" r="3.9"/>
<circle cx="1618.48" cy="1295.21" r="3.9"/>
<circle cx="1602.19" cy="1216.98" r="3.9"/>
<circle cx="1567.25" cy="1289.32" r="3.9"/>
<circle cx="1641.56" cy="1293.5" r="3.9"/>
<circle cx="1628.78" cy="1188.27" r="3.9"/>
<circle cx="1545.56" cy="1283.84" r="3.9"/>
<circle cx="1504.01" cy="1295.52" r="3.9"/>
<circle cx="1586.58" cy="1283.88" r="3.9"/>
<circle cx="1642.93" cy="1235.94" r="3.9"/>
<circle cx="1530.22" cy="1304.58" r="3.9"/>
<circle cx="1525.53" cy="1229.45" r="3.9"/>
<circle cx="1669.61" cy="1163.59" r="3.9"/>
<circle cx="1551.83" cy="1188.94" r="3.9"/>
<circle cx="1528.29" cy="1263.22" r="3.9"/>
<circle cx="1701.62" cy="1160.2" r="3.9"/>
<circle cx="1503.56" cy="1320.58" r="3.9"/>
<circle cx="1672.2" cy="1232.19" r="3.9"/>
<circle cx="1653.57" cy="1212.83" r="3.9"/>
<circle cx="1654.99" cy="1176.9" r="3.9"/>
<circle cx="1616.75" cy="1246.02" r="3.9"/>
<circle cx="1548.97" cy="1215.82" r="3.9"/>
<circle cx="1628.4" cy="1205.13" r="3.9"/>
<circle cx="1632.44" cy="1278.68" r="3.9"/>
<circle cx="1623.18" cy="1225.52" r="3.9"/>
<circle cx="1543.68" cy="1273.15" r="3.9"/>
<circle cx="1576.89" cy="1275.1" r="3.9"/>
<circle cx="1631.39" cy="1217.9" r="3.9"/>
<circle cx="1602.14" cy="1220.71" r="3.9"/>
<circle cx="1581.41" cy="1261.73" r="3.9"/>
<circle cx="1532.94" cy="1245.48" r="3.9"/>
<circle cx="1557.09" cy="1279.5" r="3.9"/>
<circle cx="1582.89" cy="1246.68" r="3.9"/>
<circle cx="1655.61" cy="1206.63" r="3.9"/>
<circle cx="1545.34" cy="1238.63" r="3.9"/>
<circle cx="1607.77" cy="1248.6" r="3.9"/>
<circle cx="1582.77" cy="1202.24" r="3.9"/>
<circle cx="1580.37" cy="1315.58" r="3.9"/>
<circle cx="1642.16" cy="1192.8" r="3.9"/>
<circle cx="1515" cy="1275.02" r="3.9"/>
<circle cx="1603.78" cy="1239.93" r="3.9"/>
<circle cx="1552.86" cy="1214.57" r="3.9"/>
<circle cx="1585.73" cy="1227.47" r="3.9"/>
<circle cx="1643.37" cy="1159.13" r="3.9"/>
<circle cx="1663.83" cy="1245.06" r="3.9"/>
<circle cx="1626.12" cy="1255.92" r="3.9"/>
<circle cx="1533.28" cy="1218.5" r="3.9"/>
<circle cx="1549.03" cy="1273.95" r="3.9"/>
<circle cx="1530.97" cy="1261.71" r="3.9"/>
<circle cx="1547.76" cy="1302.44" r="3.9"/>
<circle cx="1537.73" cy="1284.38" r="3.9"/>
<circle cx="1643.29" cy="1272.27" r="3.9"/>
<circle cx="1687.72" cy="1194.9" r="3.9"/>
<circle cx="1560.72" cy="1312.33" r="3.9"/>
<circle cx="1590.28" cy="1219.43" r="3.9"/>
<circle cx="1598.68" cy="1236.86" r="3.9"/>
<circle cx="1667.52" cy="1212.07" r="3.9"/>
<circle cx="1605.06" cy="1184.32" r="3.9"/>
<circle cx="1629.59" cy="1198.19" r="3.9"/>
<circle cx="1627.17" cy="1257.11" r="3.9"/>
<circle cx="1589" cy="1117.78" r="3.9"/>
<circle cx="1602.67" cy="1303.35" r="3.9"/>
<circle cx="1602.98" cy="1209.02" r="3.9"/>
<circle cx="1602.41" cy="1329.53" r="3.9"/>
<circle cx="1633.01" cy="1266.08" r="3.9"/>
<circle cx="1535.52" cy="1243.25" r="3.9"/>
<circle cx="1658.08" cy="1210.61" r="3.9"/>
<circle cx="1561.01" cy="1281.32" r="3.9"/>
<circle cx="1600.93" cy="1235.69" r="3.9"/>
<circle cx="1649.64" cy="1235.64" r="3.9"/>
<circle cx="1608.61" cy="1212.36" r="3.9"/>
<circle cx="1567.79" cy="1266.35" r="3.9"/>
<circle cx="1610.19" cy="1229.6" r="3.9"/>
<circle cx="1657.45" cy="1213.32" r="3.9"/>
<circle cx="1630.69" cy="1272.53" r="3.9"/>
<circle cx="1629.97" cy="1231.35" r="3.9"/>
<circle cx="1603.86" cy="1137.28" r="3.9"/>
<circle cx="1679.19" cy="1179.35" r="3.9"/>
<circle cx="1619.23" cy="1231.78" r="3.9"/>
<circle cx="1541.65" cy="1157.5" r="3.9"/>
<circle cx="1582.88" cy="1255.32" r="3.9"/>
<circle cx="1577.25" cy="1308.35" r="3.9"/>
<circle cx="1511.82" cy="1323.26" r="3.9"/>
<circle cx="1596.39" cy="1256.19" r="3.9"/>
<circle cx="1497.01" cy="1170.87" r="3.9"/>
<circle cx="1503.88" cy="1293.93" r="3.9"/>
<circle cx="1571.22" cy="1192.19" r="3.9"/>
<circle cx="1597.27" cy="1239.67" r="3.9"/>
<circle cx="1574.83" cy="1210.83" r="3.9"/>
<circle cx="1685.06" cy="1295.36" r="3.9"/>
<circle cx="1636.02" cy="1152.87" r="3.9"/>
<circle cx="1629.67" cy="1222.44" r="3.9"/>
<circle cx="1486.09" cy="1235.99" r="3.9"/>
<circle cx="1506.66" cy="1266.02" r="3.9"/>
<circle cx="1663.08" cy="1269.09" r="3.9"/>
<circle cx="1663.56" cy="1235.01" r="3.9"/>
<circle cx="1643.48" cy="1240.43" r="3.9"/>
<circle cx="1630.02" cy="1262.81" r="3.9"/>
<circle cx="1655.25" cy="1281.09" r="3.9"/>
<circle cx="1492.22" cy="1277.01" r="3.9"/>
<circle cx="1628.11" cy="1169.88" r="3.9"/>
<circle cx="1535.74" cy="1239.41" r="3.9"/>
<circle cx="1601.32" cy="1199.31" r="3.9"/>
<circle cx="1549.52" cy="1301.82" r="3.9"/>
<circle cx="1633.44" cy="1242.32" r="3.9"/>
<circle cx="1550.48" cy="1235.83" r="3.9"/>
<circle cx="1569.36" cy="1271.07" r="3.9"/>
<circle cx="1662.3" cy="1305.93" r="3.9"/>
<circle cx="1610.65" cy="1203.36" r="3.9"/>
<circle cx="1659.96" cy="1195.82" r="3.9"/>
<circle cx="1592.95" cy="1225.21" r="3.9"/>
<circle cx="1656.13" cy="1214.61" r="3.9"/>
<circle cx="1607.54" cy="1260.56" r="3.9"/>
<circle cx="1595.71" cy="1252.42" r="3.9"/>
<circle cx="1610.96" cy="1162.41" r="3.9"/>
<circle cx="1587.58" cy="1294.18" r="3.9"/>
<circle cx="1630.08" cy="1220.45" r="3.9"/>
<circle cx="1683.06" cy="1166.62" r="3.9"/>
<circle cx="1537.91" cy="1301.88" r="3.9"/>
<circle cx="1546.94" cy="1295.57" r="3.9"/>
<circle cx="1567.6" cy="1193.62" r="3.9"/>
<circle cx="1623.28" cy="1240.12" r="3.9"/>
<circle cx="1566.88" cy="1316.94" r="3.9"/>
<circle cx="1640.78" cy="1090.47" r="3.9"/>
<circle cx="1604.54" cy="1229.09" r="3.9"/>
<circle cx="1596.58" cy="1218.03" r="3.9"/>
<circle cx="1571.99" cy="1268.44" r="3.9"/>
<circle cx="1655.22" cy="1237.58" r="3.9"/>
<circle cx="1628.7" cy="1211.77" r="3.9"/>
<circle cx="1682.78" cy="1231.57" r="3.9"/>
<circle cx="1588.64" cy="1274.05" r="3.9"/>
<circle cx="1629.22" cy="1333" r="3.9"/>
<circle cx="1649.81" cy="1198.42" r="3.9"/>
<circle cx="1503.19" cy="1297.72" r="3.9"/>
<circle cx="1560.85" cy="1303.93" r="3.9"/>
<circle cx="1609.96" cy="1176.96" r="3.9"/>
<circle cx="1652.04" cy="1190.12" r="3.9"/>
<circle cx="1645.3" cy="1152.65" r="3.9"/>
<circle cx="1600.17" cy="1317.69" r="3.9"/>
<circle cx="1560.2" cy="1255.43" r="3.9"/>
<circle cx="1604.42" cy="1294.81" r="3.9"/>
<circle cx="1607.99" cy="1242.81" r="3.9"/>
<circle cx="1734.86" cy="1172.4" r="3.9"/>
<circle cx="1525" cy="1316.57" r="3.9"/>
<circle cx="1587.51" cy="1267.93" r="3.9"/>
<circle cx="1688.73" cy="1225.97" r="3.9"/>
<circle cx="1602.53" cy="1305.2" r="3.9"/>
<circle cx="1591.35" cy="1259.71" r="3.9"/>
<circle cx="1541.75" cy="1305.14" r="3.9"/>
<circle cx="1662.68" cy="1212.62" r="3.9"/>
<circle cx="1652.4" cy="1221.34" r="3.9"/>
<circle cx="1632.95" cy="1189.65" r="3.9"/>
<circle cx="1725.51" cy="1217.52" r="3.9"/>
<circle cx="1563.28" cy="1206.28" r="3.9"/>
<circle cx="1586.1" cy="1257.64" r="3.9"/>
<circle cx="1607.14" cy="1235.85" r="3.9"/>
<circle cx="1673.41" cy="1273.58" r="3.9"/>
<circle cx="1578.3" cy="1299.71" r="3.9"/>
<circle cx="1583.59" cy="1308.97" r="3.9"/>
<circle cx="1606.13" cy="1206.13" r="3.9"/>
<circle cx="1644.52" cy="1277.04" r="3.9"/>
<circle cx="1650.44" cy="1249.72" r="3.9"/>
<circle cx="1497.43" cy="1329.16" r="3.9"/>
<circle cx="1633.5" cy="1314.88" r="3.9"/>
<circle cx="1487.17" cy="1264.44" r="3.9"/>
<circle cx="1617.69" cy="1190.55" r="3.9"/>
<circle cx="1587.48" cy="1229.51" r="3.9"/>
<circle cx="1594.32" cy="1219.29" r="3.9"/>
<circle cx="1559.85" cy="1254.81" r="3.9"/>
<circle cx="1650.2" cy="1215.29" r="3.9"/>
<circle cx="1553.89" cy="1220.44" r="3.9"/>
<circle cx="1578.73" cy="1228.99" r="3.9"/>
<circle cx="1601.73" cy="1202.59" r="3.9"/>
<circle cx="1506.56" cy="1199.54" r="3.9"/>
<circle cx="1538.42" cy="1206.68" r="3.9"/>
<circle cx="1526.18" cy="1281.62" r="3.9"/>
<circle cx="1650.55" cy="1202.83" r="3.9"/>
<circle cx="1643.15" cy="1243.42" r="3.9"/>
<circle cx="1582.48" cy="1257.89" r="3.9"/>
<circle cx="1656.19" cy="1264.3" r="3.9"/>
<circle cx="1658.94" cy="1328.12" r="3.9"/>
<circle cx="1630.15" cy="1266.47" r="3.9"/>
<circle cx="1641.81" cy="1259.97" r="3.9"/>
<circle cx="1674.91" cy="1225.37" r="3.9"/>
<circle cx="1611.82" cy="1263.04" r="3.9"/>
<circle cx="1575.64" cy="1277.87" r="3.9"/>
<circle cx="1554.86" cy="1334.16" r="3.9"/>
<circle cx="1544.18" cy="1211.87" r="3.9"/>
<circle cx="1531.78" cy="1290.4" r="3.9"/>
<circle cx="1573.64" cy="1238.55" r="3.9"/>
<circle cx="1620.21" cy="1248.53" r="3.9"/>
<circle cx="1658.78" cy="1236.3" r="3.9"/>
<circle cx="1647.99" cy="1259.98" r="3.9"/>
<circle cx="1553.6" cy="1252.17" r="3.9"/>
<circle cx="1561.04" cy="1214.15" r="3.9"/>
<circle cx="1563.54" cy="1316.82" r="3.9"/>
<circle cx="1666.42" cy="1237.23" r="3.9"/>
<circle cx="1661.55" cy="1328.42" r="3.9"/>
<circle cx="1524.62" cy="1259.12" r="3.9"/>
<circle cx="1598.57" cy="1269.51" r="3.9"/>
<circle cx="1623.4" cy="1277.98" r="3.9"/>
<circle cx="1649.63" cy="1319.48" r="3.9"/>
<circle cx="1574.61" cy="1307.28" r="3.9"/>
<circle cx="1550.98" cy="1299.14" r="3.9"/>
<circle cx="1632.38" cy="1302.59" r="3.9"/>
<circle cx="1632.02" cy="1184.62" r="3.9"/>
<circle cx="1604.77" cy="1329.04" r="3.9"/>
<circle cx="1681.98" cy="1234.4" r="3.9"/>
<circle cx="1557.52" cy="1278.13" r="3.9"/>
<circle cx="1616.21" cy="1241.29" r="3.9"/>
<circle cx="1555.81" cy="1329.86" r="3.9"/>
<circle cx="1690.11" cy="1237.92" r="3.9"/>
<circle cx="1630.25" cy="1238.67" r="3.9"/>
<circle cx="1605.67" cy="1237.93" r="3.9"/>
<circle cx="1617.24" cy="1222.7" r="3.9"/>
<circle cx="1556.15" cy="1293.59" r="3.9"/>
<circle cx="1544.53" cy="1216.21" r="3.9"/>
<circle cx="1549.19" cy="1145.83" r="3.9"/>
<circle cx="1630.15" cy="1310.76" r="3.9"/>
<circle cx="1627.5" cy="1244.27" r="3.9"/>
<circle cx="1710.51" cy="1251.27" r="3.9"/>
<circle cx="1721.81" cy="1175.99" r="3.9"/>
<circle cx="1691.25" cy="1104.52" r="3.9"/>
<circle cx="1558.2" cy="1095.34" r="3.9"/>
<circle cx="1722.71" cy="1123.51" r="3.9"/>
<circle cx="1625.63" cy="1163.26" r="3.9"/>
<circle cx="1577.06" cy="1113.13" r="3.9"/>
<circle cx="1617.14" cy="1204.56" r="3.9"/>
<circle cx="1640.18" cy="1251.27" r="3.9"/>
<circle cx="1728.29" cy="1215.25" r="3.9"/>
<circle cx="1645.01" cy="1124.45" r="3.9"/>
<circle cx="1601.54" cy="1157.28" r="3.9"/>
<circle cx="1684.65" cy="1111.38" r="3.9"/>
<circle cx="1626.1" cy="1138.05" r="3.9"/>
<circle cx="1732.36" cy="1123.72" r="3.9"/>
<circle cx="1651.75" cy="1159.89" r="3.9"/>
<circle cx="1657.76" cy="1085.27" r="3.9"/>
<circle cx="1703.16" cy="1152.31" r="3.9"/>
<circle cx="1606.61" cy="1230.19" r="3.9"/>
<circle cx="1742.05" cy="1222.21" r="3.9"/>
<circle cx="1638.94" cy="1101.66" r="3.9"/>
<circle cx="1547.66" cy="1124.83" r="3.9"/>
<circle cx="1723.08" cy="1084.31" r="3.9"/>
<circle cx="1711.99" cy="1164.02" r="3.9"/>
<circle cx="1701.11" cy="1197.83" r="3.9"/>
<circle cx="1738.1" cy="1177.81" r="3.9"/>
<circle cx="1547.71" cy="1172.05" r="3.9"/>
<circle cx="1656.67" cy="1116.8" r="3.9"/>
<circle cx="1668.6" cy="1292.4" r="3.9"/>
<circle cx="1507.42" cy="1327.81" r="3.9"/>
<circle cx="1591.4" cy="1226.47" r="3.9"/>
<circle cx="1741" cy="1238.46" r="3.9"/>
<circle cx="1744.83" cy="1266.66" r="3.9"/>
<circle cx="1732.14" cy="1274.82" r="3.9"/>
<circle cx="1635.18" cy="1138.97" r="3.9"/>
<circle cx="1667.69" cy="1291.16" r="3.9"/>
<circle cx="1520.12" cy="1283.75" r="3.9"/>
<circle cx="1611.07" cy="1132.27" r="3.9"/>
<circle cx="1531.29" cy="1270.1" r="3.9"/>
<circle cx="1614.61" cy="1089.02" r="3.9"/>
<circle cx="1566.07" cy="1091.37" r="3.9"/>
<circle cx="1577.23" cy="1120.28" r="3.9"/>
<circle cx="1611.81" cy="1099.68" r="3.9"/>
<circle cx="1508.51" cy="1250.09" r="3.9"/>
<circle cx="1744.89" cy="1262.48" r="3.9"/>
<circle cx="1537.1" cy="1323.39" r="3.9"/>
<circle cx="1718.21" cy="1319.76" r="3.9"/>
<circle cx="1603.74" cy="1212.02" r="3.9"/>
<circle cx="1659.73" cy="1331.69" r="3.9"/>
<circle cx="1745.55" cy="1161.76" r="3.9"/>
<circle cx="1511.89" cy="1229.63" r="3.9"/>
<circle cx="1696.86" cy="1097.52" r="3.9"/>
</g>
<line x1="1451.4" y1="1309.3" x2="1757.7" y2="1189.6" stroke="#912A91" stroke-width="4.9"/>
<circle cx="1450.4" cy="1222" r="3.6" fill="#1a1a1a"/>
<line x1="1451.4" y1="1078.6" x2="1451.4" y2="1334.7" stroke="#1c1c1c" stroke-width="1.8"/>
<line x1="1450.5" y1="1333.8" x2="1767.6" y2="1333.8" stroke="#1c1c1c" stroke-width="1.8"/>
<line x1="1446" y1="1115.9" x2="1451.4" y2="1115.9" stroke="#333" stroke-width="1.6"/>
<text x="1444" y="1124.1" font-size="21.9" fill="#5b6669" text-anchor="end">20000</text>
<line x1="1446" y1="1171" x2="1451.4" y2="1171" stroke="#333" stroke-width="1.6"/>
<text x="1444" y="1179.2" font-size="21.9" fill="#5b6669" text-anchor="end">15000</text>
<line x1="1446" y1="1226" x2="1451.4" y2="1226" stroke="#333" stroke-width="1.6"/>
<text x="1444" y="1234.2" font-size="21.9" fill="#5b6669" text-anchor="end">10000</text>
<line x1="1446" y1="1281.5" x2="1451.4" y2="1281.5" stroke="#333" stroke-width="1.6"/>
<text x="1444" y="1289.7" font-size="21.9" fill="#5b6669" text-anchor="end">5000</text>
<line x1="1476.3" y1="1333.8" x2="1476.3" y2="1338.5" stroke="#333" stroke-width="1.6"/>
<line x1="1552.4" y1="1333.8" x2="1552.4" y2="1338.5" stroke="#333" stroke-width="1.6"/>
<line x1="1628.5" y1="1333.8" x2="1628.5" y2="1338.5" stroke="#333" stroke-width="1.6"/>
<line x1="1704.6" y1="1333.8" x2="1704.6" y2="1338.5" stroke="#333" stroke-width="1.6"/>
<text x="1348.5" y="1200.3" font-size="25" fill="#1a1a1a" text-anchor="middle" font-style="italic" transform="rotate(-90 1348.5 1200.3)">AXIN2</text>
<text x="1378.5" y="1200.3" font-size="25.3" fill="#1a1a1a" text-anchor="middle" transform="rotate(-90 1378.5 1200.3)">mRNA expression</text>
<text x="1787.4" y="1164.5" font-size="40" fill="#1a1a1a" letter-spacing="1.6" stroke="#1a1a1a" stroke-width="0.5">***</text>
<text x="1790.6" y="1181.7" font-size="21.3" fill="#1a1a1a">R = 0.46</text>
<text x="1790.6" y="1207" font-size="21.3" fill="#1a1a1a">p=2.2·10<tspan font-size="19.5" dy="-7.5">-16</tspan></text>
<clipPath id="clipJ2"><rect x="1453.7" y="1341" width="330" height="268.2"/></clipPath>
<path d="M1453.7 1515.9 C1460.09 1515.47 1479.27 1514.33 1492.05 1513.33 C1504.83 1512.34 1517.62 1511.24 1530.4 1509.93 C1543.18 1508.61 1555.97 1507.27 1568.75 1505.45 C1581.53 1503.63 1594.32 1501.37 1607.1 1498.99 C1619.88 1496.6 1632.67 1493.88 1645.45 1491.13 C1658.23 1488.38 1671.02 1485.49 1683.8 1482.51 C1696.58 1479.54 1709.37 1476.45 1722.15 1473.28 C1734.93 1470.11 1754.11 1465.13 1760.5 1463.5 L1760.5 1493.5 C1754.11 1493.95 1734.93 1495.21 1722.15 1496.2 C1709.37 1497.19 1696.58 1498.25 1683.8 1499.44 C1671.02 1500.62 1658.23 1501.88 1645.45 1503.3 C1632.67 1504.71 1619.88 1506.14 1607.1 1507.91 C1594.32 1509.68 1581.53 1511.59 1568.75 1513.93 C1555.97 1516.26 1543.18 1519.08 1530.4 1521.92 C1517.62 1524.77 1504.83 1527.83 1492.05 1530.99 C1479.27 1534.15 1460.09 1539.25 1453.7 1540.9 Z" fill="#D1D2D4"/>
<g fill="#4a4b4d" fill-opacity="0.24" clip-path="url(#clipJ2)">
<circle cx="1606.99" cy="1489.88" r="3.9"/>
<circle cx="1541.09" cy="1430.47" r="3.9"/>
<circle cx="1639.26" cy="1492.31" r="3.9"/>
<circle cx="1553.39" cy="1509.25" r="3.9"/>
<circle cx="1535.1" cy="1389.84" r="3.9"/>
<circle cx="1595.84" cy="1500.92" r="3.9"/>
<circle cx="1738.61" cy="1598.55" r="3.9"/>
<circle cx="1685.94" cy="1459.99" r="3.9"/>
<circle cx="1592.74" cy="1452.9" r="3.9"/>
<circle cx="1483.66" cy="1440.37" r="3.9"/>
<circle cx="1522.15" cy="1529.2" r="3.9"/>
<circle cx="1570.19" cy="1560.8" r="3.9"/>
<circle cx="1543.93" cy="1492.33" r="3.9"/>
<circle cx="1614.92" cy="1529.77" r="3.9"/>
<circle cx="1612.66" cy="1521.87" r="3.9"/>
<circle cx="1483.6" cy="1556.21" r="3.9"/>
<circle cx="1505.06" cy="1560.71" r="3.9"/>
<circle cx="1501.71" cy="1516.01" r="3.9"/>
<circle cx="1619.73" cy="1488.94" r="3.9"/>
<circle cx="1553.07" cy="1475.46" r="3.9"/>
<circle cx="1548.44" cy="1573.53" r="3.9"/>
<circle cx="1601.58" cy="1503.02" r="3.9"/>
<circle cx="1615.01" cy="1552.27" r="3.9"/>
<circle cx="1588.68" cy="1531.81" r="3.9"/>
<circle cx="1544.65" cy="1413.58" r="3.9"/>
<circle cx="1520.47" cy="1451.54" r="3.9"/>
<circle cx="1551.93" cy="1603.9" r="3.9"/>
<circle cx="1559.67" cy="1538.67" r="3.9"/>
<circle cx="1551.1" cy="1490.65" r="3.9"/>
<circle cx="1618.56" cy="1457.98" r="3.9"/>
<circle cx="1652.36" cy="1446.78" r="3.9"/>
<circle cx="1625.65" cy="1495.3" r="3.9"/>
<circle cx="1585.7" cy="1573.14" r="3.9"/>
<circle cx="1590.11" cy="1568.56" r="3.9"/>
<circle cx="1583.14" cy="1579.74" r="3.9"/>
<circle cx="1625.13" cy="1395.85" r="3.9"/>
<circle cx="1576.17" cy="1475.03" r="3.9"/>
<circle cx="1565.53" cy="1488.56" r="3.9"/>
<circle cx="1557.55" cy="1473.29" r="3.9"/>
<circle cx="1586.06" cy="1486.56" r="3.9"/>
<circle cx="1614.48" cy="1466.63" r="3.9"/>
<circle cx="1750.18" cy="1471.52" r="3.9"/>
<circle cx="1577.5" cy="1598.16" r="3.9"/>
<circle cx="1496.2" cy="1548.4" r="3.9"/>
<circle cx="1603.39" cy="1497.22" r="3.9"/>
<circle cx="1730.32" cy="1459.2" r="3.9"/>
<circle cx="1498.28" cy="1464.96" r="3.9"/>
<circle cx="1634.66" cy="1457.77" r="3.9"/>
<circle cx="1699.65" cy="1508.37" r="3.9"/>
<circle cx="1629.12" cy="1454.61" r="3.9"/>
<circle cx="1571.56" cy="1496.06" r="3.9"/>
<circle cx="1654.7" cy="1473.03" r="3.9"/>
<circle cx="1613.06" cy="1538.93" r="3.9"/>
<circle cx="1581.9" cy="1554.12" r="3.9"/>
<circle cx="1488.8" cy="1546.07" r="3.9"/>
<circle cx="1598.23" cy="1484.38" r="3.9"/>
<circle cx="1483.42" cy="1480" r="3.9"/>
<circle cx="1553.34" cy="1547.84" r="3.9"/>
<circle cx="1655.62" cy="1525.47" r="3.9"/>
<circle cx="1652.28" cy="1549.85" r="3.9"/>
<circle cx="1746.34" cy="1502.88" r="3.9"/>
<circle cx="1560.65" cy="1483.23" r="3.9"/>
<circle cx="1533.26" cy="1504.87" r="3.9"/>
<circle cx="1629.12" cy="1441.39" r="3.9"/>
<circle cx="1562.59" cy="1445.05" r="3.9"/>
<circle cx="1753.69" cy="1517.4" r="3.9"/>
<circle cx="1664.72" cy="1556.01" r="3.9"/>
<circle cx="1594.71" cy="1586.58" r="3.9"/>
<circle cx="1626.84" cy="1475.87" r="3.9"/>
<circle cx="1558.59" cy="1602.47" r="3.9"/>
<circle cx="1519.79" cy="1527.52" r="3.9"/>
<circle cx="1486.76" cy="1480.51" r="3.9"/>
<circle cx="1582.26" cy="1506.66" r="3.9"/>
<circle cx="1523.62" cy="1486.21" r="3.9"/>
<circle cx="1528.06" cy="1560.78" r="3.9"/>
<circle cx="1668.8" cy="1533.1" r="3.9"/>
<circle cx="1541.54" cy="1581.3" r="3.9"/>
<circle cx="1575.43" cy="1549.6" r="3.9"/>
<circle cx="1710.64" cy="1487.21" r="3.9"/>
<circle cx="1540.24" cy="1478.9" r="3.9"/>
<circle cx="1643.17" cy="1550.02" r="3.9"/>
<circle cx="1674.09" cy="1496.23" r="3.9"/>
<circle cx="1663.84" cy="1508.02" r="3.9"/>
<circle cx="1531.85" cy="1540.41" r="3.9"/>
<circle cx="1637.18" cy="1514.51" r="3.9"/>
<circle cx="1622.94" cy="1527.25" r="3.9"/>
<circle cx="1588.01" cy="1466.6" r="3.9"/>
<circle cx="1621.98" cy="1461.62" r="3.9"/>
<circle cx="1619.45" cy="1500.51" r="3.9"/>
<circle cx="1552.25" cy="1501.79" r="3.9"/>
<circle cx="1573.18" cy="1478.85" r="3.9"/>
<circle cx="1490.57" cy="1590.63" r="3.9"/>
<circle cx="1583.89" cy="1556.05" r="3.9"/>
<circle cx="1662.64" cy="1550.04" r="3.9"/>
<circle cx="1524.31" cy="1499.84" r="3.9"/>
<circle cx="1532.44" cy="1454.75" r="3.9"/>
<circle cx="1694.4" cy="1412.37" r="3.9"/>
<circle cx="1519.05" cy="1462.87" r="3.9"/>
<circle cx="1587.41" cy="1506.92" r="3.9"/>
<circle cx="1636.27" cy="1550.55" r="3.9"/>
<circle cx="1633.41" cy="1433.39" r="3.9"/>
<circle cx="1550.82" cy="1540.41" r="3.9"/>
<circle cx="1600.31" cy="1497.01" r="3.9"/>
<circle cx="1699.47" cy="1468.98" r="3.9"/>
<circle cx="1646.7" cy="1579.1" r="3.9"/>
<circle cx="1532.85" cy="1474.3" r="3.9"/>
<circle cx="1714.44" cy="1586.92" r="3.9"/>
<circle cx="1658.25" cy="1529.77" r="3.9"/>
<circle cx="1614.54" cy="1518.96" r="3.9"/>
<circle cx="1573.49" cy="1441.88" r="3.9"/>
<circle cx="1569.23" cy="1507.66" r="3.9"/>
<circle cx="1633.62" cy="1430.48" r="3.9"/>
<circle cx="1649.58" cy="1501.36" r="3.9"/>
<circle cx="1537.62" cy="1486.87" r="3.9"/>
<circle cx="1551.06" cy="1523.72" r="3.9"/>
<circle cx="1591.63" cy="1465.27" r="3.9"/>
<circle cx="1641.22" cy="1468.6" r="3.9"/>
<circle cx="1609.12" cy="1495.99" r="3.9"/>
<circle cx="1603.34" cy="1586.72" r="3.9"/>
<circle cx="1594.05" cy="1527.53" r="3.9"/>
<circle cx="1498.17" cy="1574.37" r="3.9"/>
<circle cx="1554.75" cy="1434.42" r="3.9"/>
<circle cx="1506.08" cy="1513.62" r="3.9"/>
<circle cx="1564.99" cy="1557.48" r="3.9"/>
<circle cx="1568.61" cy="1572.89" r="3.9"/>
<circle cx="1673.76" cy="1459.95" r="3.9"/>
<circle cx="1627.68" cy="1480.39" r="3.9"/>
<circle cx="1522.49" cy="1506.13" r="3.9"/>
<circle cx="1622.86" cy="1474.31" r="3.9"/>
<circle cx="1545.99" cy="1507.73" r="3.9"/>
<circle cx="1730.67" cy="1492.4" r="3.9"/>
<circle cx="1562.05" cy="1544.59" r="3.9"/>
<circle cx="1609.29" cy="1487.33" r="3.9"/>
<circle cx="1595.46" cy="1520.4" r="3.9"/>
<circle cx="1546.72" cy="1484.08" r="3.9"/>
<circle cx="1616.38" cy="1453.92" r="3.9"/>
<circle cx="1560.57" cy="1486.14" r="3.9"/>
<circle cx="1552.7" cy="1430.55" r="3.9"/>
<circle cx="1495.99" cy="1551.9" r="3.9"/>
<circle cx="1572.26" cy="1525.75" r="3.9"/>
<circle cx="1584.94" cy="1536.79" r="3.9"/>
<circle cx="1541.93" cy="1477.59" r="3.9"/>
<circle cx="1590.66" cy="1441.19" r="3.9"/>
<circle cx="1553.2" cy="1494.88" r="3.9"/>
<circle cx="1522.64" cy="1496.38" r="3.9"/>
<circle cx="1555.88" cy="1419.26" r="3.9"/>
<circle cx="1553.85" cy="1476.9" r="3.9"/>
<circle cx="1664.55" cy="1525.8" r="3.9"/>
<circle cx="1593.37" cy="1509.51" r="3.9"/>
<circle cx="1570.86" cy="1454.49" r="3.9"/>
<circle cx="1551.9" cy="1527.76" r="3.9"/>
<circle cx="1500.21" cy="1505.36" r="3.9"/>
<circle cx="1612.06" cy="1508.37" r="3.9"/>
<circle cx="1582.31" cy="1557.8" r="3.9"/>
<circle cx="1716.31" cy="1395.58" r="3.9"/>
<circle cx="1705.71" cy="1521.1" r="3.9"/>
<circle cx="1594.86" cy="1564.97" r="3.9"/>
<circle cx="1606.41" cy="1453.32" r="3.9"/>
<circle cx="1565.25" cy="1426.55" r="3.9"/>
<circle cx="1568.97" cy="1542.89" r="3.9"/>
<circle cx="1685.25" cy="1482.84" r="3.9"/>
<circle cx="1588.94" cy="1524.25" r="3.9"/>
<circle cx="1495.18" cy="1539.13" r="3.9"/>
<circle cx="1599.56" cy="1484.3" r="3.9"/>
<circle cx="1613.06" cy="1476.05" r="3.9"/>
<circle cx="1524.41" cy="1523.38" r="3.9"/>
<circle cx="1561.87" cy="1497.43" r="3.9"/>
<circle cx="1672.87" cy="1546.96" r="3.9"/>
<circle cx="1551.8" cy="1566.48" r="3.9"/>
<circle cx="1563.21" cy="1581.95" r="3.9"/>
<circle cx="1608.55" cy="1509.86" r="3.9"/>
<circle cx="1579.14" cy="1566.36" r="3.9"/>
<circle cx="1518.5" cy="1458.21" r="3.9"/>
<circle cx="1606.76" cy="1541.37" r="3.9"/>
<circle cx="1653.36" cy="1414.71" r="3.9"/>
<circle cx="1561.22" cy="1483.85" r="3.9"/>
<circle cx="1606.7" cy="1483.75" r="3.9"/>
<circle cx="1651.37" cy="1565.77" r="3.9"/>
<circle cx="1666.21" cy="1441.53" r="3.9"/>
<circle cx="1591.91" cy="1463.62" r="3.9"/>
<circle cx="1486.39" cy="1574.03" r="3.9"/>
<circle cx="1559.41" cy="1524.91" r="3.9"/>
<circle cx="1576.73" cy="1529.69" r="3.9"/>
<circle cx="1564.32" cy="1542.42" r="3.9"/>
<circle cx="1565.36" cy="1528.48" r="3.9"/>
<circle cx="1614.34" cy="1495.96" r="3.9"/>
<circle cx="1519.32" cy="1607.82" r="3.9"/>
<circle cx="1511.31" cy="1497.02" r="3.9"/>
<circle cx="1552.97" cy="1385.06" r="3.9"/>
<circle cx="1561.47" cy="1569.29" r="3.9"/>
<circle cx="1553.93" cy="1514.29" r="3.9"/>
<circle cx="1555.77" cy="1517.16" r="3.9"/>
<circle cx="1589.97" cy="1482.84" r="3.9"/>
<circle cx="1542.1" cy="1536.43" r="3.9"/>
<circle cx="1556.35" cy="1487.04" r="3.9"/>
<circle cx="1623.78" cy="1507.52" r="3.9"/>
<circle cx="1555.27" cy="1527.98" r="3.9"/>
<circle cx="1628.89" cy="1523.54" r="3.9"/>
<circle cx="1637.45" cy="1568.6" r="3.9"/>
<circle cx="1679.97" cy="1484.38" r="3.9"/>
<circle cx="1596.41" cy="1532.51" r="3.9"/>
<circle cx="1717.32" cy="1489.26" r="3.9"/>
<circle cx="1483.94" cy="1522.39" r="3.9"/>
<circle cx="1686.87" cy="1473.59" r="3.9"/>
<circle cx="1519.65" cy="1471.25" r="3.9"/>
<circle cx="1541.75" cy="1553.74" r="3.9"/>
<circle cx="1498.94" cy="1548.42" r="3.9"/>
<circle cx="1577.13" cy="1494.64" r="3.9"/>
<circle cx="1623.72" cy="1434.47" r="3.9"/>
<circle cx="1530.32" cy="1522.72" r="3.9"/>
<circle cx="1600.04" cy="1544.96" r="3.9"/>
<circle cx="1514.12" cy="1482.71" r="3.9"/>
<circle cx="1523.48" cy="1560.81" r="3.9"/>
<circle cx="1634.77" cy="1400.83" r="3.9"/>
<circle cx="1637.34" cy="1495.92" r="3.9"/>
<circle cx="1622.44" cy="1472.79" r="3.9"/>
<circle cx="1559.74" cy="1511.3" r="3.9"/>
<circle cx="1544.27" cy="1445.9" r="3.9"/>
<circle cx="1569.53" cy="1407.31" r="3.9"/>
<circle cx="1603.15" cy="1519.6" r="3.9"/>
<circle cx="1512.75" cy="1484.01" r="3.9"/>
<circle cx="1580.49" cy="1552.12" r="3.9"/>
<circle cx="1501.1" cy="1565.72" r="3.9"/>
<circle cx="1528.67" cy="1517.87" r="3.9"/>
<circle cx="1593.48" cy="1519.69" r="3.9"/>
<circle cx="1544.46" cy="1490.23" r="3.9"/>
<circle cx="1549.01" cy="1525.69" r="3.9"/>
<circle cx="1518.52" cy="1487" r="3.9"/>
<circle cx="1608.13" cy="1545.99" r="3.9"/>
<circle cx="1543.92" cy="1447.97" r="3.9"/>
<circle cx="1626.78" cy="1486.25" r="3.9"/>
<circle cx="1575.55" cy="1455.3" r="3.9"/>
<circle cx="1606.11" cy="1500.82" r="3.9"/>
<circle cx="1554.86" cy="1569.18" r="3.9"/>
<circle cx="1624.11" cy="1481.51" r="3.9"/>
<circle cx="1666.58" cy="1569.79" r="3.9"/>
<circle cx="1580.3" cy="1510.46" r="3.9"/>
<circle cx="1481.14" cy="1533.08" r="3.9"/>
<circle cx="1556.49" cy="1435.53" r="3.9"/>
<circle cx="1672.29" cy="1458.71" r="3.9"/>
<circle cx="1533.58" cy="1387.54" r="3.9"/>
<circle cx="1604.55" cy="1472.5" r="3.9"/>
<circle cx="1684.62" cy="1522.75" r="3.9"/>
<circle cx="1510.2" cy="1504.8" r="3.9"/>
<circle cx="1606.23" cy="1478.38" r="3.9"/>
<circle cx="1549.39" cy="1518.92" r="3.9"/>
<circle cx="1514.95" cy="1477.72" r="3.9"/>
<circle cx="1622.8" cy="1580.66" r="3.9"/>
<circle cx="1585.09" cy="1522.7" r="3.9"/>
<circle cx="1554.79" cy="1590.98" r="3.9"/>
<circle cx="1594.83" cy="1455.3" r="3.9"/>
<circle cx="1578.06" cy="1471.73" r="3.9"/>
<circle cx="1589.63" cy="1538.18" r="3.9"/>
<circle cx="1572.89" cy="1442.75" r="3.9"/>
<circle cx="1575.48" cy="1441.75" r="3.9"/>
<circle cx="1558.19" cy="1581.02" r="3.9"/>
<circle cx="1584.29" cy="1476.09" r="3.9"/>
<circle cx="1509.88" cy="1535.97" r="3.9"/>
<circle cx="1579.18" cy="1372.64" r="3.9"/>
<circle cx="1583.91" cy="1520.69" r="3.9"/>
<circle cx="1616.44" cy="1514.46" r="3.9"/>
<circle cx="1623.64" cy="1485.03" r="3.9"/>
<circle cx="1572.93" cy="1560.37" r="3.9"/>
<circle cx="1568.22" cy="1481.51" r="3.9"/>
<circle cx="1549.03" cy="1576.5" r="3.9"/>
<circle cx="1524.01" cy="1585.52" r="3.9"/>
<circle cx="1528.5" cy="1517.45" r="3.9"/>
<circle cx="1595.74" cy="1511.75" r="3.9"/>
<circle cx="1527.94" cy="1483.18" r="3.9"/>
<circle cx="1508.53" cy="1505.65" r="3.9"/>
<circle cx="1648.38" cy="1487.42" r="3.9"/>
<circle cx="1563.83" cy="1561.56" r="3.9"/>
<circle cx="1513.16" cy="1491" r="3.9"/>
<circle cx="1547.65" cy="1515.04" r="3.9"/>
<circle cx="1614.22" cy="1445.23" r="3.9"/>
<circle cx="1629.42" cy="1486.96" r="3.9"/>
<circle cx="1657.38" cy="1571.41" r="3.9"/>
<circle cx="1643" cy="1508.69" r="3.9"/>
<circle cx="1557.2" cy="1470.84" r="3.9"/>
<circle cx="1579.89" cy="1539.73" r="3.9"/>
<circle cx="1555.46" cy="1446.59" r="3.9"/>
<circle cx="1603.77" cy="1501.36" r="3.9"/>
<circle cx="1609.54" cy="1580.73" r="3.9"/>
<circle cx="1638.79" cy="1524.9" r="3.9"/>
<circle cx="1672.61" cy="1506.67" r="3.9"/>
<circle cx="1590.07" cy="1527.34" r="3.9"/>
<circle cx="1648.58" cy="1535.39" r="3.9"/>
<circle cx="1609.67" cy="1434.99" r="3.9"/>
<circle cx="1630.38" cy="1480.63" r="3.9"/>
<circle cx="1591.2" cy="1572.82" r="3.9"/>
<circle cx="1635.82" cy="1458.23" r="3.9"/>
<circle cx="1587.38" cy="1558.18" r="3.9"/>
<circle cx="1529.04" cy="1439.26" r="3.9"/>
<circle cx="1580.74" cy="1466.67" r="3.9"/>
<circle cx="1571.9" cy="1439.09" r="3.9"/>
<circle cx="1559.78" cy="1542.01" r="3.9"/>
<circle cx="1510.1" cy="1484.06" r="3.9"/>
<circle cx="1677.53" cy="1473.98" r="3.9"/>
<circle cx="1674.97" cy="1556.88" r="3.9"/>
<circle cx="1524.42" cy="1581.08" r="3.9"/>
<circle cx="1621.97" cy="1555.26" r="3.9"/>
<circle cx="1635.6" cy="1417.89" r="3.9"/>
<circle cx="1695.57" cy="1597.98" r="3.9"/>
<circle cx="1524.73" cy="1502.59" r="3.9"/>
<circle cx="1653.45" cy="1533.41" r="3.9"/>
<circle cx="1539.25" cy="1520.74" r="3.9"/>
<circle cx="1559.4" cy="1558.41" r="3.9"/>
<circle cx="1677.78" cy="1374.2" r="3.9"/>
<circle cx="1726.99" cy="1499.31" r="3.9"/>
<circle cx="1639.34" cy="1401.63" r="3.9"/>
<circle cx="1607.37" cy="1460.01" r="3.9"/>
<circle cx="1526.98" cy="1369.44" r="3.9"/>
<circle cx="1594.1" cy="1389.43" r="3.9"/>
<circle cx="1689.43" cy="1482.37" r="3.9"/>
<circle cx="1713.7" cy="1504.06" r="3.9"/>
<circle cx="1601.65" cy="1518.47" r="3.9"/>
<circle cx="1485.87" cy="1463.99" r="3.9"/>
<circle cx="1719.68" cy="1504.22" r="3.9"/>
<circle cx="1598.91" cy="1588.87" r="3.9"/>
<circle cx="1680.08" cy="1465.51" r="3.9"/>
<circle cx="1721.34" cy="1444.98" r="3.9"/>
<circle cx="1660.54" cy="1570.01" r="3.9"/>
<circle cx="1737.61" cy="1374.07" r="3.9"/>
<circle cx="1592.15" cy="1394.01" r="3.9"/>
<circle cx="1608.81" cy="1497.59" r="3.9"/>
<circle cx="1557.77" cy="1503.71" r="3.9"/>
<circle cx="1710.01" cy="1507.49" r="3.9"/>
<circle cx="1534.42" cy="1432.36" r="3.9"/>
<circle cx="1617.06" cy="1401.8" r="3.9"/>
<circle cx="1637.42" cy="1480.76" r="3.9"/>
<circle cx="1681.41" cy="1378.84" r="3.9"/>
<circle cx="1573.64" cy="1459.03" r="3.9"/>
<circle cx="1713.9" cy="1402.57" r="3.9"/>
<circle cx="1510.76" cy="1480.14" r="3.9"/>
<circle cx="1717.14" cy="1458.81" r="3.9"/>
<circle cx="1643.09" cy="1453.34" r="3.9"/>
<circle cx="1549.8" cy="1466.56" r="3.9"/>
<circle cx="1598.4" cy="1465.51" r="3.9"/>
<circle cx="1558.27" cy="1480.74" r="3.9"/>
<circle cx="1547.15" cy="1593.58" r="3.9"/>
<circle cx="1727.03" cy="1460" r="3.9"/>
<circle cx="1701.57" cy="1419.91" r="3.9"/>
<circle cx="1585.16" cy="1574.28" r="3.9"/>
<circle cx="1696.7" cy="1604.05" r="3.9"/>
<circle cx="1653.25" cy="1376.17" r="3.9"/>
<circle cx="1658.62" cy="1439.63" r="3.9"/>
<circle cx="1575.06" cy="1399.04" r="3.9"/>
<circle cx="1747.46" cy="1500.95" r="3.9"/>
<circle cx="1704" cy="1501.9" r="3.9"/>
<circle cx="1716.94" cy="1469.47" r="3.9"/>
<circle cx="1485.54" cy="1375.12" r="3.9"/>
<circle cx="1596.02" cy="1580.19" r="3.9"/>
<circle cx="1736.6" cy="1464.39" r="3.9"/>
<circle cx="1509.28" cy="1370.52" r="3.9"/>
<circle cx="1687.18" cy="1567.13" r="3.9"/>
<circle cx="1653.82" cy="1432.48" r="3.9"/>
<circle cx="1719.97" cy="1535.42" r="3.9"/>
<circle cx="1737.94" cy="1582.45" r="3.9"/>
<circle cx="1633.09" cy="1406.45" r="3.9"/>
<circle cx="1679.6" cy="1410.97" r="3.9"/>
</g>
<line x1="1453.7" y1="1528.4" x2="1760.5" y2="1478.5" stroke="#912A91" stroke-width="4.9"/>
<circle cx="1453.7" cy="1514.5" r="3.6" fill="#1a1a1a"/>
<line x1="1453.7" y1="1341.8" x2="1453.7" y2="1610.1" stroke="#1c1c1c" stroke-width="1.8"/>
<line x1="1452.8" y1="1609.2" x2="1769.6" y2="1609.2" stroke="#1c1c1c" stroke-width="1.8"/>
<line x1="1448.3" y1="1382.6" x2="1453.7" y2="1382.6" stroke="#333" stroke-width="1.6"/>
<text x="1446" y="1391.4" font-size="21.9" fill="#5b6669" text-anchor="end">40000</text>
<line x1="1448.3" y1="1461" x2="1453.7" y2="1461" stroke="#333" stroke-width="1.6"/>
<text x="1446" y="1469.8" font-size="21.9" fill="#5b6669" text-anchor="end">30000</text>
<line x1="1448.3" y1="1539.1" x2="1453.7" y2="1539.1" stroke="#333" stroke-width="1.6"/>
<text x="1446" y="1547.9" font-size="21.9" fill="#5b6669" text-anchor="end">20000</text>
<line x1="1479.1" y1="1609.2" x2="1479.1" y2="1614" stroke="#333" stroke-width="1.6"/>
<text x="1478.6" y="1635" font-size="24.5" fill="#5b6669" text-anchor="middle">2000</text>
<line x1="1555.2" y1="1609.2" x2="1555.2" y2="1614" stroke="#333" stroke-width="1.6"/>
<text x="1554.7" y="1635" font-size="24.5" fill="#5b6669" text-anchor="middle">3000</text>
<line x1="1631.3" y1="1609.2" x2="1631.3" y2="1614" stroke="#333" stroke-width="1.6"/>
<text x="1630.8" y="1635" font-size="24.5" fill="#5b6669" text-anchor="middle">4000</text>
<line x1="1707.4" y1="1609.2" x2="1707.4" y2="1614" stroke="#333" stroke-width="1.6"/>
<text x="1706.9" y="1635" font-size="24.5" fill="#5b6669" text-anchor="middle">5000</text>
<text x="1602" y="1665.1" font-size="25.2" fill="#1a1a1a" text-anchor="middle"><tspan font-style="italic">URI1</tspan> mRNA expression</text>
<text x="1348.5" y="1473.3" font-size="25" fill="#1a1a1a" text-anchor="middle" font-style="italic" transform="rotate(-90 1348.5 1473.3)">CTNNB1</text>
<text x="1378.5" y="1473.7" font-size="25.3" fill="#1a1a1a" text-anchor="middle" transform="rotate(-90 1378.5 1473.7)">mRNA expression</text>
<text x="1787.4" y="1465.5" font-size="40" fill="#1a1a1a" letter-spacing="1.6" stroke="#1a1a1a" stroke-width="0.5">***</text>
<text x="1785.8" y="1485.6" font-size="21.3" fill="#1a1a1a">R = 0.19</text>
<text x="1785.8" y="1510.6" font-size="21.3" fill="#1a1a1a">p=0.00015</text>
<text x="23" y="1718.5" font-size="41" fill="#1a1a1a" font-weight="bold">k</text>
<path d="M113.24 1768.62 L114.39 2103.41 L121.44 2243.89 L105.03 2243.89 L112.09 2103.41 Z" fill="#D81B60" stroke="#2c3033" stroke-width="3.2" stroke-linejoin="round"/>
<line x1="113.24" y1="1769.28" x2="113.24" y2="2106.69" stroke="#2c3033" stroke-width="5.6"/>
<path d="M226.15 2195.97 C226.09 2197.5 225.6 2202.26 225.82 2205.16 C226.04 2208.06 226.58 2210.9 227.46 2213.36 C228.33 2215.83 230.58 2218.01 231.07 2219.93 C231.56 2221.84 231.45 2223.37 230.41 2224.85 C229.37 2226.33 228.23 2227.42 224.83 2228.79 C221.44 2230.16 215.81 2231.69 210.06 2233.06 C204.32 2234.43 196.93 2235.74 190.37 2237 C183.81 2238.25 175.71 2239.68 170.68 2240.61 C165.64 2241.54 162.14 2242.03 160.17 2242.58 C158.2 2243.12 159.08 2243.67 158.86 2243.89 L307.22 2243.89 C307 2243.67 307.87 2243.12 305.9 2242.58 C303.94 2242.03 300.43 2241.54 295.4 2240.61 C290.37 2239.68 282.27 2238.25 275.71 2237 C269.14 2235.74 261.76 2234.43 256.01 2233.06 C250.27 2231.69 244.64 2230.16 241.24 2228.79 C237.85 2227.42 236.7 2226.33 235.66 2224.85 C234.63 2223.37 234.52 2221.84 235.01 2219.93 C235.5 2218.01 237.74 2215.83 238.62 2213.36 C239.49 2210.9 240.04 2208.06 240.26 2205.16 C240.48 2202.26 239.99 2197.5 239.93 2195.97 Z" fill="#F7941D" stroke="#2c3033" stroke-width="3.2" stroke-linejoin="round"/>
<path d="M375.16 2066.65 C375.49 2067.3 376.14 2069.11 377.13 2070.59 C378.11 2072.06 379.84 2074.03 381.07 2075.51 C382.3 2076.99 383.89 2074.25 384.51 2079.45 C385.14 2084.65 384.76 2094.49 384.81 2106.69 C384.86 2118.89 384.94 2143.34 384.81 2152.64 C384.68 2161.94 384.97 2159.86 384.02 2162.49 C383.07 2165.12 380.52 2166.48 379.1 2168.4 C377.68 2170.31 375.49 2172.12 375.49 2173.98 C375.49 2175.84 377.68 2177.64 379.1 2179.56 C380.52 2181.47 383.07 2183.11 384.02 2185.46 C384.97 2187.82 384.7 2189.84 384.81 2193.67 C384.92 2197.5 385.41 2204.61 384.68 2208.44 C383.95 2212.27 383.09 2214.18 380.41 2216.65 C377.73 2219.11 373.03 2221.02 368.6 2223.21 C364.16 2225.4 358.75 2227.7 353.83 2229.78 C348.9 2231.85 343.16 2233.99 339.06 2235.68 C334.95 2237.38 331.56 2238.8 329.21 2239.95 C326.86 2241.1 325.76 2241.92 324.94 2242.58 C324.12 2243.23 324.39 2243.67 324.29 2243.89 L445.73 2243.89 C445.62 2243.67 445.89 2243.23 445.07 2242.58 C444.25 2241.92 443.16 2241.1 440.8 2239.95 C438.45 2238.8 435.06 2237.38 430.96 2235.68 C426.86 2233.99 421.11 2231.85 416.19 2229.78 C411.26 2227.7 405.85 2225.4 401.42 2223.21 C396.99 2221.02 392.28 2219.11 389.6 2216.65 C386.92 2214.18 386.07 2212.27 385.33 2208.44 C384.6 2204.61 385.09 2197.5 385.2 2193.67 C385.31 2189.84 385.04 2187.82 385.99 2185.46 C386.94 2183.11 389.49 2181.47 390.91 2179.56 C392.34 2177.64 394.53 2175.84 394.53 2173.98 C394.53 2172.12 392.34 2170.31 390.91 2168.4 C389.49 2166.48 386.94 2165.12 385.99 2162.49 C385.04 2159.86 385.33 2161.94 385.2 2152.64 C385.07 2143.34 385.15 2118.89 385.2 2106.69 C385.25 2094.49 384.88 2084.65 385.5 2079.45 C386.12 2074.25 387.71 2076.99 388.95 2075.51 C390.18 2074.03 391.9 2072.06 392.88 2070.59 C393.87 2069.11 394.53 2067.3 394.85 2066.65 Z" fill="#808285" stroke="#2c3033" stroke-width="3.2" stroke-linejoin="round"/>
<g fill="#34323a" fill-opacity="0.56">
<circle cx="99.45" cy="1769.61" r="5.6"/>
<circle cx="100.11" cy="1858.88" r="5.6"/>
<circle cx="128.34" cy="1938.64" r="5.6"/>
<circle cx="110.61" cy="1970.81" r="5.6"/>
<circle cx="126.69" cy="2034.81" r="5.6"/>
<circle cx="100.11" cy="2055.16" r="5.6"/>
<circle cx="123.41" cy="2075.84" r="5.6"/>
<circle cx="100.44" cy="2081.42" r="5.6"/>
<circle cx="127.68" cy="2134.59" r="5.6"/>
<circle cx="124.07" cy="2173.98" r="5.6"/>
<circle cx="107.33" cy="2207.46" r="5.6"/>
<circle cx="117.5" cy="2214.35" r="5.6"/>
<circle cx="96.83" cy="2243.89" r="5.6"/>
<circle cx="99.45" cy="2243.89" r="5.6"/>
<circle cx="102.41" cy="2243.89" r="5.6"/>
<circle cx="105.03" cy="2243.89" r="5.6"/>
<circle cx="113.24" cy="2243.89" r="5.6"/>
<circle cx="125.38" cy="2243.89" r="5.6"/>
<circle cx="95.84" cy="2243.89" r="5.6"/>
<circle cx="97.81" cy="2243.89" r="5.6"/>
<circle cx="98.8" cy="2243.89" r="5.6"/>
<circle cx="100.44" cy="2243.89" r="5.6"/>
<circle cx="101.42" cy="2243.89" r="5.6"/>
<circle cx="103.39" cy="2243.89" r="5.6"/>
<circle cx="104.38" cy="2243.89" r="5.6"/>
<circle cx="97.15" cy="2243.89" r="5.6"/>
<circle cx="99.78" cy="2243.89" r="5.6"/>
<circle cx="101.75" cy="2243.89" r="5.6"/>
<circle cx="105.69" cy="2243.89" r="5.6"/>
<circle cx="111.6" cy="2243.89" r="5.6"/>
<circle cx="114.22" cy="2243.89" r="5.6"/>
<circle cx="234.02" cy="2195.97" r="5.6"/>
<circle cx="240.26" cy="2209.43" r="5.6"/>
<circle cx="216.63" cy="2243.89" r="5.6"/>
<circle cx="219.91" cy="2243.89" r="5.6"/>
<circle cx="226.47" cy="2243.89" r="5.6"/>
<circle cx="233.04" cy="2243.89" r="5.6"/>
<circle cx="242.89" cy="2243.89" r="5.6"/>
<circle cx="217.61" cy="2243.89" r="5.6"/>
<circle cx="218.93" cy="2243.89" r="5.6"/>
<circle cx="220.89" cy="2243.89" r="5.6"/>
<circle cx="223.19" cy="2243.89" r="5.6"/>
<circle cx="225.16" cy="2243.89" r="5.6"/>
<circle cx="218.27" cy="2243.89" r="5.6"/>
<circle cx="221.88" cy="2243.89" r="5.6"/>
<circle cx="227.13" cy="2243.89" r="5.6"/>
<circle cx="396.49" cy="2066.65" r="5.6"/>
<circle cx="389.27" cy="2173.65" r="5.6"/>
<circle cx="391.24" cy="2227.48" r="5.6"/>
<circle cx="401.09" cy="2237.32" r="5.6"/>
<circle cx="369.25" cy="2243.89" r="5.6"/>
<circle cx="372.53" cy="2243.89" r="5.6"/>
<circle cx="382.38" cy="2243.89" r="5.6"/>
<circle cx="397.15" cy="2243.89" r="5.6"/>
<circle cx="370.24" cy="2243.89" r="5.6"/>
<circle cx="371.55" cy="2243.89" r="5.6"/>
<circle cx="370.89" cy="2243.89" r="5.6"/>
<circle cx="397.81" cy="2243.89" r="5.6"/>
</g>
<line x1="72.9" y1="1771.9" x2="72.9" y2="2267.3" stroke="#2a2e30" stroke-width="1.7"/>
<line x1="72" y1="2266.5" x2="471.3" y2="2266.5" stroke="#2a2e30" stroke-width="1.7"/>
<line x1="66.5" y1="1777.5" x2="72.9" y2="1777.5" stroke="#333" stroke-width="1.6"/>
<text x="65.5" y="1785.5" font-size="21.4" fill="#5b6669" text-anchor="end">4</text>
<line x1="66.5" y1="1881.2" x2="72.9" y2="1881.2" stroke="#333" stroke-width="1.6"/>
<text x="65.5" y="1889.2" font-size="21.4" fill="#5b6669" text-anchor="end">3</text>
<line x1="66.5" y1="1985.2" x2="72.9" y2="1985.2" stroke="#333" stroke-width="1.6"/>
<text x="65.5" y="1993.2" font-size="21.4" fill="#5b6669" text-anchor="end">2</text>
<line x1="66.5" y1="2089.3" x2="72.9" y2="2089.3" stroke="#333" stroke-width="1.6"/>
<text x="65.5" y="2097.3" font-size="21.4" fill="#5b6669" text-anchor="end">1</text>
<line x1="66.5" y1="2192.7" x2="72.9" y2="2192.7" stroke="#333" stroke-width="1.6"/>
<text x="65.5" y="2200.7" font-size="21.4" fill="#5b6669" text-anchor="end">0</text>
<line x1="113.2" y1="2266.5" x2="113.2" y2="2273.5" stroke="#333" stroke-width="1.6"/>
<line x1="232.7" y1="2266.5" x2="232.7" y2="2273.5" stroke="#333" stroke-width="1.6"/>
<line x1="388.3" y1="2266.5" x2="388.3" y2="2273.5" stroke="#333" stroke-width="1.6"/>
<text x="114.5" y="2292.1" font-size="21.4" fill="#5b6669" text-anchor="middle">Adenoma</text>
<text x="232" y="2292.1" font-size="21.4" fill="#5b6669" text-anchor="middle">Serrated</text>
<text x="231.5" y="2318.4" font-size="21.4" fill="#5b6669" text-anchor="middle">dysplasia</text>
<text x="388" y="2292.1" font-size="21.4" fill="#5b6669" text-anchor="middle">Unclassified</text>
<text x="235" y="2357.8" font-size="25.2" fill="#1a1a1a" text-anchor="middle">Polyp type</text>
<text x="44" y="1999" font-size="25.2" fill="#1a1a1a" text-anchor="middle" transform="rotate(-90 44 1999)"><tspan font-style="italic">URI1</tspan> mRNA expression</text>
<line x1="113.2" y1="1744.3" x2="231.4" y2="1744.3" stroke="#222" stroke-width="1.8"/>
<text x="173.1" y="1749.1" font-size="40" fill="#1a1a1a" text-anchor="middle" letter-spacing="1.6" stroke="#1a1a1a" stroke-width="0.5">*</text>
<text x="171.7" y="1710.2" font-size="21.6" fill="#1a1a1a" text-anchor="middle">p=0.01</text>
<text x="467.5" y="1718.5" font-size="41" fill="#1a1a1a" font-weight="bold">l</text>
<rect x="500.8" y="1701.7" width="517.8" height="24.7" fill="#ffffff" stroke="#2a2a2a" stroke-width="1.2"/>
<text x="759.9" y="1721.6" font-size="21" fill="#5b6669" text-anchor="middle">H&amp;E</text>
<rect x="503.4" y="2036.1" width="517.2" height="25.3" fill="#ffffff" stroke="#2a2a2a" stroke-width="1.2"/>
<text x="761.8" y="2055.8" font-size="21" fill="#5b6669" text-anchor="middle">URI</text>
<defs><filter id="grainHE" x="0" y="0" width="100%" height="100%"><feTurbulence type="fractalNoise" baseFrequency="0.55" numOctaves="2" seed="3" result="n"/><feColorMatrix in="n" type="matrix" values="0 0 0 0 1  0 0 0 0 0.85  0 0 0 0 0.95  0 0 0 2.2 -0.95"/></filter><filter id="grainURI" x="0" y="0" width="100%" height="100%"><feTurbulence type="fractalNoise" baseFrequency="0.6" numOctaves="2" seed="8" result="n"/><feColorMatrix in="n" type="matrix" values="0 0 0 0 0.70  0 0 0 0 0.55  0 0 0 0 0.38  0 0 0 1.3 -0.55"/></filter><filter id="soft" x="-5%" y="-5%" width="110%" height="110%"><feTurbulence type="fractalNoise" baseFrequency="0.035" numOctaves="2" seed="11" result="t"/><feDisplacementMap in="SourceGraphic" in2="t" scale="9" xChannelSelector="R" yChannelSelector="G" result="d"/><feGaussianBlur in="d" stdDeviation="1.2"/></filter><filter id="warp" x="-5%" y="-5%" width="110%" height="110%"><feTurbulence type="fractalNoise" baseFrequency="0.03" numOctaves="2" seed="4" result="t"/><feDisplacementMap in="SourceGraphic" in2="t" scale="10" xChannelSelector="R" yChannelSelector="G" result="d"/><feGaussianBlur in="d" stdDeviation="0.7"/></filter><pattern id="bubHE" width="22" height="19" patternUnits="userSpaceOnUse"><rect width="22" height="19" fill="#F6D2E4"/><circle cx="4" cy="4" r="3.6" fill="#F9F0F5"/><circle cx="12" cy="3" r="3.4" fill="#F9F0F5"/><circle cx="19" cy="5" r="3.2" fill="#F9F0F5"/><circle cx="7.5" cy="11" r="3.7" fill="#F9F0F5"/><circle cx="15.5" cy="11" r="3.6" fill="#F9F0F5"/><circle cx="1" cy="13" r="2.6" fill="#F9F0F5"/><circle cx="21.5" cy="13.5" r="2.4" fill="#F9F0F5"/><circle cx="4" cy="17.5" r="2.8" fill="#F9F0F5"/><circle cx="11.5" cy="17.5" r="3" fill="#F9F0F5"/><circle cx="18.5" cy="17.5" r="2.8" fill="#F9F0F5"/></pattern><pattern id="bubU" width="22" height="19" patternUnits="userSpaceOnUse"><rect width="22" height="19" fill="#ECE3DA"/><circle cx="4" cy="4" r="3.8" fill="#F5F5F5"/><circle cx="12" cy="3" r="3.6" fill="#F5F5F5"/><circle cx="19" cy="5" r="3.4" fill="#F5F5F5"/><circle cx="7.5" cy="11" r="3.9" fill="#F5F5F5"/><circle cx="15.5" cy="11" r="3.8" fill="#F5F5F5"/><circle cx="1" cy="13" r="2.8" fill="#F5F5F5"/><circle cx="21.5" cy="13.5" r="2.6" fill="#F5F5F5"/><circle cx="4" cy="17.5" r="3" fill="#F5F5F5"/><circle cx="11.5" cy="17.5" r="3.2" fill="#F5F5F5"/><circle cx="18.5" cy="17.5" r="3" fill="#F5F5F5"/></pattern><filter id="soft2"><feGaussianBlur stdDeviation="0.6"/></filter></defs>
<clipPath id="clipHE"><rect x="500.8" y="1732" width="521.4" height="293.2"/></clipPath>
<clipPath id="clipHEp"><path d="M915.5 1733 C910.4 1737.98 891.28 1752.82 884.9 1762.9 C878.52 1772.98 882.82 1782.8 877.2 1793.5 C871.58 1804.2 858.08 1817.92 851.2 1827.1 C844.32 1836.28 839.98 1842.22 835.9 1848.6 C831.82 1854.98 831.28 1861.58 826.7 1865.4 C822.12 1869.22 815.53 1868.95 808.4 1871.5 C801.27 1874.05 791.05 1876.37 783.9 1880.7 C776.75 1885.03 770.1 1890.62 765.5 1897.5 C760.9 1904.38 759.37 1912.8 756.3 1922 C753.23 1931.2 750.67 1941.47 747.1 1952.7 C743.53 1963.93 738.67 1978.18 734.9 1989.4 C731.13 2000.62 726.23 2014.9 724.5 2020 L720.5 2033.2 L495.8 2033.2 L495.8 1727 L918.5 1727 Z"/></clipPath>
<g clip-path="url(#clipHE)">
<rect x="500.8" y="1732" width="521.4" height="293.2" fill="#F3DDE9"/>
<g filter="url(#warp)">
<rect x="490.8" y="1722" width="541.4" height="313.2" fill="#F6CDE1"/>
<ellipse cx="954.65" cy="1815.17" rx="24.88" ry="28.31" transform="rotate(-35.34 954.65 1815.17)" fill="url(#bubHE)" stroke="#E57DB2" stroke-width="2.5"/>
<ellipse cx="852.13" cy="1948.61" rx="34.65" ry="35" transform="rotate(-11.35 852.13 1948.61)" fill="url(#bubHE)" stroke="#E57DB2" stroke-width="2.5"/>
<ellipse cx="798.99" cy="1979.63" rx="21.2" ry="28.71" transform="rotate(16.72 798.99 1979.63)" fill="url(#bubHE)" stroke="#E57DB2" stroke-width="2.5"/>
<ellipse cx="955.64" cy="2040.09" rx="24.79" ry="31.44" transform="rotate(-32.43 955.64 2040.09)" fill="url(#bubHE)" stroke="#E57DB2" stroke-width="2.5"/>
<ellipse cx="962.48" cy="1868.43" rx="21.62" ry="28.15" transform="rotate(-34.08 962.48 1868.43)" fill="url(#bubHE)" stroke="#E57DB2" stroke-width="2.5"/>
<ellipse cx="1000.93" cy="1764.95" rx="29.09" ry="35.57" transform="rotate(15.01 1000.93 1764.95)" fill="url(#bubHE)" stroke="#E57DB2" stroke-width="2.5"/>
<ellipse cx="998.84" cy="1989.77" rx="17.22" ry="20.96" transform="rotate(6.78 998.84 1989.77)" fill="url(#bubHE)" stroke="#E57DB2" stroke-width="2.5"/>
<ellipse cx="756.1" cy="1992.15" rx="23.24" ry="30.36" transform="rotate(27.18 756.1 1992.15)" fill="url(#bubHE)" stroke="#E57DB2" stroke-width="2.5"/>
<ellipse cx="794.3" cy="2038.61" rx="27.12" ry="35.47" transform="rotate(21.65 794.3 2038.61)" fill="url(#bubHE)" stroke="#E57DB2" stroke-width="2.5"/>
<ellipse cx="785.44" cy="1876.45" rx="24.87" ry="31.14" transform="rotate(-36.96 785.44 1876.45)" fill="url(#bubHE)" stroke="#E57DB2" stroke-width="2.5"/>
<ellipse cx="1022.88" cy="2039.93" rx="21.77" ry="29.29" transform="rotate(-3.27 1022.88 2039.93)" fill="url(#bubHE)" stroke="#E57DB2" stroke-width="2.5"/>
<ellipse cx="774.71" cy="1941.81" rx="25.62" ry="33.11" transform="rotate(17.55 774.71 1941.81)" fill="url(#bubHE)" stroke="#E57DB2" stroke-width="2.5"/>
<ellipse cx="868.59" cy="1802.2" rx="21.23" ry="24.5" transform="rotate(33.2 868.59 1802.2)" fill="url(#bubHE)" stroke="#E57DB2" stroke-width="2.5"/>
<ellipse cx="860.48" cy="2031.16" rx="24.91" ry="30.6" transform="rotate(-39.53 860.48 2031.16)" fill="url(#bubHE)" stroke="#E57DB2" stroke-width="2.5"/>
<ellipse cx="946.36" cy="1975.49" rx="22.13" ry="29.56" transform="rotate(-14.56 946.36 1975.49)" fill="url(#bubHE)" stroke="#E57DB2" stroke-width="2.5"/>
<ellipse cx="1020.3" cy="1892.87" rx="28.47" ry="34.4" transform="rotate(-12.56 1020.3 1892.87)" fill="url(#bubHE)" stroke="#E57DB2" stroke-width="2.5"/>
<ellipse cx="952.13" cy="1921.72" rx="34.94" ry="42.91" transform="rotate(-27.97 952.13 1921.72)" fill="url(#bubHE)" stroke="#E57DB2" stroke-width="2.5"/>
<ellipse cx="900.44" cy="1892.91" rx="26.56" ry="34.19" transform="rotate(25.12 900.44 1892.91)" fill="url(#bubHE)" stroke="#E57DB2" stroke-width="2.5"/>
<ellipse cx="836.93" cy="1867.7" rx="27.81" ry="34.75" transform="rotate(23.31 836.93 1867.7)" fill="url(#bubHE)" stroke="#E57DB2" stroke-width="2.5"/>
<ellipse cx="1019.65" cy="1841.54" rx="31.09" ry="40.16" transform="rotate(-34.98 1019.65 1841.54)" fill="url(#bubHE)" stroke="#E57DB2" stroke-width="2.5"/>
<ellipse cx="914.15" cy="1840.46" rx="22.04" ry="25.95" transform="rotate(-23.27 914.15 1840.46)" fill="url(#bubHE)" stroke="#E57DB2" stroke-width="2.5"/>
<ellipse cx="918.68" cy="1752.41" rx="18.22" ry="23.29" transform="rotate(28.55 918.68 1752.41)" fill="url(#bubHE)" stroke="#E57DB2" stroke-width="2.5"/>
<ellipse cx="1010.19" cy="1948.24" rx="33.26" ry="39.39" transform="rotate(-27.83 1010.19 1948.24)" fill="url(#bubHE)" stroke="#E57DB2" stroke-width="2.5"/>
<ellipse cx="1034.5" cy="1793.99" rx="21.65" ry="25.45" transform="rotate(31.55 1034.5 1793.99)" fill="url(#bubHE)" stroke="#E57DB2" stroke-width="2.5"/>
<ellipse cx="828.33" cy="1907.63" rx="20.8" ry="22.12" transform="rotate(-32.79 828.33 1907.63)" fill="url(#bubHE)" stroke="#E57DB2" stroke-width="2.5"/>
<ellipse cx="871.76" cy="1849.06" rx="19.43" ry="24.46" transform="rotate(27.01 871.76 1849.06)" fill="url(#bubHE)" stroke="#E57DB2" stroke-width="2.5"/>
<ellipse cx="726.41" cy="2027.69" rx="18.64" ry="25.05" transform="rotate(17.06 726.41 2027.69)" fill="url(#bubHE)" stroke="#E57DB2" stroke-width="2.5"/>
<ellipse cx="901.44" cy="1964.28" rx="28.48" ry="31.13" transform="rotate(20.83 901.44 1964.28)" fill="url(#bubHE)" stroke="#E57DB2" stroke-width="2.5"/>
<ellipse cx="944.74" cy="1720.63" rx="31.64" ry="41.44" transform="rotate(13.89 944.74 1720.63)" fill="url(#bubHE)" stroke="#E57DB2" stroke-width="2.5"/>
<ellipse cx="842.02" cy="1825.4" rx="20.14" ry="25.89" transform="rotate(-4.15 842.02 1825.4)" fill="url(#bubHE)" stroke="#E57DB2" stroke-width="2.5"/>
<ellipse cx="1041.44" cy="1727.49" rx="30.07" ry="34.38" transform="rotate(10.83 1041.44 1727.49)" fill="url(#bubHE)" stroke="#E57DB2" stroke-width="2.5"/>
<ellipse cx="898.01" cy="2023.62" rx="20.17" ry="25.83" transform="rotate(6.24 898.01 2023.62)" fill="url(#bubHE)" stroke="#E57DB2" stroke-width="2.5"/>
<ellipse cx="920.16" cy="1795.46" rx="17.02" ry="22.98" transform="rotate(-34.53 920.16 1795.46)" fill="url(#bubHE)" stroke="#E57DB2" stroke-width="2.5"/>
<ellipse cx="1039.04" cy="1995.37" rx="21.73" ry="27.25" transform="rotate(10.15 1039.04 1995.37)" fill="url(#bubHE)" stroke="#E57DB2" stroke-width="2.5"/>
<ellipse cx="757.45" cy="1901.18" rx="22.77" ry="25.61" transform="rotate(-35.18 757.45 1901.18)" fill="url(#bubHE)" stroke="#E57DB2" stroke-width="2.5"/>
<ellipse cx="954.85" cy="1765.07" rx="21.48" ry="22.57" transform="rotate(-29.88 954.85 1765.07)" fill="url(#bubHE)" stroke="#E57DB2" stroke-width="2.5"/>
<ellipse cx="839.43" cy="1992.3" rx="19.76" ry="24.17" transform="rotate(21.86 839.43 1992.3)" fill="url(#bubHE)" stroke="#E57DB2" stroke-width="2.5"/>
<ellipse cx="882.32" cy="1758.2" rx="23.5" ry="27.98" transform="rotate(4.24 882.32 1758.2)" fill="url(#bubHE)" stroke="#E57DB2" stroke-width="2.5"/>
<ellipse cx="736.8" cy="1943.68" rx="21.29" ry="26.29" transform="rotate(-33.44 736.8 1943.68)" fill="url(#bubHE)" stroke="#E57DB2" stroke-width="2.5"/>
<ellipse cx="1000.4" cy="1722.86" rx="21.06" ry="22.95" transform="rotate(1.98 1000.4 1722.86)" fill="url(#bubHE)" stroke="#E57DB2" stroke-width="2.5"/>
</g>
<g clip-path="url(#clipHEp)">
<rect x="490.8" y="1722" width="541.4" height="313.2" fill="#ECA8CE"/>
<g filter="url(#soft)">
<line x1="546.63" y1="1738.37" x2="535.92" y2="1811.84" stroke="#DB8CBE" stroke-width="32.63" stroke-linecap="round"/>
<line x1="508.37" y1="1781.22" x2="503.78" y2="1854.69" stroke="#DB8CBE" stroke-width="31.84" stroke-linecap="round"/>
<line x1="542.04" y1="1873.06" x2="531.33" y2="1940.41" stroke="#DB8CBE" stroke-width="33.43" stroke-linecap="round"/>
<line x1="587.96" y1="1857.75" x2="574.18" y2="1912.86" stroke="#DB8CBE" stroke-width="31.84" stroke-linecap="round"/>
<line x1="612.45" y1="1909.79" x2="580.31" y2="1974.08" stroke="#DB8CBE" stroke-width="32.63" stroke-linecap="round"/>
<line x1="652.24" y1="1747.55" x2="636.94" y2="1808.77" stroke="#DB8CBE" stroke-width="33.43" stroke-linecap="round"/>
<line x1="692.04" y1="1738.37" x2="682.86" y2="1811.84" stroke="#DB8CBE" stroke-width="27.86" stroke-linecap="round"/>
<line x1="727.24" y1="1738.37" x2="711.94" y2="1811.84" stroke="#DB8CBE" stroke-width="33.43" stroke-linecap="round"/>
<line x1="780.81" y1="1738.37" x2="760.92" y2="1827.14" stroke="#DB8CBE" stroke-width="34.22" stroke-linecap="round"/>
<line x1="828.26" y1="1772.04" x2="808.36" y2="1817.96" stroke="#DB8CBE" stroke-width="33.43" stroke-linecap="round"/>
<line x1="860.4" y1="1781.22" x2="849.69" y2="1821.02" stroke="#DB8CBE" stroke-width="27.86" stroke-linecap="round"/>
<line x1="664.49" y1="1955.71" x2="621.63" y2="1989.39" stroke="#DB8CBE" stroke-width="34.22" stroke-linecap="round"/>
<line x1="704.28" y1="1879.18" x2="701.22" y2="1882.24" stroke="#DB8CBE" stroke-width="38.2" stroke-linecap="round"/>
<line x1="652.24" y1="1915.92" x2="650.71" y2="1918.98" stroke="#DB8CBE" stroke-width="33.43" stroke-linecap="round"/>
<line x1="711.94" y1="1964.9" x2="708.88" y2="1977.14" stroke="#DB8CBE" stroke-width="47.75" stroke-linecap="round"/>
<line x1="508.37" y1="1952.65" x2="508.37" y2="1977.14" stroke="#DB8CBE" stroke-width="35.82" stroke-linecap="round"/>
<line x1="661.43" y1="1851.63" x2="655.3" y2="1863.88" stroke="#DB8CBE" stroke-width="33.43" stroke-linecap="round"/>
<line x1="808.36" y1="1848.57" x2="802.24" y2="1857.75" stroke="#DB8CBE" stroke-width="33.43" stroke-linecap="round"/>
<line x1="750.2" y1="1885.3" x2="744.08" y2="1894.49" stroke="#DB8CBE" stroke-width="33.43" stroke-linecap="round"/>
<line x1="722.65" y1="1906.73" x2="715" y2="1922.04" stroke="#DB8CBE" stroke-width="27.86" stroke-linecap="round"/>
<line x1="591.02" y1="1781.22" x2="578.77" y2="1836.33" stroke="#DB8CBE" stroke-width="30.24" stroke-linecap="round"/>
<line x1="875.71" y1="1738.37" x2="872.65" y2="1750.61" stroke="#DB8CBE" stroke-width="27.86" stroke-linecap="round"/>
<line x1="551.22" y1="1989.39" x2="535.92" y2="2023.06" stroke="#DB8CBE" stroke-width="31.84" stroke-linecap="round"/>
<line x1="759.39" y1="1934.28" x2="753.26" y2="1940.41" stroke="#DB8CBE" stroke-width="23.88" stroke-linecap="round"/>
<line x1="685.92" y1="2004.69" x2="673.67" y2="2023.06" stroke="#DB8CBE" stroke-width="31.84" stroke-linecap="round"/>
<line x1="618.57" y1="1821.02" x2="612.45" y2="1842.45" stroke="#DB8CBE" stroke-width="27.86" stroke-linecap="round"/>
<line x1="790" y1="1891.43" x2="777.75" y2="1903.67" stroke="#DB8CBE" stroke-width="23.88" stroke-linecap="round"/>
<line x1="502.24" y1="1891.43" x2="499.18" y2="1922.04" stroke="#DB8CBE" stroke-width="23.88" stroke-linecap="round"/>
<line x1="734.9" y1="1842.45" x2="728.77" y2="1854.69" stroke="#DB8CBE" stroke-width="30.24" stroke-linecap="round"/>
<line x1="546.63" y1="1738.37" x2="535.92" y2="1811.84" stroke="#F2C3DD" stroke-width="15.56" stroke-linecap="round"/>
<line x1="508.37" y1="1781.22" x2="503.78" y2="1854.69" stroke="#F2C3DD" stroke-width="15.18" stroke-linecap="round"/>
<line x1="542.04" y1="1873.06" x2="531.33" y2="1940.41" stroke="#F2C3DD" stroke-width="15.94" stroke-linecap="round"/>
<line x1="587.96" y1="1857.75" x2="574.18" y2="1912.86" stroke="#F2C3DD" stroke-width="15.18" stroke-linecap="round"/>
<line x1="612.45" y1="1909.79" x2="580.31" y2="1974.08" stroke="#F2C3DD" stroke-width="15.56" stroke-linecap="round"/>
<line x1="652.24" y1="1747.55" x2="636.94" y2="1808.77" stroke="#F2C3DD" stroke-width="15.94" stroke-linecap="round"/>
<line x1="692.04" y1="1738.37" x2="682.86" y2="1811.84" stroke="#F2C3DD" stroke-width="13.29" stroke-linecap="round"/>
<line x1="727.24" y1="1738.37" x2="711.94" y2="1811.84" stroke="#F2C3DD" stroke-width="15.94" stroke-linecap="round"/>
<line x1="780.81" y1="1738.37" x2="760.92" y2="1827.14" stroke="#F2C3DD" stroke-width="16.32" stroke-linecap="round"/>
<line x1="828.26" y1="1772.04" x2="808.36" y2="1817.96" stroke="#F2C3DD" stroke-width="15.94" stroke-linecap="round"/>
<line x1="860.4" y1="1781.22" x2="849.69" y2="1821.02" stroke="#F2C3DD" stroke-width="13.29" stroke-linecap="round"/>
<line x1="664.49" y1="1955.71" x2="621.63" y2="1989.39" stroke="#F2C3DD" stroke-width="16.32" stroke-linecap="round"/>
<line x1="704.28" y1="1879.18" x2="701.22" y2="1882.24" stroke="#F2C3DD" stroke-width="18.22" stroke-linecap="round"/>
<line x1="652.24" y1="1915.92" x2="650.71" y2="1918.98" stroke="#F2C3DD" stroke-width="15.94" stroke-linecap="round"/>
<line x1="711.94" y1="1964.9" x2="708.88" y2="1977.14" stroke="#F2C3DD" stroke-width="22.78" stroke-linecap="round"/>
<line x1="508.37" y1="1952.65" x2="508.37" y2="1977.14" stroke="#F2C3DD" stroke-width="17.08" stroke-linecap="round"/>
<line x1="661.43" y1="1851.63" x2="655.3" y2="1863.88" stroke="#F2C3DD" stroke-width="15.94" stroke-linecap="round"/>
<line x1="808.36" y1="1848.57" x2="802.24" y2="1857.75" stroke="#F2C3DD" stroke-width="15.94" stroke-linecap="round"/>
<line x1="750.2" y1="1885.3" x2="744.08" y2="1894.49" stroke="#F2C3DD" stroke-width="15.94" stroke-linecap="round"/>
<line x1="722.65" y1="1906.73" x2="715" y2="1922.04" stroke="#F2C3DD" stroke-width="13.29" stroke-linecap="round"/>
<line x1="591.02" y1="1781.22" x2="578.77" y2="1836.33" stroke="#F2C3DD" stroke-width="14.42" stroke-linecap="round"/>
<line x1="875.71" y1="1738.37" x2="872.65" y2="1750.61" stroke="#F2C3DD" stroke-width="13.29" stroke-linecap="round"/>
<line x1="551.22" y1="1989.39" x2="535.92" y2="2023.06" stroke="#F2C3DD" stroke-width="15.18" stroke-linecap="round"/>
<line x1="759.39" y1="1934.28" x2="753.26" y2="1940.41" stroke="#F2C3DD" stroke-width="11.39" stroke-linecap="round"/>
<line x1="685.92" y1="2004.69" x2="673.67" y2="2023.06" stroke="#F2C3DD" stroke-width="15.18" stroke-linecap="round"/>
<line x1="618.57" y1="1821.02" x2="612.45" y2="1842.45" stroke="#F2C3DD" stroke-width="13.29" stroke-linecap="round"/>
<line x1="790" y1="1891.43" x2="777.75" y2="1903.67" stroke="#F2C3DD" stroke-width="11.39" stroke-linecap="round"/>
<line x1="502.24" y1="1891.43" x2="499.18" y2="1922.04" stroke="#F2C3DD" stroke-width="11.39" stroke-linecap="round"/>
<line x1="734.9" y1="1842.45" x2="728.77" y2="1854.69" stroke="#F2C3DD" stroke-width="14.42" stroke-linecap="round"/>
<line x1="546.63" y1="1738.37" x2="535.92" y2="1811.84" stroke="#FDF4F9" stroke-width="6.17" stroke-linecap="round"/>
<line x1="508.37" y1="1781.22" x2="503.78" y2="1854.69" stroke="#FDF4F9" stroke-width="6.17" stroke-linecap="round"/>
<line x1="542.04" y1="1873.06" x2="531.33" y2="1940.41" stroke="#FDF4F9" stroke-width="6.17" stroke-linecap="round"/>
<line x1="587.96" y1="1857.75" x2="574.18" y2="1912.86" stroke="#FDF4F9" stroke-width="6.17" stroke-linecap="round"/>
<line x1="612.45" y1="1909.79" x2="580.31" y2="1974.08" stroke="#FDF4F9" stroke-width="6.17" stroke-linecap="round"/>
<line x1="652.24" y1="1747.55" x2="636.94" y2="1808.77" stroke="#FDF4F9" stroke-width="6.17" stroke-linecap="round"/>
<line x1="692.04" y1="1738.37" x2="682.86" y2="1811.84" stroke="#FDF4F9" stroke-width="6.17" stroke-linecap="round"/>
<line x1="727.24" y1="1738.37" x2="711.94" y2="1811.84" stroke="#FDF4F9" stroke-width="6.17" stroke-linecap="round"/>
<line x1="780.81" y1="1738.37" x2="760.92" y2="1827.14" stroke="#FDF4F9" stroke-width="6.17" stroke-linecap="round"/>
<line x1="828.26" y1="1772.04" x2="808.36" y2="1817.96" stroke="#FDF4F9" stroke-width="6.17" stroke-linecap="round"/>
<line x1="860.4" y1="1781.22" x2="849.69" y2="1821.02" stroke="#FDF4F9" stroke-width="6.17" stroke-linecap="round"/>
<line x1="664.49" y1="1955.71" x2="621.63" y2="1989.39" stroke="#FDF4F9" stroke-width="6.17" stroke-linecap="round"/>
<line x1="704.28" y1="1879.18" x2="701.22" y2="1882.24" stroke="#FDF4F9" stroke-width="6.17" stroke-linecap="round"/>
<line x1="652.24" y1="1915.92" x2="650.71" y2="1918.98" stroke="#FDF4F9" stroke-width="6.17" stroke-linecap="round"/>
<line x1="711.94" y1="1964.9" x2="708.88" y2="1977.14" stroke="#FDF4F9" stroke-width="17.1" stroke-linecap="round"/>
<line x1="508.37" y1="1952.65" x2="508.37" y2="1977.14" stroke="#FDF4F9" stroke-width="6.17" stroke-linecap="round"/>
<line x1="661.43" y1="1851.63" x2="655.3" y2="1863.88" stroke="#FDF4F9" stroke-width="6.17" stroke-linecap="round"/>
<line x1="808.36" y1="1848.57" x2="802.24" y2="1857.75" stroke="#FDF4F9" stroke-width="6.17" stroke-linecap="round"/>
<line x1="750.2" y1="1885.3" x2="744.08" y2="1894.49" stroke="#FDF4F9" stroke-width="6.17" stroke-linecap="round"/>
<line x1="722.65" y1="1906.73" x2="715" y2="1922.04" stroke="#FDF4F9" stroke-width="6.17" stroke-linecap="round"/>
<line x1="591.02" y1="1781.22" x2="578.77" y2="1836.33" stroke="#FDF4F9" stroke-width="6.17" stroke-linecap="round"/>
<line x1="875.71" y1="1738.37" x2="872.65" y2="1750.61" stroke="#FDF4F9" stroke-width="6.17" stroke-linecap="round"/>
<line x1="551.22" y1="1989.39" x2="535.92" y2="2023.06" stroke="#FDF4F9" stroke-width="6.17" stroke-linecap="round"/>
<line x1="759.39" y1="1934.28" x2="753.26" y2="1940.41" stroke="#FDF4F9" stroke-width="6.17" stroke-linecap="round"/>
<line x1="685.92" y1="2004.69" x2="673.67" y2="2023.06" stroke="#FDF4F9" stroke-width="6.17" stroke-linecap="round"/>
<line x1="618.57" y1="1821.02" x2="612.45" y2="1842.45" stroke="#FDF4F9" stroke-width="6.17" stroke-linecap="round"/>
<line x1="790" y1="1891.43" x2="777.75" y2="1903.67" stroke="#FDF4F9" stroke-width="6.17" stroke-linecap="round"/>
<line x1="502.24" y1="1891.43" x2="499.18" y2="1922.04" stroke="#FDF4F9" stroke-width="6.17" stroke-linecap="round"/>
<line x1="734.9" y1="1842.45" x2="728.77" y2="1854.69" stroke="#FDF4F9" stroke-width="6.17" stroke-linecap="round"/>
</g>
<rect x="500.8" y="1732" width="521.4" height="293.2" fill="#000" filter="url(#grainHE)" opacity="0.55"/>
</g>
<circle cx="762.75" cy="1833.26" r="3.2" fill="#5a2a6a" opacity="0.8" filter="url(#soft)"/>
<circle cx="698.16" cy="2008.36" r="3.2" fill="#5a2a6a" opacity="0.8" filter="url(#soft)"/>
<circle cx="995.1" cy="1881.32" r="3.2" fill="#5a2a6a" opacity="0.8" filter="url(#soft)"/>
</g>
<path d="M915.5 1733 C910.4 1737.98 891.28 1752.82 884.9 1762.9 C878.52 1772.98 882.82 1782.8 877.2 1793.5 C871.58 1804.2 858.08 1817.92 851.2 1827.1 C844.32 1836.28 839.98 1842.22 835.9 1848.6 C831.82 1854.98 831.28 1861.58 826.7 1865.4 C822.12 1869.22 815.53 1868.95 808.4 1871.5 C801.27 1874.05 791.05 1876.37 783.9 1880.7 C776.75 1885.03 770.1 1890.62 765.5 1897.5 C760.9 1904.38 759.37 1912.8 756.3 1922 C753.23 1931.2 750.67 1941.47 747.1 1952.7 C743.53 1963.93 738.33 1979.35 734.9 1989.4 C731.47 1999.45 727.9 2009.07 726.5 2013" fill="none" stroke="#1a1a1a" stroke-width="3.3" stroke-dasharray="11 6.5" stroke-linejoin="round"/>
<text x="510" y="1755" font-size="17.8" fill="#1a1a1a">1000 µm</text>
<line x1="525.1" y1="1765.5" x2="568.8" y2="1765.5" stroke="#1a1a1a" stroke-width="1.6"/>
<text x="522.5" y="2009.8" font-size="21.5" fill="#1a1a1a">Polyp</text>
<text x="891.4" y="2012" font-size="21.5" fill="#1a1a1a">Non polypoid</text>
<clipPath id="clipU"><rect x="500.8" y="2070" width="521.4" height="292.2"/></clipPath>
<clipPath id="clipUp"><path d="M943.33 2068.97 C940.59 2071.27 932.37 2079.1 926.89 2082.78 C921.41 2086.45 915.11 2086.88 910.45 2090.99 C905.79 2095.1 902.78 2101.95 898.94 2107.43 C895.11 2112.91 891 2118.94 887.43 2123.87 C883.87 2128.81 881.41 2132.09 877.57 2137.03 C873.73 2141.96 868.53 2147.99 864.42 2153.47 C860.31 2158.95 857.02 2164.97 852.91 2169.91 C848.8 2174.84 844.97 2179.77 839.76 2183.06 C834.55 2186.35 829.07 2187.99 821.68 2189.63 C814.28 2191.28 803.04 2190.73 795.37 2192.92 C787.7 2195.11 781.4 2198.4 775.64 2202.79 C769.89 2207.17 765.23 2213.2 760.85 2219.23 C756.46 2225.25 752.9 2232.38 749.34 2238.95 C745.78 2245.53 743.04 2251.56 739.48 2258.68 C735.91 2265.8 731.8 2275.12 727.97 2281.7 C724.13 2288.27 720.57 2294.3 716.46 2298.14 C712.35 2301.97 708.24 2302.52 703.31 2304.71 C698.38 2306.9 692.35 2308.27 686.87 2311.29 C681.39 2314.3 674.81 2317.86 670.43 2322.8 C666.05 2327.73 663.03 2335.95 660.57 2340.88 C658.1 2345.81 656.46 2350.47 655.63 2352.39 L651.63 2370.2 L495.8 2370.2 L495.8 2065 L946.33 2065 Z"/></clipPath>
<g clip-path="url(#clipU)">
<rect x="500.8" y="2070" width="521.4" height="292.2" fill="#EFEEEF"/>
<g filter="url(#warp)">
<rect x="490.8" y="2060" width="541.4" height="312.2" fill="#F0EDEA"/>
<ellipse cx="671.95" cy="2355.2" rx="26.15" ry="30.87" transform="rotate(50.33 671.95 2355.2)" fill="url(#bubU)" stroke="#D3B9A2" stroke-width="1.8"/>
<ellipse cx="937.4" cy="2162.79" rx="29.5" ry="33.99" transform="rotate(27.56 937.4 2162.79)" fill="url(#bubU)" stroke="#D3B9A2" stroke-width="1.8"/>
<ellipse cx="921.59" cy="2343.8" rx="25.58" ry="34.41" transform="rotate(-7.36 921.59 2343.8)" fill="url(#bubU)" stroke="#D3B9A2" stroke-width="1.8"/>
<ellipse cx="755.12" cy="2270.81" rx="30.15" ry="34.45" transform="rotate(35.06 755.12 2270.81)" fill="url(#bubU)" stroke="#D3B9A2" stroke-width="1.8"/>
<ellipse cx="1012.72" cy="2088.94" rx="34.44" ry="40.73" transform="rotate(13.72 1012.72 2088.94)" fill="url(#bubU)" stroke="#D3B9A2" stroke-width="1.8"/>
<ellipse cx="875.64" cy="2173.73" rx="31.64" ry="42.57" transform="rotate(38.71 875.64 2173.73)" fill="url(#bubU)" stroke="#D3B9A2" stroke-width="1.8"/>
<ellipse cx="829.33" cy="2254.6" rx="23.69" ry="33.86" transform="rotate(34.97 829.33 2254.6)" fill="url(#bubU)" stroke="#D3B9A2" stroke-width="1.8"/>
<ellipse cx="748.33" cy="2362.87" rx="19.35" ry="28.24" transform="rotate(31.09 748.33 2362.87)" fill="url(#bubU)" stroke="#D3B9A2" stroke-width="1.8"/>
<ellipse cx="818.43" cy="2203.12" rx="28.24" ry="40.82" transform="rotate(22.92 818.43 2203.12)" fill="url(#bubU)" stroke="#D3B9A2" stroke-width="1.8"/>
<ellipse cx="975.01" cy="2273.74" rx="31.88" ry="37.69" transform="rotate(28.73 975.01 2273.74)" fill="url(#bubU)" stroke="#D3B9A2" stroke-width="1.8"/>
<ellipse cx="842.26" cy="2291.44" rx="17.48" ry="23.42" transform="rotate(37.09 842.26 2291.44)" fill="url(#bubU)" stroke="#D3B9A2" stroke-width="1.8"/>
<ellipse cx="840.79" cy="2355.18" rx="33.68" ry="44.97" transform="rotate(52.23 840.79 2355.18)" fill="url(#bubU)" stroke="#D3B9A2" stroke-width="1.8"/>
<ellipse cx="1026.59" cy="2246" rx="26.29" ry="37.5" transform="rotate(37.74 1026.59 2246)" fill="url(#bubU)" stroke="#D3B9A2" stroke-width="1.8"/>
<ellipse cx="881.32" cy="2301.24" rx="26.19" ry="34.94" transform="rotate(57.3 881.32 2301.24)" fill="url(#bubU)" stroke="#D3B9A2" stroke-width="1.8"/>
<ellipse cx="1034.6" cy="2183.01" rx="33.64" ry="38.86" transform="rotate(-3.69 1034.6 2183.01)" fill="url(#bubU)" stroke="#D3B9A2" stroke-width="1.8"/>
<ellipse cx="717.31" cy="2330.6" rx="30.32" ry="37.5" transform="rotate(49.8 717.31 2330.6)" fill="url(#bubU)" stroke="#D3B9A2" stroke-width="1.8"/>
<ellipse cx="1035.81" cy="2363.64" rx="34.68" ry="45.13" transform="rotate(2.65 1035.81 2363.64)" fill="url(#bubU)" stroke="#D3B9A2" stroke-width="1.8"/>
<ellipse cx="976.42" cy="2197.38" rx="27.24" ry="32.99" transform="rotate(31.85 976.42 2197.38)" fill="url(#bubU)" stroke="#D3B9A2" stroke-width="1.8"/>
<ellipse cx="922.83" cy="2088.65" rx="30.32" ry="40.71" transform="rotate(54.43 922.83 2088.65)" fill="url(#bubU)" stroke="#D3B9A2" stroke-width="1.8"/>
<ellipse cx="978.42" cy="2141.04" rx="18.6" ry="26.87" transform="rotate(-6.49 978.42 2141.04)" fill="url(#bubU)" stroke="#D3B9A2" stroke-width="1.8"/>
<ellipse cx="978.81" cy="2342.94" rx="18.69" ry="21.67" transform="rotate(52.23 978.81 2342.94)" fill="url(#bubU)" stroke="#D3B9A2" stroke-width="1.8"/>
<ellipse cx="1026.65" cy="2304.85" rx="21.28" ry="27.39" transform="rotate(56.4 1026.65 2304.85)" fill="url(#bubU)" stroke="#D3B9A2" stroke-width="1.8"/>
<ellipse cx="876.4" cy="2241.08" rx="28.87" ry="38.37" transform="rotate(24.66 876.4 2241.08)" fill="url(#bubU)" stroke="#D3B9A2" stroke-width="1.8"/>
<ellipse cx="913.69" cy="2261.86" rx="17.79" ry="20.98" transform="rotate(25.62 913.69 2261.86)" fill="url(#bubU)" stroke="#D3B9A2" stroke-width="1.8"/>
<ellipse cx="938.73" cy="2230.81" rx="25.54" ry="29.75" transform="rotate(54.65 938.73 2230.81)" fill="url(#bubU)" stroke="#D3B9A2" stroke-width="1.8"/>
<ellipse cx="974.72" cy="2057.99" rx="20.41" ry="26.22" transform="rotate(40.79 974.72 2057.99)" fill="url(#bubU)" stroke="#D3B9A2" stroke-width="1.8"/>
<ellipse cx="757.41" cy="2211.67" rx="29.46" ry="38.64" transform="rotate(37.78 757.41 2211.67)" fill="url(#bubU)" stroke="#D3B9A2" stroke-width="1.8"/>
<ellipse cx="1025.06" cy="2139.89" rx="17.24" ry="22.81" transform="rotate(-3.3 1025.06 2139.89)" fill="url(#bubU)" stroke="#D3B9A2" stroke-width="1.8"/>
<ellipse cx="785.39" cy="2314.93" rx="27.48" ry="39.21" transform="rotate(21.69 785.39 2314.93)" fill="url(#bubU)" stroke="#D3B9A2" stroke-width="1.8"/>
<ellipse cx="891.59" cy="2125.5" rx="23.73" ry="31.63" transform="rotate(9.38 891.59 2125.5)" fill="url(#bubU)" stroke="#D3B9A2" stroke-width="1.8"/>
<ellipse cx="963.35" cy="2109.26" rx="22.26" ry="23.75" transform="rotate(-5.07 963.35 2109.26)" fill="url(#bubU)" stroke="#D3B9A2" stroke-width="1.8"/>
<ellipse cx="792.68" cy="2357.81" rx="20.2" ry="23.23" transform="rotate(-2.7 792.68 2357.81)" fill="url(#bubU)" stroke="#D3B9A2" stroke-width="1.8"/>
<ellipse cx="931.31" cy="2299.4" rx="23.38" ry="26.27" transform="rotate(42.77 931.31 2299.4)" fill="url(#bubU)" stroke="#D3B9A2" stroke-width="1.8"/>
<ellipse cx="717.38" cy="2287.75" rx="19.89" ry="24.63" transform="rotate(33.8 717.38 2287.75)" fill="url(#bubU)" stroke="#D3B9A2" stroke-width="1.8"/>
<ellipse cx="888.35" cy="2370.45" rx="17.44" ry="25.43" transform="rotate(14.2 888.35 2370.45)" fill="url(#bubU)" stroke="#D3B9A2" stroke-width="1.8"/>
<ellipse cx="955.53" cy="2373.14" rx="23.56" ry="34.87" transform="rotate(45.44 955.53 2373.14)" fill="url(#bubU)" stroke="#D3B9A2" stroke-width="1.8"/>
<ellipse cx="681.66" cy="2310.4" rx="21.03" ry="24.03" transform="rotate(7.97 681.66 2310.4)" fill="url(#bubU)" stroke="#D3B9A2" stroke-width="1.8"/>
</g>
<g clip-path="url(#clipUp)">
<rect x="500.8" y="2070" width="521.4" height="292.2" fill="#F0EAE2"/>
<g filter="url(#soft)">
<line x1="535.92" y1="2071.43" x2="511.43" y2="2141.84" stroke="#DDCDB6" stroke-width="38.94" stroke-linecap="round"/>
<line x1="557.35" y1="2120.41" x2="523.67" y2="2221.43" stroke="#DDCDB6" stroke-width="36.34" stroke-linecap="round"/>
<line x1="606.33" y1="2089.8" x2="563.47" y2="2224.49" stroke="#DDCDB6" stroke-width="36.34" stroke-linecap="round"/>
<line x1="661.43" y1="2077.55" x2="641.53" y2="2147.96" stroke="#DDCDB6" stroke-width="47.05" stroke-linecap="round"/>
<line x1="710.41" y1="2071.43" x2="698.16" y2="2132.65" stroke="#DDCDB6" stroke-width="40.56" stroke-linecap="round"/>
<line x1="783.87" y1="2086.73" x2="750.2" y2="2169.39" stroke="#DDCDB6" stroke-width="58.41" stroke-linecap="round"/>
<line x1="848.16" y1="2080.61" x2="823.67" y2="2141.84" stroke="#DDCDB6" stroke-width="40.56" stroke-linecap="round"/>
<line x1="701.22" y1="2184.69" x2="701.22" y2="2186.22" stroke="#DDCDB6" stroke-width="48.67" stroke-linecap="round"/>
<line x1="647.65" y1="2207.65" x2="644.59" y2="2212.24" stroke="#DDCDB6" stroke-width="40.56" stroke-linecap="round"/>
<line x1="753.26" y1="2195.41" x2="734.9" y2="2204.59" stroke="#DDCDB6" stroke-width="27.58" stroke-linecap="round"/>
<line x1="612.45" y1="2187.75" x2="566.53" y2="2270.41" stroke="#DDCDB6" stroke-width="35.04" stroke-linecap="round"/>
<line x1="673.67" y1="2245.92" x2="597.14" y2="2285.71" stroke="#DDCDB6" stroke-width="40.56" stroke-linecap="round"/>
<line x1="713.47" y1="2261.22" x2="688.98" y2="2291.83" stroke="#DDCDB6" stroke-width="61.65" stroke-linecap="round"/>
<line x1="551.22" y1="2282.65" x2="508.37" y2="2340.81" stroke="#DDCDB6" stroke-width="42.18" stroke-linecap="round"/>
<line x1="621.63" y1="2307.14" x2="615.51" y2="2319.39" stroke="#DDCDB6" stroke-width="30.83" stroke-linecap="round"/>
<line x1="643.06" y1="2328.57" x2="636.94" y2="2340.81" stroke="#DDCDB6" stroke-width="40.56" stroke-linecap="round"/>
<line x1="820.61" y1="2166.33" x2="802.24" y2="2178.57" stroke="#DDCDB6" stroke-width="27.58" stroke-linecap="round"/>
<line x1="860.4" y1="2129.59" x2="854.28" y2="2141.84" stroke="#DDCDB6" stroke-width="34.07" stroke-linecap="round"/>
<line x1="505.31" y1="2233.67" x2="502.24" y2="2245.92" stroke="#DDCDB6" stroke-width="27.58" stroke-linecap="round"/>
<line x1="722.65" y1="2222.96" x2="710.41" y2="2227.55" stroke="#DDCDB6" stroke-width="19.47" stroke-linecap="round"/>
<line x1="581.84" y1="2068.37" x2="560.41" y2="2086.73" stroke="#DDCDB6" stroke-width="32.45" stroke-linecap="round"/>
<line x1="897.14" y1="2071.43" x2="891.02" y2="2083.67" stroke="#DDCDB6" stroke-width="29.2" stroke-linecap="round"/>
<line x1="618.57" y1="2203.06" x2="621.63" y2="2203.06" stroke="#DDCDB6" stroke-width="8.11" stroke-linecap="round"/>
<line x1="535.92" y1="2071.43" x2="511.43" y2="2141.84" stroke="#D9BF9C" stroke-width="18.37" stroke-linecap="round"/>
<line x1="557.35" y1="2120.41" x2="523.67" y2="2221.43" stroke="#D9BF9C" stroke-width="17.14" stroke-linecap="round"/>
<line x1="606.33" y1="2089.8" x2="563.47" y2="2224.49" stroke="#D9BF9C" stroke-width="17.14" stroke-linecap="round"/>
<line x1="661.43" y1="2077.55" x2="641.53" y2="2147.96" stroke="#D9BF9C" stroke-width="22.19" stroke-linecap="round"/>
<line x1="710.41" y1="2071.43" x2="698.16" y2="2132.65" stroke="#D9BF9C" stroke-width="19.13" stroke-linecap="round"/>
<line x1="783.87" y1="2086.73" x2="750.2" y2="2169.39" stroke="#D9BF9C" stroke-width="27.55" stroke-linecap="round"/>
<line x1="848.16" y1="2080.61" x2="823.67" y2="2141.84" stroke="#D9BF9C" stroke-width="19.13" stroke-linecap="round"/>
<line x1="701.22" y1="2184.69" x2="701.22" y2="2186.22" stroke="#D9BF9C" stroke-width="22.96" stroke-linecap="round"/>
<line x1="647.65" y1="2207.65" x2="644.59" y2="2212.24" stroke="#D9BF9C" stroke-width="19.13" stroke-linecap="round"/>
<line x1="753.26" y1="2195.41" x2="734.9" y2="2204.59" stroke="#D9BF9C" stroke-width="13.01" stroke-linecap="round"/>
<line x1="612.45" y1="2187.75" x2="566.53" y2="2270.41" stroke="#D9BF9C" stroke-width="16.53" stroke-linecap="round"/>
<line x1="673.67" y1="2245.92" x2="597.14" y2="2285.71" stroke="#D9BF9C" stroke-width="19.13" stroke-linecap="round"/>
<line x1="713.47" y1="2261.22" x2="688.98" y2="2291.83" stroke="#D9BF9C" stroke-width="29.08" stroke-linecap="round"/>
<line x1="551.22" y1="2282.65" x2="508.37" y2="2340.81" stroke="#D9BF9C" stroke-width="19.9" stroke-linecap="round"/>
<line x1="621.63" y1="2307.14" x2="615.51" y2="2319.39" stroke="#D9BF9C" stroke-width="14.54" stroke-linecap="round"/>
<line x1="643.06" y1="2328.57" x2="636.94" y2="2340.81" stroke="#D9BF9C" stroke-width="19.13" stroke-linecap="round"/>
<line x1="820.61" y1="2166.33" x2="802.24" y2="2178.57" stroke="#D9BF9C" stroke-width="13.01" stroke-linecap="round"/>
<line x1="860.4" y1="2129.59" x2="854.28" y2="2141.84" stroke="#D9BF9C" stroke-width="16.07" stroke-linecap="round"/>
<line x1="505.31" y1="2233.67" x2="502.24" y2="2245.92" stroke="#D9BF9C" stroke-width="13.01" stroke-linecap="round"/>
<line x1="722.65" y1="2222.96" x2="710.41" y2="2227.55" stroke="#D9BF9C" stroke-width="9.18" stroke-linecap="round"/>
<line x1="581.84" y1="2068.37" x2="560.41" y2="2086.73" stroke="#D9BF9C" stroke-width="15.31" stroke-linecap="round"/>
<line x1="897.14" y1="2071.43" x2="891.02" y2="2083.67" stroke="#D9BF9C" stroke-width="13.78" stroke-linecap="round"/>
<line x1="618.57" y1="2203.06" x2="621.63" y2="2203.06" stroke="#D9BF9C" stroke-width="3.83" stroke-linecap="round"/>
<line x1="535.92" y1="2071.43" x2="511.43" y2="2141.84" stroke="#F8F5F0" stroke-width="5.88" stroke-linecap="round"/>
<line x1="557.35" y1="2120.41" x2="523.67" y2="2221.43" stroke="#F8F5F0" stroke-width="5.49" stroke-linecap="round"/>
<line x1="606.33" y1="2089.8" x2="563.47" y2="2224.49" stroke="#F8F5F0" stroke-width="5.49" stroke-linecap="round"/>
<line x1="661.43" y1="2077.55" x2="641.53" y2="2147.96" stroke="#F8F5F0" stroke-width="7.1" stroke-linecap="round"/>
<line x1="710.41" y1="2071.43" x2="698.16" y2="2132.65" stroke="#F8F5F0" stroke-width="6.12" stroke-linecap="round"/>
<line x1="783.87" y1="2086.73" x2="750.2" y2="2169.39" stroke="#F8F5F0" stroke-width="8.82" stroke-linecap="round"/>
<line x1="848.16" y1="2080.61" x2="823.67" y2="2141.84" stroke="#F8F5F0" stroke-width="6.12" stroke-linecap="round"/>
<line x1="701.22" y1="2184.69" x2="701.22" y2="2186.22" stroke="#F8F5F0" stroke-width="7.35" stroke-linecap="round"/>
<line x1="647.65" y1="2207.65" x2="644.59" y2="2212.24" stroke="#F8F5F0" stroke-width="6.12" stroke-linecap="round"/>
<line x1="753.26" y1="2195.41" x2="734.9" y2="2204.59" stroke="#F8F5F0" stroke-width="4.16" stroke-linecap="round"/>
<line x1="612.45" y1="2187.75" x2="566.53" y2="2270.41" stroke="#F8F5F0" stroke-width="5.29" stroke-linecap="round"/>
<line x1="673.67" y1="2245.92" x2="597.14" y2="2285.71" stroke="#F8F5F0" stroke-width="6.12" stroke-linecap="round"/>
<line x1="713.47" y1="2261.22" x2="688.98" y2="2291.83" stroke="#F8F5F0" stroke-width="9.31" stroke-linecap="round"/>
<line x1="551.22" y1="2282.65" x2="508.37" y2="2340.81" stroke="#F8F5F0" stroke-width="6.37" stroke-linecap="round"/>
<line x1="621.63" y1="2307.14" x2="615.51" y2="2319.39" stroke="#F8F5F0" stroke-width="4.65" stroke-linecap="round"/>
<line x1="643.06" y1="2328.57" x2="636.94" y2="2340.81" stroke="#F8F5F0" stroke-width="6.12" stroke-linecap="round"/>
<line x1="820.61" y1="2166.33" x2="802.24" y2="2178.57" stroke="#F8F5F0" stroke-width="4.16" stroke-linecap="round"/>
<line x1="860.4" y1="2129.59" x2="854.28" y2="2141.84" stroke="#F8F5F0" stroke-width="5.14" stroke-linecap="round"/>
<line x1="505.31" y1="2233.67" x2="502.24" y2="2245.92" stroke="#F8F5F0" stroke-width="4.16" stroke-linecap="round"/>
<line x1="722.65" y1="2222.96" x2="710.41" y2="2227.55" stroke="#F8F5F0" stroke-width="3.5" stroke-linecap="round"/>
<line x1="581.84" y1="2068.37" x2="560.41" y2="2086.73" stroke="#F8F5F0" stroke-width="4.9" stroke-linecap="round"/>
<line x1="897.14" y1="2071.43" x2="891.02" y2="2083.67" stroke="#F8F5F0" stroke-width="4.41" stroke-linecap="round"/>
<line x1="618.57" y1="2203.06" x2="621.63" y2="2203.06" stroke="#F8F5F0" stroke-width="3.5" stroke-linecap="round"/>
<circle cx="655.3" cy="2157.14" r="11.63" fill="#F6F3EF"/>
<circle cx="578.77" cy="2325.51" r="15.31" fill="#F6F3EF"/>
<circle cx="667.55" cy="2236.73" r="7.65" fill="#F6F3EF"/>
<circle cx="612.45" cy="2077.55" r="6.73" fill="#F6F3EF"/>
<circle cx="566.53" cy="2112.75" r="5.51" fill="#F6F3EF"/>
</g>
<rect x="500.8" y="2070" width="521.4" height="292.2" fill="#000" filter="url(#grainURI)" opacity="0.35"/>
</g>
</g>
<path d="M943.33 2068.97 C940.59 2071.27 932.37 2079.1 926.89 2082.78 C921.41 2086.45 915.11 2086.88 910.45 2090.99 C905.79 2095.1 902.78 2101.95 898.94 2107.43 C895.11 2112.91 891 2118.94 887.43 2123.87 C883.87 2128.81 881.41 2132.09 877.57 2137.03 C873.73 2141.96 868.53 2147.99 864.42 2153.47 C860.31 2158.95 857.02 2164.97 852.91 2169.91 C848.8 2174.84 844.97 2179.77 839.76 2183.06 C834.55 2186.35 829.07 2187.99 821.68 2189.63 C814.28 2191.28 803.04 2190.73 795.37 2192.92 C787.7 2195.11 781.4 2198.4 775.64 2202.79 C769.89 2207.17 765.23 2213.2 760.85 2219.23 C756.46 2225.25 752.9 2232.38 749.34 2238.95 C745.78 2245.53 743.04 2251.56 739.48 2258.68 C735.91 2265.8 731.8 2275.12 727.97 2281.7 C724.13 2288.27 720.57 2294.3 716.46 2298.14 C712.35 2301.97 708.24 2302.52 703.31 2304.71 C698.38 2306.9 692.35 2308.27 686.87 2311.29 C681.39 2314.3 674.81 2317.86 670.43 2322.8 C666.05 2327.73 663.03 2335.95 660.57 2340.88 C658.1 2345.81 656.46 2350.47 655.63 2352.39" fill="none" stroke="#1a1a1a" stroke-width="3.3" stroke-dasharray="11 6.5" stroke-linejoin="round"/>
<text x="523.1" y="2347.5" font-size="21.5" fill="#1a1a1a">Polyp</text>
<text x="884.8" y="2344.2" font-size="21.5" fill="#1a1a1a">Non polypoid</text>
<text x="1041" y="1718.5" font-size="41" fill="#1a1a1a" font-weight="bold">m</text>
<rect x="1148.33" y="1768.78" width="46" height="153.17" fill="#F29E5E" stroke="#222" stroke-width="1.8"/>
<rect x="1148.33" y="1921.95" width="46" height="88.55" fill="#F9CB7C" stroke="#222" stroke-width="1.8"/>
<rect x="1199.62" y="1768.78" width="45.77" height="136.15" fill="#E5603F" stroke="#222" stroke-width="1.8"/>
<rect x="1199.62" y="1904.93" width="45.77" height="101.66" fill="#F29E5E" stroke="#222" stroke-width="1.8"/>
<rect x="1199.62" y="2006.59" width="45.77" height="3.91" fill="#F9CB7C" stroke="#222" stroke-width="1.8"/>
<line x1="1141.2" y1="1769.2" x2="1141.2" y2="2011.4" stroke="#2a2a2a" stroke-width="1.8"/>
<line x1="1134" y1="2010.5" x2="1252.8" y2="2010.5" stroke="#2a2a2a" stroke-width="1.8"/>
<line x1="1134" y1="1769.7" x2="1141.2" y2="1769.7" stroke="#333" stroke-width="1.6"/>
<text x="1128.5" y="1777" font-size="21" fill="#5b6669" text-anchor="end">100%</text>
<line x1="1134" y1="1829.7" x2="1141.2" y2="1829.7" stroke="#333" stroke-width="1.6"/>
<text x="1128.5" y="1837" font-size="21" fill="#5b6669" text-anchor="end">75%</text>
<line x1="1134" y1="1889.8" x2="1141.2" y2="1889.8" stroke="#333" stroke-width="1.6"/>
<text x="1128.5" y="1897.1" font-size="21" fill="#5b6669" text-anchor="end">50%</text>
<line x1="1134" y1="1950" x2="1141.2" y2="1950" stroke="#333" stroke-width="1.6"/>
<text x="1128.5" y="1957.3" font-size="21" fill="#5b6669" text-anchor="end">25%</text>
<line x1="1134" y1="2010.5" x2="1141.2" y2="2010.5" stroke="#333" stroke-width="1.6"/>
<text x="1128.5" y="2017.8" font-size="21" fill="#5b6669" text-anchor="end">0%</text>
<line x1="1170.9" y1="2010.5" x2="1170.9" y2="2017.5" stroke="#333" stroke-width="1.6"/>
<line x1="1221.9" y1="2010.5" x2="1221.9" y2="2017.5" stroke="#333" stroke-width="1.6"/>
<text x="1183.5" y="2037.3" font-size="21" fill="#5b6669" text-anchor="end">Non</text>
<text x="1183.5" y="2063.2" font-size="21" fill="#5b6669" text-anchor="end">polypoid</text>
<text x="1207.5" y="2039.1" font-size="21" fill="#5b6669">Polyp</text>
<text x="1198.9" y="2097.5" font-size="25.2" fill="#1a1a1a" text-anchor="middle">Mucosa</text>
<text x="1062" y="1893" font-size="25.2" fill="#1a1a1a" text-anchor="middle" transform="rotate(-90 1062 1893)">% of patients</text>
<text x="1147.6" y="1729.4" font-size="21.6" fill="#1a1a1a">p=1.53·10<tspan font-size="20" dx="3" dy="-9">-11</tspan></text>
<text x="1196.7" y="1768.6" font-size="40" fill="#1a1a1a" text-anchor="middle" letter-spacing="1.6" stroke="#1a1a1a" stroke-width="0.5">***</text>
<text x="1267.9" y="1827.2" font-size="26.3" fill="#1a1a1a">URI score</text>
<rect x="1267.9" y="1847.4" width="38.2" height="37.6" fill="#F9CB7C" stroke="#222" stroke-width="1.8"/>
<text x="1321.3" y="1873.9" font-size="21" fill="#1a1a1a">1</text>
<rect x="1267.9" y="1888.8" width="38.2" height="37.6" fill="#F29E5E" stroke="#222" stroke-width="1.8"/>
<text x="1321.3" y="1914.6" font-size="21" fill="#1a1a1a">2</text>
<rect x="1267.9" y="1930.2" width="38.2" height="37.6" fill="#E5603F" stroke="#222" stroke-width="1.8"/>
<text x="1321.3" y="1955.5" font-size="21" fill="#1a1a1a">3</text>
<text x="1425.5" y="1718.5" font-size="41" fill="#1a1a1a" font-weight="bold">n</text>
<text x="1454.4" y="1748" font-size="25.3" fill="#1a1a1a">Elongated nuclei</text>
<text x="1671.5" y="1748" font-size="25.1" fill="#1a1a1a">Non transformed</text>
<line x1="1441.4" y1="1760.2" x2="1649.4" y2="1760.2" stroke="#1a1a1a" stroke-width="1.8"/>
<line x1="1662.2" y1="1760.2" x2="1871.1" y2="1760.2" stroke="#1a1a1a" stroke-width="1.8"/>
<defs><clipPath id="clipN"><rect x="1428.8" y="1772" width="448.1" height="345.8"/></clipPath><radialGradient id="gBrown" cx="0.42" cy="0.38" r="0.62"><stop offset="0" stop-color="#AE6C28"/><stop offset="0.45" stop-color="#B97C3C"/><stop offset="0.8" stop-color="#C9A583" stop-opacity="0.85"/><stop offset="1" stop-color="#C7B3AC" stop-opacity="0"/></radialGradient><radialGradient id="gBrown2" cx="0.5" cy="0.3" r="0.6"><stop offset="0" stop-color="#B08050"/><stop offset="0.6" stop-color="#C4A07A" stop-opacity="0.8"/><stop offset="1" stop-color="#C9B6A6" stop-opacity="0"/></radialGradient><filter id="blurN" x="-5%" y="-5%" width="110%" height="110%"><feTurbulence type="fractalNoise" baseFrequency="0.04" numOctaves="2" seed="21" result="t"/><feDisplacementMap in="SourceGraphic" in2="t" scale="9" xChannelSelector="R" yChannelSelector="G" result="d"/><feGaussianBlur in="d" stdDeviation="1.4"/></filter><filter id="blurN2"><feGaussianBlur stdDeviation="4"/></filter><filter id="grainN" x="0" y="0" width="100%" height="100%"><feTurbulence type="fractalNoise" baseFrequency="0.35" numOctaves="2" seed="5" result="n"/><feColorMatrix in="n" type="matrix" values="0 0 0 0 0.35  0 0 0 0 0.25  0 0 0 0 0.25  0 0 0 1.8 -0.75"/></filter></defs>
<g clip-path="url(#clipN)">
<rect x="1428.8" y="1772" width="448.1" height="345.8" fill="#C9BDC3"/>
<g filter="url(#blurN2)">
<ellipse cx="1779.69" cy="1946.51" rx="87.92" ry="69.27" fill="#D5C6B6" opacity="0.8"/>
<ellipse cx="1707.75" cy="1967.82" rx="53.29" ry="53.29" fill="#B9AFC2" opacity="0.7"/>
<path d="M1425.33 2066.41 C1417.34 2038.43 1421.78 1910.98 1425.33 1874.57 C1428.88 1838.16 1438.65 1855.92 1446.64 1847.92 C1454.64 1839.93 1463.07 1835.05 1473.29 1826.61 C1483.5 1818.17 1496.82 1804.41 1507.92 1797.3 C1519.03 1790.2 1529.68 1785.31 1539.9 1783.98 C1550.11 1782.65 1558.99 1785.76 1569.21 1789.31 C1579.42 1792.86 1591.41 1800.63 1601.18 1805.29 C1610.95 1809.96 1620.27 1814.62 1627.82 1817.28 C1635.37 1819.95 1639.81 1817.51 1646.47 1821.28 C1653.13 1825.06 1662.9 1827.94 1667.79 1839.93 C1672.67 1851.92 1675.34 1873.24 1675.78 1893.22 C1676.23 1913.2 1674.01 1939.85 1670.45 1959.83 C1666.9 1979.81 1665.12 2001.13 1654.47 2013.12 C1643.81 2025.11 1627.82 2029.1 1606.51 2031.77 C1585.19 2034.43 1548.78 2027.33 1526.58 2029.1 C1504.37 2030.88 1490.16 2036.21 1473.29 2042.43 C1456.41 2048.64 1433.32 2094.38 1425.33 2066.41 Z" fill="url(#gBrown)"/>
<ellipse cx="1739.73" cy="1791.97" rx="87.92" ry="55.95" fill="url(#gBrown2)"/>
<ellipse cx="1659.8" cy="1813.29" rx="18.65" ry="34.64" fill="#9A6A3A" opacity="0.55"/>
</g>
<g filter="url(#blurN)" fill="none" stroke-linecap="round">
<path d="M1523.22 1998.73 Q1514.71 1944.9 1520.82 1891.07" stroke="#8A5A3A" stroke-width="2.4" opacity="0.7"/>
<path d="M1451.24 2024.71 Q1456.74 1947.61 1462.44 1870.51" stroke="#F3E6D6" stroke-width="2.9" opacity="0.75"/>
<path d="M1479.37 2014.75 Q1481.69 1912.33 1486.24 1809.91" stroke="#EAD2B0" stroke-width="2.3" opacity="0.59"/>
<path d="M1492.39 1986.94 Q1496.05 1925.48 1508.72 1864.03" stroke="#7C4A22" stroke-width="2.53" opacity="0.79"/>
<path d="M1512.58 1999.7 Q1507.71 1947.3 1508.29 1894.91" stroke="#6E4220" stroke-width="3.1" opacity="0.68"/>
<path d="M1439.15 1987.9 Q1437.55 1898.8 1445.94 1809.7" stroke="#EAD2B0" stroke-width="1.74" opacity="0.67"/>
<path d="M1517.97 1994.8 Q1522.74 1955.76 1531.76 1916.73" stroke="#E9D6C8" stroke-width="1.94" opacity="0.59"/>
<path d="M1605.67 2008.16 Q1620.2 1911.91 1633.03 1815.66" stroke="#6E4220" stroke-width="2.53" opacity="0.59"/>
<path d="M1452.77 1995.28 Q1444.19 1906.34 1451.39 1817.41" stroke="#6A4020" stroke-width="2.04" opacity="0.62"/>
<path d="M1484.25 2002.26 Q1477.71 1941.78 1479.13 1881.3" stroke="#F0DDC0" stroke-width="2.5" opacity="0.47"/>
<path d="M1480.23 2010.93 Q1472.2 1930.27 1475.61 1849.61" stroke="#EAD2B0" stroke-width="1.81" opacity="0.46"/>
<path d="M1516.12 2039 Q1507.49 1970.65 1514.14 1902.31" stroke="#8A5630" stroke-width="1.68" opacity="0.69"/>
<path d="M1502.59 2033.29 Q1501.51 1939.62 1510.07 1845.95" stroke="#EAD2B0" stroke-width="3" opacity="0.6"/>
<path d="M1638.64 1990.74 Q1638.71 1914.57 1647.39 1838.4" stroke="#6E4220" stroke-width="3.08" opacity="0.54"/>
<path d="M1632.66 2011.56 Q1642.15 1922.68 1654.89 1833.81" stroke="#E9D6C8" stroke-width="1.83" opacity="0.57"/>
<path d="M1475.95 1986.74 Q1476.26 1944.34 1474.13 1901.93" stroke="#6E4220" stroke-width="2.84" opacity="0.54"/>
<path d="M1526.14 2032.6 Q1526.08 1967.94 1529.84 1903.29" stroke="#F0DDC0" stroke-width="1.69" opacity="0.64"/>
<path d="M1430.95 2005.5 Q1430.15 1912.77 1429.75 1820.03" stroke="#E9D6C8" stroke-width="3.09" opacity="0.54"/>
<path d="M1625.76 2012.02 Q1635.08 1952.02 1643.59 1892.03" stroke="#8A5630" stroke-width="1.84" opacity="0.46"/>
<path d="M1454.75 2005.32 Q1453.52 1927.63 1463.77 1849.94" stroke="#6A4020" stroke-width="2.56" opacity="0.7"/>
<path d="M1562.39 1998.36 Q1567.01 1922.82 1571.92 1847.28" stroke="#8A5630" stroke-width="2.28" opacity="0.49"/>
<path d="M1460.6 2013.84 Q1461.87 1931.97 1459.03 1850.1" stroke="#6E4220" stroke-width="2.11" opacity="0.52"/>
<path d="M1536.79 2038.22 Q1539.34 1973.8 1536.61 1909.39" stroke="#E9D6C8" stroke-width="2.63" opacity="0.79"/>
<path d="M1552.48 2047.58 Q1541.8 1971.51 1550.5 1895.44" stroke="#F0DDC0" stroke-width="2.47" opacity="0.64"/>
<path d="M1575.82 2022.2 Q1565.19 1946.34 1574.61 1870.48" stroke="#F0DDC0" stroke-width="1.58" opacity="0.63"/>
<path d="M1557.89 2004.38 Q1551.3 1948.63 1559.9 1892.89" stroke="#7C4A22" stroke-width="1.7" opacity="0.51"/>
<path d="M1493.78 2008.85 Q1489.92 1937.92 1488.68 1866.99" stroke="#6A4020" stroke-width="1.64" opacity="0.69"/>
<path d="M1596.72 2037.03 Q1589.74 1964.01 1586.85 1890.99" stroke="#6E4220" stroke-width="2.1" opacity="0.72"/>
<path d="M1483.72 2023.75 Q1479.36 1958.21 1472.53 1892.67" stroke="#8A5A3A" stroke-width="1.82" opacity="0.51"/>
<path d="M1456.12 2016.9 Q1448.44 1909.19 1452.04 1801.47" stroke="#EAD2B0" stroke-width="2.83" opacity="0.8"/>
<path d="M1560.52 2031.39 Q1561.31 1968.22 1579.12 1905.05" stroke="#6E4220" stroke-width="2.82" opacity="0.58"/>
<path d="M1502.47 1989.27 Q1503.78 1904.14 1501.27 1819.01" stroke="#8A5630" stroke-width="2.88" opacity="0.55"/>
<path d="M1458.98 2012.67 Q1454.82 1942.68 1463.52 1872.68" stroke="#F3E6D6" stroke-width="2.63" opacity="0.73"/>
<path d="M1652.63 2009.56 Q1649.31 1913.8 1649.34 1818.04" stroke="#8A5630" stroke-width="2.76" opacity="0.6"/>
<path d="M1594.63 2033.95 Q1586.48 1920.23 1593.2 1806.51" stroke="#8A5630" stroke-width="1.78" opacity="0.65"/>
<path d="M1530.27 2021.13 Q1519.66 1964.54 1525.59 1907.94" stroke="#8A5630" stroke-width="1.6" opacity="0.76"/>
<path d="M1472.64 2033.3 Q1475.42 1918.77 1488.96 1804.23" stroke="#E9D6C8" stroke-width="1.63" opacity="0.66"/>
<path d="M1508.87 1994.57 Q1497.92 1927.36 1502.09 1860.15" stroke="#E9D6C8" stroke-width="1.85" opacity="0.75"/>
<path d="M1530.64 1998.83 Q1522.47 1943.65 1529.01 1888.47" stroke="#8A5630" stroke-width="1.79" opacity="0.63"/>
<path d="M1614.14 2042.67 Q1613.4 1935.74 1627.94 1828.8" stroke="#8A5A3A" stroke-width="2.17" opacity="0.65"/>
<path d="M1486.02 2006.33 Q1484.35 1908.97 1487.26 1811.6" stroke="#F0DDC0" stroke-width="2.24" opacity="0.56"/>
<path d="M1642.66 2027.11 Q1636.65 1953.81 1651.7 1880.52" stroke="#6A4020" stroke-width="2" opacity="0.7"/>
<path d="M1456.8 2007.59 Q1453.24 1919.39 1458.95 1831.18" stroke="#F0DDC0" stroke-width="2.1" opacity="0.5"/>
<path d="M1448.6 2039.25 Q1451.53 1972.95 1469.24 1906.66" stroke="#6E4220" stroke-width="2.83" opacity="0.46"/>
<path d="M1470.97 2000.09 Q1462.97 1904.25 1476.26 1808.41" stroke="#EAD2B0" stroke-width="2.62" opacity="0.48"/>
<path d="M1624.05 2031.02 Q1627.64 1938.03 1637.65 1845.03" stroke="#8A5630" stroke-width="2.06" opacity="0.57"/>
<path d="M1457.4 2019.02 Q1453.57 1925.5 1454.53 1831.99" stroke="#8A5630" stroke-width="2.99" opacity="0.67"/>
<path d="M1486.36 2013.58 Q1472.2 1951.36 1477.28 1889.13" stroke="#8A5A3A" stroke-width="1.71" opacity="0.46"/>
<path d="M1543.89 2044.19 Q1547.38 1969.68 1552.08 1895.17" stroke="#6A4020" stroke-width="3.19" opacity="0.66"/>
<path d="M1553.15 2039.88 Q1541.58 1966.39 1549.52 1892.9" stroke="#8A5630" stroke-width="2.27" opacity="0.62"/>
<path d="M1658.91 1991.69 Q1655.72 1933.85 1650.86 1876.01" stroke="#7C4A22" stroke-width="2.22" opacity="0.68"/>
<path d="M1565 1987.56 Q1561.23 1905.97 1561.72 1824.39" stroke="#EAD2B0" stroke-width="1.52" opacity="0.6"/>
<path d="M1645.72 2004.05 Q1666.98 1943.42 1682.97 1882.78" stroke="#8A5A3A" stroke-width="1.68" opacity="0.74"/>
<path d="M1602.91 2010.14 Q1591.85 1936.61 1595.43 1863.08" stroke="#6E4220" stroke-width="2.78" opacity="0.7"/>
<path d="M1438.71 2023.54 Q1436.42 1919.45 1447.7 1815.36" stroke="#E9D6C8" stroke-width="1.87" opacity="0.8"/>
<path d="M1607.01 2005.26 Q1607.13 1940.65 1616.33 1876.04" stroke="#6E4220" stroke-width="1.82" opacity="0.63"/>
<path d="M1614.42 2000.57 Q1612.98 1913.86 1621.26 1827.16" stroke="#6E4220" stroke-width="2.47" opacity="0.57"/>
<path d="M1610.62 2010.96 Q1610.85 1910.76 1620.19 1810.57" stroke="#EAD2B0" stroke-width="1.51" opacity="0.75"/>
<path d="M1450.84 2001.28 Q1443.11 1916.08 1448.42 1830.88" stroke="#6A4020" stroke-width="2.65" opacity="0.52"/>
<path d="M1571.9 2006.31 Q1573.55 1927.39 1583.1 1848.47" stroke="#E9D6C8" stroke-width="2.6" opacity="0.54"/>
<path d="M1554.91 2007.89 Q1553.39 1923.42 1548.86 1838.94" stroke="#7C4A22" stroke-width="2.95" opacity="0.73"/>
<path d="M1574.57 2023.54 Q1583.5 1947.95 1598.9 1872.35" stroke="#6A4020" stroke-width="2.94" opacity="0.64"/>
<path d="M1435.37 2023.6 Q1428.57 1914.53 1428.86 1805.46" stroke="#6A4020" stroke-width="2" opacity="0.58"/>
<path d="M1557.5 2028.94 Q1548.26 1947.38 1559.47 1865.81" stroke="#F3E6D6" stroke-width="2.22" opacity="0.67"/>
<path d="M1428.7 2046.46 Q1425.5 2013.92 1433.76 1981.37" stroke="#B79C98" stroke-width="1.98" opacity="0.7"/>
<path d="M1439.25 2049.51 Q1436.06 2007.18 1442.01 1964.84" stroke="#F1E4DC" stroke-width="1.67" opacity="0.7"/>
<path d="M1445.63 2040.65 Q1442.43 2008.87 1445.68 1977.09" stroke="#A78E9A" stroke-width="2.27" opacity="0.7"/>
<path d="M1455.08 2049.93 Q1451.88 2020.43 1465.68 1990.94" stroke="#A78E9A" stroke-width="1.68" opacity="0.7"/>
<path d="M1464.28 2048.41 Q1461.08 2010.41 1467.34 1972.41" stroke="#F6EEE8" stroke-width="2.21" opacity="0.7"/>
<path d="M1470.77 2040.88 Q1467.58 2005.86 1475.16 1970.84" stroke="#F1E4DC" stroke-width="1.89" opacity="0.7"/>
<path d="M1479.65 2040.27 Q1476.45 2015.7 1489.93 1991.13" stroke="#B79C98" stroke-width="1.8" opacity="0.7"/>
<path d="M1487.25 2044.53 Q1484.06 2004.97 1490.47 1965.42" stroke="#F6EEE8" stroke-width="1.66" opacity="0.7"/>
<path d="M1495.93 2039.87 Q1492.73 1996.76 1499.71 1953.66" stroke="#F1E4DC" stroke-width="2.51" opacity="0.7"/>
<path d="M1502.75 2039.47 Q1499.55 2011.17 1502.91 1982.87" stroke="#F6EEE8" stroke-width="2.09" opacity="0.7"/>
<path d="M1511.2 2047.08 Q1508 2008.75 1516.49 1970.42" stroke="#A78E9A" stroke-width="2.45" opacity="0.7"/>
<path d="M1519.04 2040.54 Q1515.84 2012.88 1525.86 1985.21" stroke="#A78E9A" stroke-width="2.76" opacity="0.7"/>
<path d="M1528.35 2044.66 Q1525.16 2008.51 1531.43 1972.37" stroke="#F6EEE8" stroke-width="1.89" opacity="0.7"/>
<path d="M1535.1 2046.04 Q1531.91 2005.1 1541.17 1964.17" stroke="#B79C98" stroke-width="2.49" opacity="0.7"/>
<path d="M1541.64 2042.36 Q1538.44 2004.56 1551.14 1966.77" stroke="#F6EEE8" stroke-width="2.52" opacity="0.7"/>
<path d="M1550.88 2042.54 Q1547.68 2005.24 1559.85 1967.95" stroke="#F1E4DC" stroke-width="1.73" opacity="0.7"/>
<path d="M1557.5 2047.44 Q1554.3 2015.22 1561.65 1983" stroke="#F1E4DC" stroke-width="2.75" opacity="0.7"/>
<path d="M1565.7 2038.4 Q1562.51 1994.93 1567.54 1951.46" stroke="#F1E4DC" stroke-width="1.8" opacity="0.7"/>
<path d="M1576.26 2047.67 Q1573.06 2023.33 1583.85 1999" stroke="#A78E9A" stroke-width="1.89" opacity="0.7"/>
<path d="M1581.77 2042.06 Q1578.57 2012.79 1583.49 1983.51" stroke="#A78E9A" stroke-width="1.51" opacity="0.7"/>
<path d="M1590.72 2043.11 Q1587.52 2009.52 1598.56 1975.92" stroke="#F1E4DC" stroke-width="2.45" opacity="0.7"/>
<path d="M1597.14 2044.12 Q1593.94 2019.18 1604.5 1994.24" stroke="#B79C98" stroke-width="2.22" opacity="0.7"/>
<path d="M1606.88 2046.48 Q1603.68 2012.51 1611.86 1978.53" stroke="#B79C98" stroke-width="2.78" opacity="0.7"/>
<path d="M1615.67 2043.59 Q1612.47 2015.31 1619.17 1987.02" stroke="#F6EEE8" stroke-width="1.62" opacity="0.7"/>
<path d="M1624.52 2045.93 Q1621.32 2014.22 1632.99 1982.52" stroke="#A78E9A" stroke-width="2.43" opacity="0.7"/>
<path d="M1632.45 2040.22 Q1629.25 2015.05 1633.31 1989.88" stroke="#F6EEE8" stroke-width="1.61" opacity="0.7"/>
<path d="M1638.36 2039.98 Q1635.16 2007.25 1648.76 1974.52" stroke="#F6EEE8" stroke-width="2.74" opacity="0.7"/>
<path d="M1647.12 2048.18 Q1643.93 2006.77 1651.69 1965.36" stroke="#B79C98" stroke-width="1.91" opacity="0.7"/>
<path d="M1655.48 2039.32 Q1652.28 2005.72 1665.33 1972.13" stroke="#F1E4DC" stroke-width="2.4" opacity="0.7"/>
<path d="M1660.91 2042.6 Q1657.71 2014.95 1665.64 1987.31" stroke="#B79C98" stroke-width="2.28" opacity="0.7"/>
</g>
<g filter="url(#blurN)">
<ellipse cx="1499.93" cy="1885.23" rx="5.86" ry="10.66" transform="rotate(10 1499.93 1885.23)" fill="#6A3F1E" opacity="0.6"/>
<ellipse cx="1475.95" cy="1866.58" rx="4.8" ry="11.99" transform="rotate(5 1475.95 1866.58)" fill="#6A3F1E" opacity="0.6"/>
<ellipse cx="1553.22" cy="1858.58" rx="4.26" ry="10.66" transform="rotate(8 1553.22 1858.58)" fill="#6A3F1E" opacity="0.6"/>
<ellipse cx="1606.51" cy="1847.92" rx="7.99" ry="4.8" transform="rotate(-30 1606.51 1847.92)" fill="#6A3F1E" opacity="0.6"/>
<ellipse cx="1537.23" cy="1826.61" rx="3.73" ry="10.66" transform="rotate(10 1537.23 1826.61)" fill="#6A3F1E" opacity="0.6"/>
<ellipse cx="1577.2" cy="1909.21" rx="3.73" ry="9.33" transform="rotate(10 1577.2 1909.21)" fill="#6A3F1E" opacity="0.6"/>
<ellipse cx="1625.16" cy="1922.53" rx="4.26" ry="7.99" transform="rotate(10 1625.16 1922.53)" fill="#6A3F1E" opacity="0.6"/>
<ellipse cx="1467.96" cy="1903.88" rx="3.73" ry="9.33" transform="rotate(5 1467.96 1903.88)" fill="#6A3F1E" opacity="0.6"/>
<ellipse cx="1595.85" cy="1885.23" rx="3.73" ry="7.99" transform="rotate(15 1595.85 1885.23)" fill="#6A3F1E" opacity="0.6"/>
<ellipse cx="1716.8" cy="1908.16" rx="4.87" ry="9.29" transform="rotate(-38.7 1716.8 1908.16)" fill="#9A93AA" stroke="#F1EAE6" stroke-width="2.2" opacity="0.88"/>
<ellipse cx="1755.26" cy="1840.37" rx="5.11" ry="7.73" transform="rotate(25.09 1755.26 1840.37)" fill="#8F8CA6" stroke="#F1EAE6" stroke-width="2.2" opacity="0.88"/>
<ellipse cx="1654.32" cy="2000.28" rx="5.46" ry="9.61" transform="rotate(2.42 1654.32 2000.28)" fill="#8F8CA6" stroke="#F1EAE6" stroke-width="2.2" opacity="0.88"/>
<ellipse cx="1804.92" cy="1858.77" rx="5.24" ry="7.57" transform="rotate(46.73 1804.92 1858.77)" fill="#9A93AA" stroke="#F1EAE6" stroke-width="2.2" opacity="0.88"/>
<ellipse cx="1727.47" cy="1823.54" rx="5.89" ry="9.25" transform="rotate(-39.45 1727.47 1823.54)" fill="#A096A8" stroke="#F1EAE6" stroke-width="2.2" opacity="0.88"/>
<ellipse cx="1748.69" cy="2005.39" rx="5.08" ry="8.76" transform="rotate(18.83 1748.69 2005.39)" fill="#9A93AA" stroke="#F1EAE6" stroke-width="2.2" opacity="0.88"/>
<ellipse cx="1840.69" cy="1963.09" rx="6.14" ry="9.58" transform="rotate(55.13 1840.69 1963.09)" fill="#9A93AA" stroke="#F1EAE6" stroke-width="2.2" opacity="0.88"/>
<ellipse cx="1676.11" cy="1973.65" rx="6.08" ry="7.36" transform="rotate(20.7 1676.11 1973.65)" fill="#A096A8" stroke="#F1EAE6" stroke-width="2.2" opacity="0.88"/>
<ellipse cx="1865.21" cy="1927.83" rx="5.44" ry="7.22" transform="rotate(-0.07 1865.21 1927.83)" fill="#9A93AA" stroke="#F1EAE6" stroke-width="2.2" opacity="0.88"/>
<ellipse cx="1869.59" cy="2002.23" rx="5.75" ry="8.49" transform="rotate(55.74 1869.59 2002.23)" fill="#8A93AD" stroke="#F1EAE6" stroke-width="2.2" opacity="0.88"/>
<ellipse cx="1878.83" cy="1821.35" rx="5.31" ry="8.33" transform="rotate(8.17 1878.83 1821.35)" fill="#9A93AA" stroke="#F1EAE6" stroke-width="2.2" opacity="0.88"/>
<ellipse cx="1677.85" cy="1864.21" rx="6.16" ry="8.35" transform="rotate(2.07 1677.85 1864.21)" fill="#8A93AD" stroke="#F1EAE6" stroke-width="2.2" opacity="0.88"/>
<ellipse cx="1826.78" cy="1825.21" rx="5.5" ry="7.27" transform="rotate(19.74 1826.78 1825.21)" fill="#8F8CA6" stroke="#F1EAE6" stroke-width="2.2" opacity="0.88"/>
<ellipse cx="1811.83" cy="1832.98" rx="6.07" ry="8.81" transform="rotate(-11.53 1811.83 1832.98)" fill="#9A93AA" stroke="#F1EAE6" stroke-width="2.2" opacity="0.88"/>
<ellipse cx="1691.61" cy="2004.02" rx="6.19" ry="7.82" transform="rotate(-37.87 1691.61 2004.02)" fill="#8A93AD" stroke="#F1EAE6" stroke-width="2.2" opacity="0.88"/>
<ellipse cx="1879.58" cy="1862.78" rx="4.93" ry="7.93" transform="rotate(59.07 1879.58 1862.78)" fill="#9A93AA" stroke="#F1EAE6" stroke-width="2.2" opacity="0.88"/>
<ellipse cx="1823.11" cy="1857.05" rx="6.52" ry="9.42" transform="rotate(-19.76 1823.11 1857.05)" fill="#A096A8" stroke="#F1EAE6" stroke-width="2.2" opacity="0.88"/>
<ellipse cx="1708.45" cy="1889.83" rx="6.21" ry="9.02" transform="rotate(-7.75 1708.45 1889.83)" fill="#8A93AD" stroke="#F1EAE6" stroke-width="2.2" opacity="0.88"/>
<ellipse cx="1732.46" cy="1999.14" rx="4.95" ry="8.61" transform="rotate(-37.32 1732.46 1999.14)" fill="#9A93AA" stroke="#F1EAE6" stroke-width="2.2" opacity="0.88"/>
<ellipse cx="1725.64" cy="1878.13" rx="5.36" ry="7.75" transform="rotate(17.29 1725.64 1878.13)" fill="#8A93AD" stroke="#F1EAE6" stroke-width="2.2" opacity="0.88"/>
<ellipse cx="1797.85" cy="1841.64" rx="6.26" ry="9.48" transform="rotate(9.04 1797.85 1841.64)" fill="#A096A8" stroke="#F1EAE6" stroke-width="2.2" opacity="0.88"/>
<ellipse cx="1782.87" cy="1829.28" rx="5.91" ry="7.79" transform="rotate(31.75 1782.87 1829.28)" fill="#9A93AA" stroke="#F1EAE6" stroke-width="2.2" opacity="0.88"/>
<ellipse cx="1850.72" cy="1992.57" rx="6.18" ry="9.84" transform="rotate(-8.19 1850.72 1992.57)" fill="#8A93AD" stroke="#F1EAE6" stroke-width="2.2" opacity="0.88"/>
<ellipse cx="1833.68" cy="1899.07" rx="5.15" ry="7.82" transform="rotate(40.84 1833.68 1899.07)" fill="#A096A8" stroke="#F1EAE6" stroke-width="2.2" opacity="0.88"/>
<ellipse cx="1812.37" cy="1912.86" rx="4.68" ry="8.93" transform="rotate(26.38 1812.37 1912.86)" fill="#9A93AA" stroke="#F1EAE6" stroke-width="2.2" opacity="0.88"/>
<ellipse cx="1799.8" cy="1974.4" rx="5.83" ry="7.96" transform="rotate(39.24 1799.8 1974.4)" fill="#9A93AA" stroke="#F1EAE6" stroke-width="2.2" opacity="0.88"/>
<ellipse cx="1759.04" cy="1917.42" rx="5.21" ry="8" transform="rotate(20.39 1759.04 1917.42)" fill="#9A93AA" stroke="#F1EAE6" stroke-width="2.2" opacity="0.88"/>
<ellipse cx="1756.56" cy="1870.88" rx="5" ry="8.29" transform="rotate(-31.19 1756.56 1870.88)" fill="#8A93AD" stroke="#F1EAE6" stroke-width="2.2" opacity="0.88"/>
<ellipse cx="1788.29" cy="1885.85" rx="6.46" ry="9.05" transform="rotate(46.82 1788.29 1885.85)" fill="#A096A8" stroke="#F1EAE6" stroke-width="2.2" opacity="0.88"/>
<ellipse cx="1730.63" cy="1935.96" rx="5.98" ry="8.51" transform="rotate(-14.72 1730.63 1935.96)" fill="#8A93AD" stroke="#F1EAE6" stroke-width="2.2" opacity="0.88"/>
<ellipse cx="1804.53" cy="2007.91" rx="5.16" ry="8.06" transform="rotate(15.39 1804.53 2007.91)" fill="#A096A8" stroke="#F1EAE6" stroke-width="2.2" opacity="0.88"/>
<ellipse cx="1865.72" cy="1872.88" rx="5.62" ry="7.13" transform="rotate(36.29 1865.72 1872.88)" fill="#8F8CA6" stroke="#F1EAE6" stroke-width="2.2" opacity="0.88"/>
<ellipse cx="1871.88" cy="1836.6" rx="5.5" ry="9.04" transform="rotate(2.79 1871.88 1836.6)" fill="#8F8CA6" stroke="#F1EAE6" stroke-width="2.2" opacity="0.88"/>
<ellipse cx="1705.37" cy="1930.63" rx="5.92" ry="8.37" transform="rotate(22.51 1705.37 1930.63)" fill="#8A93AD" stroke="#F1EAE6" stroke-width="2.2" opacity="0.88"/>
<ellipse cx="1685.84" cy="1947.91" rx="5.53" ry="10.12" transform="rotate(-38.44 1685.84 1947.91)" fill="#8F8CA6" stroke="#F1EAE6" stroke-width="2.2" opacity="0.88"/>
<ellipse cx="1850.48" cy="1882.43" rx="5.73" ry="8.47" transform="rotate(56.24 1850.48 1882.43)" fill="#8F8CA6" stroke="#F1EAE6" stroke-width="2.2" opacity="0.88"/>
<ellipse cx="1734.88" cy="1918.07" rx="5.25" ry="7.9" transform="rotate(-10.84 1734.88 1918.07)" fill="#9A93AA" stroke="#F1EAE6" stroke-width="2.2" opacity="0.88"/>
<ellipse cx="1803.56" cy="1948.95" rx="6.08" ry="8.95" transform="rotate(10.33 1803.56 1948.95)" fill="#A096A8" stroke="#F1EAE6" stroke-width="2.2" opacity="0.88"/>
<ellipse cx="1682.87" cy="1880.64" rx="6.27" ry="9.24" transform="rotate(23.41 1682.87 1880.64)" fill="#8A93AD" stroke="#F1EAE6" stroke-width="2.2" opacity="0.88"/>
<ellipse cx="1729.37" cy="1849.48" rx="5.02" ry="9.88" transform="rotate(-16.51 1729.37 1849.48)" fill="#A096A8" stroke="#F1EAE6" stroke-width="2.2" opacity="0.88"/>
<ellipse cx="1782.07" cy="1869.37" rx="5" ry="8.17" transform="rotate(14.71 1782.07 1869.37)" fill="#8A93AD" stroke="#F1EAE6" stroke-width="2.2" opacity="0.88"/>
<ellipse cx="1839.88" cy="1837.6" rx="5.66" ry="7.6" transform="rotate(18.66 1839.88 1837.6)" fill="#8F8CA6" stroke="#F1EAE6" stroke-width="2.2" opacity="0.88"/>
<ellipse cx="1761.27" cy="1891.27" rx="5.09" ry="7.28" transform="rotate(18.28 1761.27 1891.27)" fill="#9A93AA" stroke="#F1EAE6" stroke-width="2.2" opacity="0.88"/>
<ellipse cx="1880.09" cy="1984.3" rx="5.21" ry="8.26" transform="rotate(54.55 1880.09 1984.3)" fill="#8A93AD" stroke="#F1EAE6" stroke-width="2.2" opacity="0.88"/>
<ellipse cx="1864.46" cy="1979.83" rx="5.06" ry="8.35" transform="rotate(-13.77 1864.46 1979.83)" fill="#8A93AD" stroke="#F1EAE6" stroke-width="2.2" opacity="0.88"/>
<ellipse cx="1849.02" cy="1859.52" rx="6.23" ry="10.22" transform="rotate(5.04 1849.02 1859.52)" fill="#8A93AD" stroke="#F1EAE6" stroke-width="2.2" opacity="0.88"/>
<ellipse cx="1755.99" cy="1964.57" rx="6.13" ry="9.45" transform="rotate(19.43 1755.99 1964.57)" fill="#8A93AD" stroke="#F1EAE6" stroke-width="2.2" opacity="0.88"/>
<ellipse cx="1670.03" cy="1958.1" rx="5.57" ry="9.09" transform="rotate(-15.05 1670.03 1958.1)" fill="#8F8CA6" stroke="#F1EAE6" stroke-width="2.2" opacity="0.88"/>
<ellipse cx="1709.58" cy="1991.27" rx="5.74" ry="7.53" transform="rotate(-10.13 1709.58 1991.27)" fill="#9A93AA" stroke="#F1EAE6" stroke-width="2.2" opacity="0.88"/>
<ellipse cx="1733.56" cy="1894.15" rx="5.42" ry="8.32" transform="rotate(-37.15 1733.56 1894.15)" fill="#A096A8" stroke="#F1EAE6" stroke-width="2.2" opacity="0.88"/>
<ellipse cx="1750.83" cy="1937.89" rx="6.17" ry="9.18" transform="rotate(10.01 1750.83 1937.89)" fill="#9A93AA" stroke="#F1EAE6" stroke-width="2.2" opacity="0.88"/>
<ellipse cx="1786.86" cy="1945.33" rx="5.62" ry="10.06" transform="rotate(20.73 1786.86 1945.33)" fill="#9A93AA" stroke="#F1EAE6" stroke-width="2.2" opacity="0.88"/>
<ellipse cx="1775.77" cy="1966.92" rx="5.54" ry="7.21" transform="rotate(56.27 1775.77 1966.92)" fill="#9A93AA" stroke="#F1EAE6" stroke-width="2.2" opacity="0.88"/>
<ellipse cx="1844.17" cy="1935.64" rx="5.47" ry="8.17" transform="rotate(2.5 1844.17 1935.64)" fill="#A096A8" stroke="#F1EAE6" stroke-width="2.2" opacity="0.88"/>
<ellipse cx="1767.82" cy="2002" rx="6.01" ry="7.43" transform="rotate(-11.31 1767.82 2002)" fill="#8F8CA6" stroke="#F1EAE6" stroke-width="2.2" opacity="0.88"/>
<ellipse cx="1650.7" cy="1941.29" rx="5.27" ry="8.24" transform="rotate(1.19 1650.7 1941.29)" fill="#8A93AD" stroke="#F1EAE6" stroke-width="2.2" opacity="0.88"/>
<ellipse cx="1875.89" cy="1914.3" rx="4.77" ry="9.83" transform="rotate(58.86 1875.89 1914.3)" fill="#A096A8" stroke="#F1EAE6" stroke-width="2.2" opacity="0.88"/>
<ellipse cx="1712.6" cy="1857.42" rx="4.92" ry="9.94" transform="rotate(-15.38 1712.6 1857.42)" fill="#8A93AD" stroke="#F1EAE6" stroke-width="2.2" opacity="0.88"/>
<ellipse cx="1823.16" cy="1966.51" rx="5.96" ry="9.28" transform="rotate(4.01 1823.16 1966.51)" fill="#8F8CA6" stroke="#F1EAE6" stroke-width="2.2" opacity="0.88"/>
<ellipse cx="1794.22" cy="1915.1" rx="5.27" ry="8.8" transform="rotate(7.5 1794.22 1915.1)" fill="#8A93AD" stroke="#F1EAE6" stroke-width="2.2" opacity="0.88"/>
<ellipse cx="1703.34" cy="1951.22" rx="4.75" ry="10.21" transform="rotate(18.1 1703.34 1951.22)" fill="#9A93AA" stroke="#F1EAE6" stroke-width="2.2" opacity="0.88"/>
<ellipse cx="1754.18" cy="1989.2" rx="5.12" ry="7.88" transform="rotate(17.41 1754.18 1989.2)" fill="#A096A8" stroke="#F1EAE6" stroke-width="2.2" opacity="0.88"/>
<ellipse cx="1731.95" cy="1971.18" rx="5.74" ry="8.4" transform="rotate(27.84 1731.95 1971.18)" fill="#9A93AA" stroke="#F1EAE6" stroke-width="2.2" opacity="0.88"/>
<ellipse cx="1772.31" cy="1930.49" rx="6.01" ry="8.96" transform="rotate(58.14 1772.31 1930.49)" fill="#9A93AA" stroke="#F1EAE6" stroke-width="2.2" opacity="0.88"/>
<ellipse cx="1828.62" cy="1991.92" rx="5.91" ry="8.36" transform="rotate(-10.23 1828.62 1991.92)" fill="#A096A8" stroke="#F1EAE6" stroke-width="2.2" opacity="0.88"/>
<ellipse cx="1820.43" cy="2014.72" rx="5.53" ry="8.35" transform="rotate(49.87 1820.43 2014.72)" fill="#A096A8" stroke="#F1EAE6" stroke-width="2.2" opacity="0.88"/>
<ellipse cx="1700.12" cy="1914.08" rx="5.23" ry="9.5" transform="rotate(-32.87 1700.12 1914.08)" fill="#8A93AD" stroke="#F1EAE6" stroke-width="2.2" opacity="0.88"/>
<ellipse cx="1666.8" cy="1895.49" rx="5.6" ry="7.59" transform="rotate(-18.36 1666.8 1895.49)" fill="#A096A8" stroke="#F1EAE6" stroke-width="2.2" opacity="0.88"/>
<ellipse cx="1680.84" cy="1931.96" rx="5.01" ry="7.88" transform="rotate(29.58 1680.84 1931.96)" fill="#9A93AA" stroke="#F1EAE6" stroke-width="2.2" opacity="0.88"/>
<ellipse cx="1686.52" cy="1847.7" rx="4.75" ry="7.04" transform="rotate(21.17 1686.52 1847.7)" fill="#8A93AD" stroke="#F1EAE6" stroke-width="2.2" opacity="0.88"/>
<ellipse cx="1809.28" cy="1889.48" rx="5.3" ry="7.45" transform="rotate(1.23 1809.28 1889.48)" fill="#9A93AA" stroke="#F1EAE6" stroke-width="2.2" opacity="0.88"/>
<ellipse cx="1664.22" cy="1924.91" rx="5.65" ry="10.09" transform="rotate(-42.21 1664.22 1924.91)" fill="#9A93AA" stroke="#F1EAE6" stroke-width="2.2" opacity="0.88"/>
<ellipse cx="1826.48" cy="1944.43" rx="6.27" ry="10.2" transform="rotate(25.92 1826.48 1944.43)" fill="#9A93AA" stroke="#F1EAE6" stroke-width="2.2" opacity="0.88"/>
<ellipse cx="1863.25" cy="1952.75" rx="5.23" ry="9.17" transform="rotate(-17.26 1863.25 1952.75)" fill="#8F8CA6" stroke="#F1EAE6" stroke-width="2.2" opacity="0.88"/>
<ellipse cx="1663.77" cy="2013.56" rx="5.88" ry="9.55" transform="rotate(-44.45 1663.77 2013.56)" fill="#8A93AD" stroke="#F1EAE6" stroke-width="2.2" opacity="0.88"/>
<ellipse cx="1654.95" cy="1978.38" rx="6.06" ry="7.5" transform="rotate(-28.15 1654.95 1978.38)" fill="#A096A8" stroke="#F1EAE6" stroke-width="2.2" opacity="0.88"/>
<ellipse cx="1803.94" cy="1932.48" rx="6.66" ry="9.77" transform="rotate(8.87 1803.94 1932.48)" fill="#8A93AD" stroke="#F1EAE6" stroke-width="2.2" opacity="0.88"/>
<ellipse cx="1850.62" cy="1918.26" rx="5.03" ry="8.52" transform="rotate(10.14 1850.62 1918.26)" fill="#9A93AA" stroke="#F1EAE6" stroke-width="2.2" opacity="0.88"/>
<ellipse cx="1880.72" cy="1938.04" rx="5.08" ry="8.13" transform="rotate(8.29 1880.72 1938.04)" fill="#8F8CA6" stroke="#F1EAE6" stroke-width="2.2" opacity="0.88"/>
<ellipse cx="1669.52" cy="1991.1" rx="6.04" ry="9.57" transform="rotate(-33.13 1669.52 1991.1)" fill="#8F8CA6" stroke="#F1EAE6" stroke-width="2.2" opacity="0.88"/>
<ellipse cx="1716.83" cy="1962.25" rx="5.17" ry="9.94" transform="rotate(21.24 1716.83 1962.25)" fill="#A096A8" stroke="#F1EAE6" stroke-width="2.2" opacity="0.88"/>
<ellipse cx="1747.27" cy="1854.75" rx="5.36" ry="10.16" transform="rotate(4.6 1747.27 1854.75)" fill="#9A93AA" stroke="#F1EAE6" stroke-width="2.2" opacity="0.88"/>
<ellipse cx="1786.06" cy="1994.87" rx="6.47" ry="9.98" transform="rotate(47.93 1786.06 1994.87)" fill="#9A93AA" stroke="#F1EAE6" stroke-width="2.2" opacity="0.88"/>
<ellipse cx="1700.76" cy="1826.61" rx="5.09" ry="9.34" transform="rotate(12.69 1700.76 1826.61)" fill="#9A93AA" stroke="#F1EAE6" stroke-width="2.2" opacity="0.88"/>
<ellipse cx="1703.08" cy="1871.68" rx="5.47" ry="7.94" transform="rotate(-49.01 1703.08 1871.68)" fill="#8A93AD" stroke="#F1EAE6" stroke-width="2.2" opacity="0.88"/>
<ellipse cx="1772.53" cy="1849.54" rx="5.75" ry="9.66" transform="rotate(21.89 1772.53 1849.54)" fill="#9A93AA" stroke="#F1EAE6" stroke-width="2.2" opacity="0.88"/>
<ellipse cx="1648.19" cy="1913.62" rx="4.73" ry="8.27" transform="rotate(-10.67 1648.19 1913.62)" fill="#A096A8" stroke="#F1EAE6" stroke-width="2.2" opacity="0.88"/>
<ellipse cx="1690.94" cy="1966.85" rx="4.69" ry="7.63" transform="rotate(-45.33 1690.94 1966.85)" fill="#9A93AA" stroke="#F1EAE6" stroke-width="2.2" opacity="0.88"/>
<ellipse cx="1863.77" cy="1851.1" rx="6.36" ry="8.37" transform="rotate(23.96 1863.77 1851.1)" fill="#8F8CA6" stroke="#F1EAE6" stroke-width="2.2" opacity="0.88"/>
<ellipse cx="1677.88" cy="1825.68" rx="5.45" ry="8.57" transform="rotate(4.08 1677.88 1825.68)" fill="#9A93AA" stroke="#F1EAE6" stroke-width="2.2" opacity="0.88"/>
<ellipse cx="1825.63" cy="1928.29" rx="4.8" ry="9.91" transform="rotate(-19.44 1825.63 1928.29)" fill="#9A93AA" stroke="#F1EAE6" stroke-width="2.2" opacity="0.88"/>
<ellipse cx="1815.21" cy="1982.28" rx="4.76" ry="10.04" transform="rotate(10.13 1815.21 1982.28)" fill="#9A93AA" stroke="#F1EAE6" stroke-width="2.2" opacity="0.88"/>
<ellipse cx="1835.47" cy="1876.78" rx="6.46" ry="8.99" transform="rotate(21.71 1835.47 1876.78)" fill="#8F8CA6" stroke="#F1EAE6" stroke-width="2.2" opacity="0.88"/>
<ellipse cx="1783.84" cy="1902.53" rx="4.69" ry="8.09" transform="rotate(0.47 1783.84 1902.53)" fill="#8A93AD" stroke="#F1EAE6" stroke-width="2.2" opacity="0.88"/>
<ellipse cx="1715.27" cy="2011.09" rx="6.31" ry="8.36" transform="rotate(-14.4 1715.27 2011.09)" fill="#8F8CA6" stroke="#F1EAE6" stroke-width="2.2" opacity="0.88"/>
<ellipse cx="1744.29" cy="1882.02" rx="5.87" ry="10.03" transform="rotate(-32.07 1744.29 1882.02)" fill="#A096A8" stroke="#F1EAE6" stroke-width="2.2" opacity="0.88"/>
<ellipse cx="1710.65" cy="1839.22" rx="4.84" ry="9.39" transform="rotate(-13.04 1710.65 1839.22)" fill="#A096A8" stroke="#F1EAE6" stroke-width="2.2" opacity="0.88"/>
<ellipse cx="1648.58" cy="1893.48" rx="6.49" ry="8.13" transform="rotate(-0.92 1648.58 1893.48)" fill="#8A93AD" stroke="#F1EAE6" stroke-width="2.2" opacity="0.88"/>
<ellipse cx="1744.88" cy="1823.61" rx="5.24" ry="8.76" transform="rotate(-13.16 1744.88 1823.61)" fill="#8F8CA6" stroke="#F1EAE6" stroke-width="2.2" opacity="0.88"/>
<ellipse cx="1851.9" cy="1821.87" rx="5.42" ry="8.57" transform="rotate(49.41 1851.9 1821.87)" fill="#8F8CA6" stroke="#F1EAE6" stroke-width="2.2" opacity="0.88"/>
<ellipse cx="1819.16" cy="1875.49" rx="4.96" ry="7.86" transform="rotate(39.97 1819.16 1875.49)" fill="#A096A8" stroke="#F1EAE6" stroke-width="2.2" opacity="0.88"/>
<ellipse cx="1841.73" cy="2007.17" rx="4.76" ry="10.04" transform="rotate(-12.03 1841.73 2007.17)" fill="#9A93AA" stroke="#F1EAE6" stroke-width="2.2" opacity="0.88"/>
<ellipse cx="1678.42" cy="1914.17" rx="6.37" ry="9.07" transform="rotate(-17.75 1678.42 1914.17)" fill="#8A93AD" stroke="#F1EAE6" stroke-width="2.2" opacity="0.88"/>
<ellipse cx="1865.41" cy="1897.38" rx="5.97" ry="9.55" transform="rotate(8.01 1865.41 1897.38)" fill="#A096A8" stroke="#F1EAE6" stroke-width="2.2" opacity="0.88"/>
<ellipse cx="1778.56" cy="2015.68" rx="4.81" ry="8.16" transform="rotate(17.05 1778.56 2015.68)" fill="#9A93AA" stroke="#F1EAE6" stroke-width="2.2" opacity="0.88"/>
<ellipse cx="1877.22" cy="1885.99" rx="6.5" ry="7.9" transform="rotate(45.25 1877.22 1885.99)" fill="#8A93AD" stroke="#F1EAE6" stroke-width="2.2" opacity="0.88"/>
<ellipse cx="1706.25" cy="1974.62" rx="4.91" ry="8.57" transform="rotate(13.11 1706.25 1974.62)" fill="#8A93AD" stroke="#F1EAE6" stroke-width="2.2" opacity="0.88"/>
<ellipse cx="1688.89" cy="1986.57" rx="6.6" ry="9.28" transform="rotate(-7.82 1688.89 1986.57)" fill="#8A93AD" stroke="#F1EAE6" stroke-width="2.2" opacity="0.88"/>
<ellipse cx="1737.37" cy="1951.32" rx="5.97" ry="9.61" transform="rotate(25.63 1737.37 1951.32)" fill="#9A93AA" stroke="#F1EAE6" stroke-width="2.2" opacity="0.88"/>
<ellipse cx="1801.88" cy="1992.13" rx="5.4" ry="8.64" transform="rotate(-4.05 1801.88 1992.13)" fill="#9A93AA" stroke="#F1EAE6" stroke-width="2.2" opacity="0.88"/>
<ellipse cx="1766.6" cy="1949.45" rx="6.42" ry="7.26" transform="rotate(9.25 1766.6 1949.45)" fill="#8A93AD" stroke="#F1EAE6" stroke-width="2.2" opacity="0.88"/>
<ellipse cx="1647.25" cy="2014.75" rx="6.15" ry="7.99" transform="rotate(-32.38 1647.25 2014.75)" fill="#A096A8" stroke="#F1EAE6" stroke-width="2.2" opacity="0.88"/>
<ellipse cx="1760.98" cy="1824.98" rx="6.26" ry="9.82" transform="rotate(-21.04 1760.98 1824.98)" fill="#9A93AA" stroke="#F1EAE6" stroke-width="2.2" opacity="0.88"/>
<ellipse cx="1879.92" cy="1959.52" rx="4.92" ry="7.7" transform="rotate(13.07 1879.92 1959.52)" fill="#8F8CA6" stroke="#F1EAE6" stroke-width="2.2" opacity="0.88"/>
<ellipse cx="1691.23" cy="1895.26" rx="5.27" ry="8.72" transform="rotate(7.23 1691.23 1895.26)" fill="#9A93AA" stroke="#F1EAE6" stroke-width="2.2" opacity="0.88"/>
<ellipse cx="1649.9" cy="1958.6" rx="5.79" ry="8.38" transform="rotate(-7.85 1649.9 1958.6)" fill="#8A93AD" stroke="#F1EAE6" stroke-width="2.2" opacity="0.88"/>
<ellipse cx="1745.98" cy="1904.94" rx="6.41" ry="10.15" transform="rotate(4.24 1745.98 1904.94)" fill="#8A93AD" stroke="#F1EAE6" stroke-width="2.2" opacity="0.88"/>
<ellipse cx="1734.4" cy="1802.63" rx="15.45" ry="14.65" fill="#ECECEE" stroke="#6E4A2A" stroke-width="2.5" stroke-opacity="0.7"/>
<ellipse cx="1569.21" cy="1813.29" rx="4.8" ry="10.66" transform="rotate(15 1569.21 1813.29)" fill="#F4EEEA" opacity="0.9"/>
<ellipse cx="1553.22" cy="1794.64" rx="3.73" ry="5.86" transform="rotate(15 1553.22 1794.64)" fill="#F4EEEA" opacity="0.9"/>
<ellipse cx="1618.5" cy="1866.58" rx="5.33" ry="10.66" transform="rotate(15 1618.5 1866.58)" fill="#F4EEEA" opacity="0.9"/>
<ellipse cx="1641.14" cy="1863.91" rx="3.73" ry="9.33" transform="rotate(15 1641.14 1863.91)" fill="#F4EEEA" opacity="0.9"/>
</g>
<path d="M1425.33 1767.99 C1463.96 1767.99 1618.94 1766.66 1657.13 1767.99 C1695.32 1769.33 1655.8 1772.88 1654.47 1775.99 C1653.13 1779.09 1652.69 1782.2 1649.14 1786.64 C1645.59 1791.08 1636.7 1797.75 1633.15 1802.63 C1629.6 1807.52 1633.15 1815.73 1627.82 1815.95 C1622.49 1816.17 1610.95 1808.63 1601.18 1803.96 C1591.41 1799.3 1579.42 1791.53 1569.21 1787.98 C1558.99 1784.42 1550.11 1781.32 1539.9 1782.65 C1529.68 1783.98 1519.03 1788.86 1507.92 1795.97 C1496.82 1803.07 1483.5 1816.84 1473.29 1825.28 C1463.07 1833.71 1454.64 1837.93 1446.64 1846.59 C1438.65 1855.25 1428.88 1872.13 1425.33 1877.23 Z" fill="#DADEE2" filter="url(#blurN)"/>
<g filter="url(#blurN)">
<path d="M1425.33 2061.08 C1433.32 2057.3 1456.41 2044.87 1473.29 2038.43 C1490.16 2031.99 1508.81 2024.44 1526.58 2022.44 C1544.34 2020.44 1562.1 2025.33 1579.86 2026.44 C1597.63 2027.55 1615.39 2030.21 1633.15 2029.1 C1650.91 2027.99 1668.68 2022.44 1686.44 2019.78 C1704.2 2017.11 1719.74 2016.23 1739.73 2013.12 C1759.71 2010.01 1788.57 2003.79 1806.34 2001.13 C1824.1 1998.46 1833.87 1995.13 1846.3 1997.13 C1858.74 1999.13 1875.17 2010.45 1880.94 2013.12 L1880.94 2122.36 L1425.33 2122.36 Z" fill="#DDE3E7"/>
<path d="M1677.49 2069 q44.91 0.34 89.82 -3.06" fill="none" stroke="#F2F3F5" stroke-width="3.01" opacity="0.8"/>
<path d="M1596.21 2093.91 q55.44 -0.09 110.89 -6.92" fill="none" stroke="#BFCBD6" stroke-width="4.57" opacity="0.8"/>
<path d="M1502.53 2111.11 q65.49 -4.73 130.97 -6.4" fill="none" stroke="#E9E4E6" stroke-width="3.38" opacity="0.8"/>
<path d="M1689.15 2110.36 q58.17 0.49 116.35 -7.94" fill="none" stroke="#E9E4E6" stroke-width="4.53" opacity="0.8"/>
<path d="M1563.38 2065.89 q47.26 -6.1 94.52 3.03" fill="none" stroke="#C9CFDA" stroke-width="4.83" opacity="0.8"/>
<path d="M1606.26 2058.08 q51.64 -0.04 103.27 1.12" fill="none" stroke="#E9E4E6" stroke-width="4.84" opacity="0.8"/>
<path d="M1507.59 2059.19 q61.9 -4.92 123.8 -2.01" fill="none" stroke="#C9CFDA" stroke-width="2.31" opacity="0.8"/>
<path d="M1677.15 2056.71 q63.47 -1.55 126.94 -7.04" fill="none" stroke="#BFCBD6" stroke-width="4.39" opacity="0.8"/>
<path d="M1664.84 2071.47 q48.72 -2.49 97.43 -8.14" fill="none" stroke="#C9CFDA" stroke-width="3.32" opacity="0.8"/>
<path d="M1734.1 2101.25 q35.87 -0.63 71.74 -5.08" fill="none" stroke="#F2F3F5" stroke-width="3.81" opacity="0.8"/>
<path d="M1463.85 2056.36 q61.9 -5.61 123.79 1.76" fill="none" stroke="#C9CFDA" stroke-width="3.27" opacity="0.8"/>
<path d="M1683.81 2049.1 q44.88 -7.92 89.75 -11.65" fill="none" stroke="#BFCBD6" stroke-width="4.09" opacity="0.8"/>
<path d="M1531.42 2039.4 q42.8 -5.7 85.59 4.71" fill="none" stroke="#E9E4E6" stroke-width="3.62" opacity="0.8"/>
<path d="M1472.09 2060.29 q64.52 -3.5 129.03 -6.92" fill="none" stroke="#E9E4E6" stroke-width="3.37" opacity="0.8"/>
<path d="M1575.82 2063.3 q59.73 1.73 119.47 -4.88" fill="none" stroke="#E9E4E6" stroke-width="3.93" opacity="0.8"/>
<path d="M1637.61 2054.63 q28.25 -2.27 56.5 0.55" fill="none" stroke="#BFCBD6" stroke-width="3.1" opacity="0.8"/>
<ellipse cx="1555.88" cy="2027.77" rx="5.86" ry="4.26" transform="rotate(20 1555.88 2027.77)" fill="#3C5088" opacity="0.85"/>
<ellipse cx="1506.59" cy="2047.22" rx="9.33" ry="3.73" transform="rotate(-5 1506.59 2047.22)" fill="#455C98" opacity="0.85"/>
<ellipse cx="1602.51" cy="2046.42" rx="13.85" ry="4" transform="rotate(3 1602.51 2046.42)" fill="#6577A8" opacity="0.85"/>
<ellipse cx="1682.44" cy="2039.76" rx="15.99" ry="3.46" transform="rotate(-8 1682.44 2039.76)" fill="#3C5088" opacity="0.85"/>
<ellipse cx="1630.49" cy="2063.74" rx="11.99" ry="5.86" transform="rotate(-10 1630.49 2063.74)" fill="#455C98" opacity="0.85"/>
<ellipse cx="1457.3" cy="2077.06" rx="7.99" ry="5.86" transform="rotate(0 1457.3 2077.06)" fill="#566BA2" opacity="0.85"/>
<ellipse cx="1483.95" cy="2086.39" rx="10.12" ry="6.93" transform="rotate(5 1483.95 2086.39)" fill="#566BA2" opacity="0.85"/>
<ellipse cx="1519.91" cy="2091.72" rx="8.53" ry="9.06" transform="rotate(0 1519.91 2091.72)" fill="#455C98" opacity="0.85"/>
<ellipse cx="1555.88" cy="2097.05" rx="10.66" ry="4.8" transform="rotate(-15 1555.88 2097.05)" fill="#6577A8" opacity="0.85"/>
<ellipse cx="1571.87" cy="2089.05" rx="6.66" ry="4.26" transform="rotate(-20 1571.87 2089.05)" fill="#455C98" opacity="0.85"/>
<ellipse cx="1595.85" cy="2094.38" rx="10.66" ry="4.8" transform="rotate(10 1595.85 2094.38)" fill="#455C98" opacity="0.85"/>
<ellipse cx="1441.32" cy="2095.71" rx="10.66" ry="5.33" transform="rotate(0 1441.32 2095.71)" fill="#566BA2" opacity="0.85"/>
<ellipse cx="1654.47" cy="2096.25" rx="7.99" ry="4.8" transform="rotate(0 1654.47 2096.25)" fill="#3C5088" opacity="0.85"/>
<ellipse cx="1721.08" cy="2104.51" rx="10.12" ry="3.73" transform="rotate(5 1721.08 2104.51)" fill="#3C5088" opacity="0.85"/>
<ellipse cx="1710.42" cy="2091.72" rx="7.99" ry="3.73" transform="rotate(-5 1710.42 2091.72)" fill="#566BA2" opacity="0.85"/>
<ellipse cx="1470.62" cy="2106.37" rx="10.66" ry="3.73" transform="rotate(5 1470.62 2106.37)" fill="#3C5088" opacity="0.85"/>
<ellipse cx="1617.17" cy="2091.72" rx="6.66" ry="3.2" transform="rotate(0 1617.17 2091.72)" fill="#455C98" opacity="0.85"/>
<ellipse cx="1505.26" cy="2074.4" rx="5.86" ry="4.8" transform="rotate(0 1505.26 2074.4)" fill="#6577A8" opacity="0.85"/>
</g>
<rect x="1428.8" y="1772" width="448.1" height="345.8" fill="#000" filter="url(#grainN)" opacity="0.32"/>
</g>
<rect x="1735.3" y="2059.8" width="142.1" height="58.5" fill="#ffffff"/>
<text x="1868.3" y="2080.2" font-size="21.5" fill="#8B4A16" text-anchor="end">URI</text>
<text x="1868.3" y="2105.2" font-size="21.6" fill="#4C6DB3" text-anchor="end">Haematoxilin</text>
<line x1="1824.3" y1="2026.1" x2="1873.9" y2="2026.1" stroke="#1a1a1a" stroke-width="1.6"/>
<text x="1813.3" y="2047.9" font-size="21.5" fill="#1a1a1a">10 µm</text>
</svg>
</body>
</html>
